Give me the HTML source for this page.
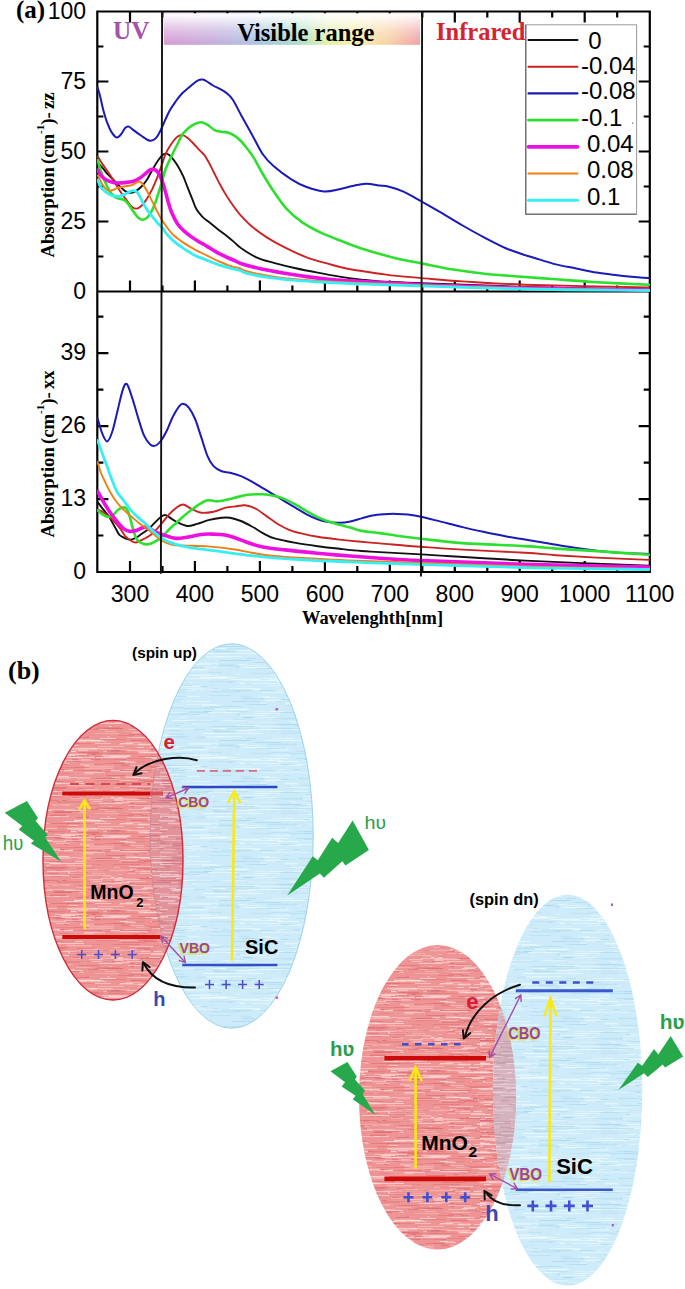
<!DOCTYPE html>
<html><head><meta charset="utf-8"><title>Absorption spectra and band alignment</title>
<style>
html,body{margin:0;padding:0;background:#fff;}
body{width:685px;height:1289px;overflow:hidden;}
svg{display:block;}
.sans{font-family:"Liberation Sans",sans-serif;}
.serif{font-family:"Liberation Serif",serif;}
</style></head><body>
<svg width="685" height="1289" viewBox="0 0 685 1289">
<defs>
<linearGradient id="vis" x1="0" y1="0" x2="1" y2="0">
<stop offset="0" stop-color="#d49ad2"/>
<stop offset="0.18" stop-color="#c6a8da"/>
<stop offset="0.36" stop-color="#a9c2e4"/>
<stop offset="0.52" stop-color="#a6dcc8"/>
<stop offset="0.64" stop-color="#e2f2a6"/>
<stop offset="0.76" stop-color="#f8eca4"/>
<stop offset="0.88" stop-color="#f8cfa4"/>
<stop offset="1" stop-color="#ef9fa6"/>
</linearGradient>
<linearGradient id="fade" x1="0" y1="0" x2="0" y2="1">
<stop offset="0" stop-color="#fff" stop-opacity="1"/>
<stop offset="0.55" stop-color="#fff" stop-opacity="0.35"/>
<stop offset="1" stop-color="#fff" stop-opacity="0"/>
</linearGradient>
</defs>
<rect x="0" y="0" width="685" height="1289" fill="#fff"/>

<path d="M97.3,11.5 H649.8 V572.0 H97.3 Z M97.3,291.5 H649.8 M130.0,572.0 v-10 M130.0,291.5 v-10 M130.0,11.5 v10 M162.5,572.0 v-5 M162.5,291.5 v-5 M162.5,11.5 v5 M194.9,572.0 v-10 M194.9,291.5 v-10 M194.9,11.5 v10 M227.4,572.0 v-5 M227.4,291.5 v-5 M227.4,11.5 v5 M259.9,572.0 v-10 M259.9,291.5 v-10 M259.9,11.5 v10 M292.4,572.0 v-5 M292.4,291.5 v-5 M292.4,11.5 v5 M324.9,572.0 v-10 M324.9,291.5 v-10 M324.9,11.5 v10 M357.3,572.0 v-5 M357.3,291.5 v-5 M357.3,11.5 v5 M389.8,572.0 v-10 M389.8,291.5 v-10 M389.8,11.5 v10 M422.3,572.0 v-5 M422.3,291.5 v-5 M422.3,11.5 v5 M454.8,572.0 v-10 M454.8,291.5 v-10 M454.8,11.5 v10 M487.3,572.0 v-5 M487.3,291.5 v-5 M487.3,11.5 v5 M519.7,572.0 v-10 M519.7,291.5 v-10 M519.7,11.5 v10 M552.2,572.0 v-5 M552.2,291.5 v-5 M552.2,11.5 v5 M584.7,572.0 v-10 M584.7,291.5 v-10 M584.7,11.5 v10 M617.2,572.0 v-5 M617.2,291.5 v-5 M617.2,11.5 v5 M97.3,256.5 h5 M649.8,256.5 h-5 M97.3,221.5 h10 M649.8,221.5 h-10 M97.3,186.5 h5 M649.8,186.5 h-5 M97.3,151.5 h10 M649.8,151.5 h-10 M97.3,116.5 h5 M649.8,116.5 h-5 M97.3,81.5 h10 M649.8,81.5 h-10 M97.3,46.5 h5 M649.8,46.5 h-5 M97.3,535.5 h5 M649.8,535.5 h-5 M97.3,499.1 h10 M649.8,499.1 h-10 M97.3,462.6 h5 M649.8,462.6 h-5 M97.3,426.1 h10 M649.8,426.1 h-10 M97.3,389.7 h5 M649.8,389.7 h-5 M97.3,353.2 h10 M649.8,353.2 h-10 M97.3,316.7 h5 M649.8,316.7 h-5" stroke="#000" stroke-width="2.2" fill="none" stroke-linecap="square"/>
<clipPath id="pc"><rect x="97" y="11" width="553" height="562"/></clipPath>
<g clip-path="url(#pc)" fill="none" stroke-linejoin="round" stroke-linecap="round">
<path d="M97.8,162.5 C98.7,163.5 101.3,166.5 103.0,168.4 C104.7,170.3 106.0,172.3 107.7,174.2 C109.5,176.1 111.5,178.1 113.5,180.0 C115.5,181.9 117.5,184.1 119.4,185.9 C121.4,187.8 123.5,189.9 125.2,191.1 C127.0,192.3 128.2,192.9 129.9,192.9 C131.7,192.9 133.8,192.2 135.7,191.1 C137.6,190.0 139.6,188.5 141.5,186.5 C143.4,184.5 145.5,181.9 147.4,178.9 C149.3,175.9 151.2,171.7 153.2,168.4 C155.1,165.1 157.5,161.2 159.1,159.0 C160.7,156.8 161.4,155.8 162.6,154.9 C163.8,154.0 165.0,153.6 166.1,153.6 C167.2,153.6 168.0,154.0 169.3,155.1 C170.6,156.2 172.4,158.3 174.0,160.4 C175.6,162.5 177.1,164.7 178.7,167.4 C180.3,170.1 181.8,173.2 183.4,176.7 C185.0,180.2 186.4,184.5 188.0,188.4 C189.6,192.3 191.3,196.7 192.7,200.1 C194.1,203.5 194.6,206.0 196.2,208.7 C197.8,211.4 199.9,214.1 202.0,216.3 C204.1,218.5 206.3,219.9 209.0,222.1 C211.7,224.3 215.3,227.3 218.4,229.7 C221.5,232.1 225.0,234.5 227.7,236.7 C230.4,238.8 232.5,240.7 234.7,242.6 C236.9,244.5 237.3,245.6 240.9,248.0 C244.5,250.4 250.8,254.8 256.3,257.3 C261.8,259.8 267.2,261.0 273.8,262.8 C280.4,264.6 288.4,266.6 295.7,268.2 C303.0,269.8 310.3,271.2 317.6,272.6 C324.9,274.0 332.2,275.4 339.5,276.6 C346.8,277.8 354.6,278.8 361.4,279.6 C368.1,280.4 370.0,280.8 380.0,281.4 C390.0,282.0 397.4,282.2 421.6,283.1 C445.8,284.0 487.1,285.8 525.0,286.9 C562.9,288.0 628.3,289.1 649.0,289.5" stroke="#111111" stroke-width="1.9"/>
<path d="M97.8,156.7 C98.7,158.1 101.2,162.2 103.0,164.9 C104.8,167.6 106.8,170.1 108.8,173.0 C110.8,175.9 112.8,179.3 114.7,182.4 C116.7,185.5 118.5,188.8 120.5,191.7 C122.5,194.6 124.5,197.4 126.4,199.9 C128.3,202.4 130.4,205.5 132.2,206.9 C133.9,208.3 135.3,208.8 136.9,208.6 C138.5,208.4 139.9,207.1 141.5,205.7 C143.1,204.2 144.4,202.6 146.2,199.9 C148.0,197.2 150.3,192.9 152.1,189.4 C153.8,185.9 155.1,182.8 156.7,178.9 C158.2,175.0 159.9,170.2 161.4,166.0 C162.9,161.8 164.3,156.9 165.8,153.4 C167.3,149.9 168.9,147.6 170.5,145.2 C172.1,142.8 173.7,140.4 175.2,138.8 C176.7,137.2 177.9,136.2 179.3,135.6 C180.7,135.0 182.0,134.9 183.4,135.3 C184.8,135.7 186.2,136.8 188.0,138.2 C189.8,139.6 192.0,142.0 193.9,144.0 C195.8,146.0 197.9,148.6 199.7,150.4 C201.4,152.2 202.8,153.1 204.4,155.1 C206.0,157.1 207.4,159.9 209.0,162.7 C210.6,165.5 212.1,168.9 213.7,172.0 C215.3,175.1 216.7,178.1 218.4,181.4 C220.2,184.7 222.2,188.6 224.2,191.9 C226.1,195.2 228.1,198.3 230.1,201.2 C232.1,204.1 234.1,207.0 235.9,209.4 C237.7,211.8 238.2,212.8 240.9,215.7 C243.6,218.6 247.5,222.9 251.9,226.6 C256.3,230.2 261.7,234.1 267.2,237.6 C272.7,241.1 278.1,244.1 284.7,247.4 C291.3,250.7 299.3,254.6 306.6,257.3 C313.9,260.1 321.2,261.9 328.5,263.9 C335.8,265.9 341.8,267.7 350.4,269.3 C359.0,270.9 372.2,272.6 380.0,273.7 C387.8,274.8 390.0,275.2 396.9,275.9 C403.8,276.6 410.7,277.2 421.6,278.1 C432.6,279.0 445.4,280.3 462.6,281.4 C479.8,282.5 493.9,283.7 525.0,284.7 C556.1,285.7 628.3,287.0 649.0,287.5" stroke="#cc2222" stroke-width="1.9"/>
<path d="M97.6,87.5 C98.0,89.1 99.4,93.2 100.3,96.9 C101.2,100.6 102.1,105.6 103.2,109.7 C104.3,113.8 105.3,117.7 106.7,121.4 C108.1,125.1 109.8,129.2 111.4,131.9 C113.1,134.6 115.0,137.0 116.6,137.5 C118.1,138.0 119.2,136.4 120.7,134.8 C122.2,133.2 124.0,129.2 125.4,127.8 C126.8,126.4 127.6,126.2 128.9,126.6 C130.2,127.0 131.4,128.5 133.5,130.1 C135.6,131.7 139.0,134.2 141.7,136.0 C144.4,137.8 147.6,140.3 149.9,140.7 C152.2,141.1 153.9,140.0 155.7,138.3 C157.4,136.6 158.8,133.7 160.4,130.7 C162.0,127.7 163.5,123.7 165.1,120.2 C166.7,116.8 168.2,113.2 170.0,110.0 C171.8,106.8 174.0,103.8 176.0,101.0 C178.0,98.2 179.9,95.7 182.0,93.5 C184.1,91.3 186.3,89.7 188.3,88.0 C190.3,86.3 192.3,84.5 194.0,83.2 C195.7,81.9 197.1,80.8 198.5,80.2 C199.9,79.6 201.1,79.4 202.5,79.6 C203.9,79.8 205.2,80.5 207.0,81.5 C208.8,82.5 210.9,84.3 213.0,85.5 C215.1,86.7 217.5,87.6 219.8,88.9 C222.1,90.2 224.6,91.5 226.8,93.3 C229.0,95.1 230.7,96.4 233.0,100.0 C235.3,103.6 237.8,109.0 240.9,114.7 C244.1,120.4 248.2,127.8 251.9,134.4 C255.6,141.0 259.2,148.9 262.8,154.2 C266.4,159.5 269.1,162.1 273.8,166.3 C278.6,170.5 285.8,175.9 291.3,179.3 C296.8,182.8 301.1,185.0 306.6,187.0 C312.1,189.0 318.7,191.0 324.2,191.4 C329.7,191.8 334.8,190.1 339.5,189.2 C344.2,188.3 348.2,186.8 352.6,185.9 C357.0,185.0 361.2,183.8 365.8,183.7 C370.4,183.6 376.3,185.0 380.0,185.5 C383.7,186.0 384.2,185.5 388.1,186.5 C392.0,187.5 397.9,189.1 403.5,191.6 C409.1,194.1 415.4,198.0 421.6,201.5 C427.8,205.0 433.9,208.4 440.7,212.4 C447.5,216.4 455.3,221.3 462.6,225.5 C469.9,229.7 477.2,233.8 484.5,237.6 C491.8,241.4 499.6,245.6 506.4,248.5 C513.1,251.4 520.2,253.5 525.0,255.1 C529.8,256.7 530.2,256.6 535.4,258.2 C540.5,259.8 549.1,262.7 555.9,264.4 C562.7,266.1 569.5,267.1 576.3,268.5 C583.1,269.9 589.9,271.5 596.7,272.6 C603.5,273.7 610.4,274.4 617.2,275.2 C624.0,276.0 632.3,276.8 637.6,277.3 C642.9,277.8 647.1,278.0 649.0,278.1" stroke="#1a1ab8" stroke-width="2.0"/>
<path d="M97.8,160.2 C98.3,161.9 99.5,167.0 100.7,170.7 C102.0,174.4 103.8,178.9 105.3,182.4 C106.8,185.9 108.2,189.2 110.0,191.7 C111.8,194.2 113.6,196.2 115.9,197.6 C118.2,199.0 121.9,198.7 124.0,199.9 C126.1,201.1 127.1,202.7 128.7,204.6 C130.3,206.5 131.8,209.5 133.4,211.6 C135.0,213.7 136.4,216.1 138.0,217.4 C139.6,218.8 141.1,219.7 142.7,219.7 C144.3,219.7 145.8,218.9 147.4,217.4 C149.0,215.9 150.6,213.5 152.1,210.4 C153.6,207.3 155.1,203.2 156.7,198.7 C158.2,194.2 159.9,188.5 161.4,183.5 C162.9,178.5 164.1,173.1 165.8,168.5 C167.5,163.9 169.8,159.8 171.7,155.7 C173.6,151.6 175.6,147.7 177.5,144.0 C179.4,140.3 180.6,136.7 183.0,133.6 C185.4,130.5 188.9,127.6 191.8,125.7 C194.7,123.8 198.0,122.4 200.6,122.2 C203.2,122.0 205.3,123.5 207.6,124.8 C209.9,126.1 212.3,128.9 214.6,130.1 C216.9,131.3 219.3,131.4 221.6,131.8 C223.9,132.2 226.4,132.0 228.6,132.7 C230.8,133.4 232.6,134.4 234.7,135.8 C236.8,137.2 238.8,138.8 240.9,141.0 C243.0,143.2 245.3,146.2 247.5,149.0 C249.7,151.8 251.4,153.9 254.0,158.1 C256.6,162.3 259.5,168.4 262.8,174.0 C266.1,179.6 269.8,185.7 273.8,191.5 C277.8,197.3 282.1,204.0 286.9,209.1 C291.6,214.2 296.4,218.3 302.3,222.3 C308.2,226.3 315.1,229.9 322.0,233.2 C328.9,236.5 337.3,239.4 343.9,242.0 C350.5,244.6 355.4,246.5 361.4,248.5 C367.4,250.5 374.1,252.3 380.0,254.0 C385.9,255.7 390.0,256.8 396.9,258.4 C403.8,260.0 412.5,261.6 421.6,263.4 C430.7,265.2 441.1,267.6 451.6,269.3 C462.1,271.0 472.3,272.4 484.5,273.7 C496.7,275.0 513.1,276.1 525.0,277.0 C536.9,277.9 543.9,278.4 555.9,279.3 C567.9,280.2 581.2,281.3 596.7,282.2 C612.2,283.1 640.3,284.4 649.0,284.8" stroke="#2ee02e" stroke-width="2.6"/>
<path d="M97.8,170.1 C98.5,171.2 100.1,174.8 101.8,176.5 C103.5,178.2 105.8,179.6 107.7,180.6 C109.7,181.6 111.5,182.0 113.5,182.4 C115.5,182.8 117.2,183.0 119.4,183.0 C121.6,183.0 124.1,182.7 126.4,182.4 C128.7,182.1 131.1,182.0 133.4,181.2 C135.7,180.4 138.3,179.1 140.4,177.7 C142.5,176.3 144.4,174.4 146.2,173.0 C147.9,171.6 149.3,170.0 150.9,169.5 C152.5,169.0 154.2,169.3 155.6,170.1 C157.0,170.9 157.9,172.1 159.1,174.2 C160.3,176.2 161.5,179.2 162.6,182.4 C163.7,185.6 164.8,189.7 165.8,193.1 C166.8,196.5 167.5,199.8 168.5,203.0 C169.5,206.2 170.2,209.0 171.7,212.5 C173.2,216.0 175.6,220.9 177.5,223.9 C179.4,226.9 181.2,228.3 183.4,230.3 C185.6,232.3 187.9,234.2 190.4,236.1 C192.9,237.9 195.8,239.7 198.5,241.4 C201.2,243.1 203.8,244.3 206.7,246.1 C209.6,247.8 213.0,250.2 216.1,251.9 C219.2,253.7 222.3,255.1 225.4,256.6 C228.5,258.1 231.8,259.4 234.7,260.7 C237.6,262.0 238.4,262.8 243.1,264.2 C247.8,265.6 255.9,267.8 262.8,269.3 C269.7,270.8 277.4,272.1 284.7,273.3 C292.0,274.5 299.3,275.6 306.6,276.6 C313.9,277.6 321.2,278.5 328.5,279.2 C335.8,279.9 341.8,280.3 350.4,280.9 C359.0,281.4 368.1,281.9 380.0,282.5 C391.9,283.1 397.4,283.8 421.6,284.7 C445.8,285.6 487.1,287.1 525.0,288.0 C562.9,288.9 628.3,289.7 649.0,290.0" stroke="#ee10e0" stroke-width="3.6"/>
<path d="M97.8,175.4 C98.5,176.8 100.3,181.2 101.8,183.5 C103.2,185.8 104.9,188.2 106.5,189.4 C108.1,190.6 109.5,190.7 111.2,190.5 C113.0,190.3 114.9,188.9 117.0,188.2 C119.1,187.5 121.7,187.0 124.0,186.5 C126.3,186.0 128.8,186.0 131.0,185.3 C133.2,184.6 135.3,183.0 136.9,182.4 C138.5,181.8 139.2,181.2 140.4,181.8 C141.6,182.4 142.5,183.9 143.9,185.9 C145.3,187.9 147.1,191.2 148.6,194.1 C150.1,197.0 151.6,200.3 153.2,203.4 C154.8,206.5 156.5,210.0 157.9,212.7 C159.3,215.4 160.3,217.4 161.8,219.8 C163.3,222.2 165.0,224.8 167.0,227.4 C169.0,230.0 171.3,233.0 174.0,235.5 C176.7,238.0 179.9,240.2 183.4,242.6 C186.9,244.9 191.1,247.5 195.0,249.6 C198.9,251.7 202.8,253.5 206.7,255.4 C210.6,257.3 214.5,259.4 218.4,261.2 C222.3,262.9 226.5,264.7 230.1,265.9 C233.7,267.1 237.1,267.6 240.0,268.5 C242.9,269.4 241.9,270.1 247.5,271.5 C253.1,272.9 265.8,275.3 273.8,276.6 C281.8,277.9 286.6,278.4 295.7,279.2 C304.8,280.0 314.4,280.7 328.5,281.4 C342.6,282.1 347.2,282.4 380.0,283.6 C412.8,284.8 480.2,287.4 525.0,288.5 C569.8,289.6 628.3,290.2 649.0,290.5" stroke="#ee7f10" stroke-width="1.9"/>
<path d="M97.8,180.0 C98.3,181.2 99.5,185.1 100.7,187.0 C102.0,188.9 103.5,190.3 105.3,191.7 C107.0,193.1 109.0,194.4 111.2,195.2 C113.4,196.0 115.9,196.6 118.2,196.4 C120.5,196.2 123.1,195.0 125.2,194.1 C127.3,193.2 129.2,191.6 131.0,191.1 C132.8,190.6 134.3,190.4 135.7,191.1 C137.1,191.8 138.0,193.3 139.2,195.2 C140.4,197.0 141.3,199.7 142.7,202.2 C144.1,204.7 145.7,207.8 147.4,210.4 C149.2,213.0 151.4,215.4 153.2,217.6 C155.0,219.8 156.6,221.9 158.0,223.5 C159.4,225.1 160.3,225.2 161.8,227.0 C163.3,228.8 165.0,232.0 167.0,234.4 C169.0,236.8 171.3,239.1 174.0,241.4 C176.7,243.7 179.9,246.1 183.4,248.4 C186.9,250.7 191.1,253.4 195.0,255.4 C198.9,257.4 202.8,258.6 206.7,260.1 C210.6,261.7 214.5,263.4 218.4,264.7 C222.3,266.0 226.5,267.2 230.1,268.2 C233.7,269.2 237.1,269.6 240.0,270.5 C242.9,271.4 241.9,272.4 247.5,273.7 C253.1,275.0 265.8,277.0 273.8,278.1 C281.8,279.2 286.6,279.6 295.7,280.3 C304.8,281.0 314.4,281.8 328.5,282.5 C342.6,283.2 347.2,283.6 380.0,284.7 C412.8,285.8 480.2,288.0 525.0,289.0 C569.8,290.0 628.3,290.2 649.0,290.5" stroke="#38eef5" stroke-width="2.8"/>
<path d="M97.8,502.2 C98.7,503.4 101.2,506.9 103.0,509.2 C104.8,511.5 106.8,513.3 108.8,516.2 C110.8,519.1 112.9,523.6 114.7,526.7 C116.5,529.8 117.7,533.0 119.4,534.9 C121.2,536.8 123.3,537.6 125.2,538.4 C127.1,539.2 129.1,539.8 131.0,539.6 C132.9,539.4 135.0,538.3 136.9,537.2 C138.8,536.1 140.8,534.5 142.7,533.1 C144.6,531.7 146.6,530.6 148.6,529.0 C150.6,527.4 152.5,525.1 154.4,523.2 C156.3,521.3 158.4,518.8 160.2,517.4 C161.9,516.0 163.3,515.0 164.9,515.0 C166.5,515.0 167.8,516.3 169.6,517.4 C171.4,518.5 173.1,520.1 176.0,521.5 C178.9,522.9 183.5,525.6 187.0,526.0 C190.5,526.4 193.5,524.9 197.2,523.9 C200.9,522.9 205.3,520.9 209.4,519.9 C213.5,518.9 218.3,518.2 221.7,517.8 C225.1,517.4 226.8,517.2 230.0,517.7 C233.2,518.2 237.2,519.5 240.9,521.0 C244.6,522.5 248.2,524.5 251.9,526.5 C255.6,528.5 259.2,531.2 262.8,533.1 C266.4,535.0 268.3,536.5 273.8,538.1 C279.3,539.7 288.4,541.5 295.7,542.9 C303.0,544.2 310.3,545.2 317.6,546.2 C324.9,547.2 332.2,548.0 339.5,548.8 C346.8,549.6 354.6,550.5 361.4,551.0 C368.1,551.5 370.1,551.5 380.0,552.1 C389.9,552.7 396.8,553.0 421.0,554.4 C445.2,555.8 487.0,558.7 525.0,560.6 C563.0,562.5 628.3,564.9 649.0,565.8" stroke="#111111" stroke-width="1.9"/>
<path d="M97.8,509.8 C98.7,510.2 101.2,511.0 103.0,512.1 C104.8,513.2 106.8,514.6 108.8,516.2 C110.8,517.9 112.8,519.9 114.7,522.0 C116.7,524.1 118.8,526.6 120.5,529.0 C122.2,531.4 123.5,534.1 125.2,536.1 C127.0,538.1 129.2,539.6 131.0,540.7 C132.8,541.8 134.1,542.5 135.7,542.5 C137.3,542.5 138.7,541.5 140.4,540.7 C142.2,539.9 144.2,539.0 146.2,537.8 C148.1,536.6 150.1,535.4 152.1,533.7 C154.1,532.1 156.0,530.0 157.9,527.9 C159.8,525.8 161.8,523.2 163.7,520.9 C165.6,518.6 167.5,516.0 169.6,513.9 C171.7,511.8 173.8,509.6 176.0,508.0 C178.2,506.4 180.4,504.4 182.9,504.5 C185.4,504.6 188.0,507.2 191.1,508.6 C194.2,510.0 197.6,512.2 201.3,512.7 C205.0,513.2 209.4,512.5 213.5,511.7 C217.6,510.8 222.0,508.5 225.8,507.6 C229.7,506.7 233.3,506.7 236.6,506.3 C239.8,505.9 242.0,504.9 245.3,505.3 C248.6,505.8 252.7,507.1 256.3,509.0 C259.9,510.9 263.6,514.1 267.2,516.6 C270.8,519.1 274.5,522.1 278.2,524.3 C281.9,526.5 285.1,528.2 289.1,529.8 C293.1,531.4 297.6,532.5 302.3,533.7 C307.1,534.9 311.4,535.8 317.6,536.8 C323.8,537.8 332.2,538.8 339.5,539.6 C346.8,540.4 354.6,541.2 361.4,541.8 C368.1,542.4 370.1,542.6 380.0,543.4 C389.9,544.2 407.2,545.8 421.0,546.8 C434.8,547.8 445.3,548.6 462.6,549.6 C479.9,550.6 509.4,551.8 525.0,552.7 C540.5,553.6 543.9,554.4 555.9,555.2 C567.9,556.0 581.2,556.8 596.7,557.6 C612.2,558.4 640.3,559.5 649.0,559.9" stroke="#cc2222" stroke-width="1.9"/>
<path d="M97.5,418.0 C98.3,420.6 100.6,429.5 102.2,433.4 C103.8,437.3 105.6,441.9 107.3,441.5 C109.0,441.1 110.7,436.4 112.4,431.3 C114.1,426.2 115.8,417.7 117.5,410.9 C119.2,404.1 121.1,394.9 122.6,390.4 C124.1,385.9 125.2,382.9 126.7,383.9 C128.2,384.9 129.9,391.1 131.8,396.6 C133.7,402.1 135.9,410.5 137.9,417.0 C139.9,423.5 141.9,430.8 144.0,435.4 C146.1,440.0 148.3,442.9 150.2,444.6 C152.1,446.3 153.6,446.1 155.3,445.6 C157.0,445.1 158.5,443.9 160.4,441.5 C162.3,439.1 164.4,435.4 166.5,431.3 C168.6,427.2 170.6,421.1 172.7,417.0 C174.8,412.9 177.1,409.0 178.8,406.8 C180.5,404.6 181.2,403.5 182.9,403.7 C184.6,403.9 187.0,405.2 189.0,407.8 C191.0,410.4 193.0,414.1 195.1,419.0 C197.2,423.9 199.2,431.3 201.3,437.4 C203.4,443.5 205.4,451.0 207.4,455.8 C209.4,460.6 211.1,463.5 213.5,466.1 C215.9,468.7 218.9,470.1 221.7,471.2 C224.4,472.3 226.8,472.0 230.0,472.8 C233.2,473.6 237.2,474.6 240.9,476.1 C244.6,477.6 248.2,479.6 251.9,481.6 C255.6,483.6 259.2,486.0 262.8,488.2 C266.4,490.4 270.2,492.5 273.8,494.7 C277.4,496.9 281.1,499.1 284.7,501.3 C288.3,503.5 292.0,505.7 295.7,507.9 C299.4,510.1 303.0,512.5 306.6,514.4 C310.2,516.3 314.0,518.0 317.6,519.3 C321.2,520.6 324.9,521.5 328.5,522.1 C332.1,522.7 335.9,522.9 339.5,522.8 C343.1,522.7 346.8,522.2 350.4,521.5 C354.0,520.8 357.8,519.4 361.4,518.4 C365.0,517.4 368.5,516.2 372.3,515.5 C376.1,514.8 379.9,514.5 384.0,514.2 C388.1,513.9 392.9,513.8 396.9,513.9 C400.9,514.0 403.8,514.1 407.8,514.6 C411.8,515.1 415.5,515.6 421.0,516.8 C426.5,518.0 433.8,519.9 440.7,521.6 C447.6,523.3 455.3,525.4 462.6,527.1 C469.9,528.9 477.2,530.5 484.5,532.1 C491.8,533.7 499.6,535.2 506.4,536.5 C513.1,537.8 518.5,538.5 525.0,539.6 C531.5,540.7 537.2,541.5 545.7,542.9 C554.2,544.3 567.8,546.7 576.3,548.0 C584.8,549.3 589.9,549.9 596.7,550.7 C603.5,551.5 608.5,552.2 617.2,552.7 C625.9,553.2 643.7,553.8 649.0,554.0" stroke="#1a1ab8" stroke-width="2.0"/>
<path d="M97.8,510.4 C98.5,511.0 100.1,512.8 101.8,513.9 C103.5,515.0 105.8,516.7 107.7,516.8 C109.7,516.9 111.8,515.7 113.5,514.5 C115.2,513.3 116.6,511.0 118.2,509.8 C119.8,508.6 121.5,507.5 122.9,507.4 C124.4,507.3 125.7,507.5 126.9,509.2 C128.1,510.9 128.8,513.9 129.9,517.4 C131.0,520.9 132.2,526.5 133.4,530.2 C134.6,533.9 135.4,537.4 136.9,539.6 C138.4,541.8 140.8,542.8 142.7,543.6 C144.6,544.4 146.6,544.5 148.6,544.2 C150.6,543.9 152.5,542.9 154.4,541.9 C156.3,540.9 158.2,539.9 160.2,538.4 C162.1,536.9 164.1,534.5 166.1,532.6 C168.1,530.7 170.2,528.3 171.9,526.7 C173.6,525.1 174.5,524.6 176.0,523.2 C177.5,521.8 178.1,521.0 181.0,518.5 C183.9,516.0 189.3,511.3 193.6,508.3 C197.9,505.3 202.6,501.8 206.7,500.6 C210.8,499.4 214.0,501.7 218.4,501.3 C222.8,500.9 228.1,499.3 233.0,498.2 C237.9,497.1 242.6,495.4 247.6,494.8 C252.6,494.2 258.4,494.1 262.8,494.3 C267.2,494.5 270.2,495.0 273.8,495.8 C277.4,496.6 281.1,497.6 284.7,499.1 C288.3,500.6 292.0,502.6 295.7,504.6 C299.4,506.6 303.0,509.1 306.6,511.2 C310.2,513.3 314.0,515.4 317.6,517.1 C321.2,518.8 324.9,520.2 328.5,521.5 C332.1,522.8 335.9,523.7 339.5,524.7 C343.1,525.7 346.8,526.6 350.4,527.6 C354.0,528.6 356.5,530.0 361.4,530.9 C366.3,531.8 374.1,532.3 380.0,533.1 C385.9,533.9 390.1,534.9 396.9,535.8 C403.7,536.7 410.1,537.5 421.0,538.7 C431.9,539.9 445.3,541.9 462.6,543.1 C479.9,544.3 509.4,545.2 525.0,546.1 C540.5,547.0 543.9,547.8 555.9,548.6 C567.9,549.4 581.2,550.1 596.7,551.1 C612.2,552.1 640.3,554.2 649.0,554.8" stroke="#2ee02e" stroke-width="2.6"/>
<path d="M97.8,491.7 C98.7,493.2 101.2,497.9 103.0,501.0 C104.8,504.1 106.8,507.5 108.8,510.4 C110.8,513.3 112.9,516.2 114.7,518.5 C116.5,520.8 117.9,522.6 119.4,524.4 C121.0,526.1 122.2,527.8 124.0,529.0 C125.8,530.2 127.8,531.2 129.9,531.4 C132.1,531.6 134.6,530.9 136.9,530.2 C139.2,529.5 142.0,527.7 143.9,527.3 C145.8,526.9 146.8,527.2 148.6,527.9 C150.3,528.6 152.3,530.3 154.4,531.4 C156.5,532.5 159.1,533.4 161.4,534.3 C163.7,535.2 166.0,535.9 168.4,536.6 C170.8,537.3 172.9,538.3 176.0,538.4 C179.1,538.5 182.4,537.9 187.0,537.2 C191.6,536.5 198.6,534.8 203.3,534.3 C208.0,533.8 211.4,534.1 215.0,534.2 C218.6,534.3 221.7,534.4 225.0,535.0 C228.3,535.6 231.7,536.7 235.0,537.8 C238.3,538.9 242.2,540.5 245.0,541.5 C247.8,542.5 248.9,543.1 251.9,544.0 C254.9,544.9 257.3,545.9 262.8,546.9 C268.3,547.9 277.4,549.0 284.7,549.9 C292.0,550.8 299.3,551.4 306.6,552.1 C313.9,552.8 321.2,553.6 328.5,554.3 C335.8,554.9 341.8,555.4 350.4,556.0 C359.0,556.6 368.2,557.4 380.0,558.2 C391.8,559.0 396.8,559.6 421.0,560.6 C445.2,561.6 487.0,563.2 525.0,564.3 C563.0,565.4 628.3,566.5 649.0,567.0" stroke="#ee10e0" stroke-width="3.6"/>
<path d="M97.5,462.0 C98.1,463.8 99.9,470.0 101.0,473.0 C102.1,476.0 102.7,476.9 104.2,480.0 C105.7,483.1 108.0,488.2 110.0,491.7 C112.0,495.2 113.8,498.1 115.9,501.0 C118.1,503.9 120.4,506.7 122.9,509.2 C125.4,511.7 128.3,513.9 131.0,516.2 C133.7,518.5 136.5,521.1 139.2,523.2 C141.9,525.3 144.9,527.0 147.4,529.0 C149.9,531.0 152.3,533.1 154.4,534.9 C156.5,536.7 157.9,538.1 160.2,539.6 C162.5,541.1 165.8,542.6 168.4,543.6 C171.0,544.6 172.9,545.1 176.0,545.4 C179.1,545.7 181.8,545.4 187.0,545.6 C192.2,545.8 199.4,545.8 207.4,546.4 C215.4,547.0 227.6,548.4 235.0,549.5 C242.4,550.6 245.4,551.7 251.9,552.8 C258.4,553.9 264.7,555.1 273.8,556.0 C282.9,556.9 295.7,557.5 306.6,558.2 C317.6,558.9 327.3,559.5 339.5,560.0 C351.7,560.5 349.1,560.4 380.0,561.5 C410.9,562.6 480.2,565.2 525.0,566.5 C569.8,567.8 628.3,568.6 649.0,569.0" stroke="#ee7f10" stroke-width="1.9"/>
<path d="M97.5,440.5 C98.5,443.1 101.5,451.2 103.2,456.0 C105.0,460.8 106.7,465.3 108.0,469.0 C109.3,472.7 109.8,474.2 111.3,478.0 C112.8,481.8 114.9,487.9 117.0,491.7 C119.1,495.5 121.7,497.9 124.0,501.0 C126.3,504.1 128.7,507.7 131.0,510.4 C133.3,513.1 135.7,515.3 138.0,517.4 C140.3,519.5 142.7,521.1 145.0,523.2 C147.3,525.3 149.7,528.1 152.0,530.2 C154.3,532.4 156.8,534.4 159.1,536.1 C161.4,537.9 163.3,539.3 166.1,540.7 C168.9,542.1 172.7,543.3 176.0,544.3 C179.3,545.3 182.5,546.2 186.0,546.9 C189.5,547.6 191.9,548.0 197.2,548.7 C202.5,549.4 211.3,550.3 217.6,551.1 C223.9,551.9 229.3,552.9 235.0,553.6 C240.7,554.4 245.4,554.9 251.9,555.6 C258.4,556.3 264.7,557.1 273.8,557.8 C282.9,558.5 295.7,559.4 306.6,560.0 C317.6,560.6 327.3,561.0 339.5,561.5 C351.7,562.0 349.1,562.1 380.0,563.1 C410.9,564.1 480.2,566.5 525.0,567.6 C569.8,568.7 628.3,569.2 649.0,569.5" stroke="#38eef5" stroke-width="2.8"/>
</g>
<path d="M162.1,12 L160.9,573.8 M422.1,12 L421,576.5" stroke="#111" stroke-width="1.9" fill="none"/>
<rect x="163.8" y="13.5" width="256.2" height="31.3" fill="url(#vis)"/>
<rect x="163.8" y="13.5" width="256.2" height="31.3" fill="url(#fade)"/>
<g class="sans" font-size="23" fill="#000" text-anchor="end">
<text x="86" y="18.5">100</text>
<text x="86" y="88.5">75</text>
<text x="86" y="158.5">50</text>
<text x="86" y="228.5">25</text>
<text x="86" y="298.5">0</text>
<text x="86" y="360.2">39</text>
<text x="86" y="433.1">26</text>
<text x="86" y="506.1">13</text>
<text x="86" y="579.0">0</text>
</g>
<g class="sans" font-size="23" fill="#000" text-anchor="middle">
<text x="130.0" y="602">300</text>
<text x="194.9" y="602">400</text>
<text x="259.9" y="602">500</text>
<text x="324.9" y="602">600</text>
<text x="389.8" y="602">700</text>
<text x="454.8" y="602">800</text>
<text x="519.7" y="602">900</text>
<text x="584.7" y="602">1000</text>
<text x="649.7" y="602">1100</text>
</g>
<text class="serif" x="16" y="18" font-size="25" font-weight="bold">(a)</text>
<text class="serif" x="302" y="623.5" font-size="18.4" font-weight="bold">Wavelenghth[nm]</text>
<text class="serif" font-size="18.7" font-weight="bold" word-spacing="-1.5" transform="translate(54,257.5) rotate(-90)">Absorption (cm<tspan font-size="11" dy="-10">-1</tspan><tspan dy="10">)- zz</tspan></text>
<text class="serif" font-size="18.7" font-weight="bold" word-spacing="-1.5" transform="translate(54,537.5) rotate(-90)">Absorption (cm<tspan font-size="11" dy="-10">-1</tspan><tspan dy="10">)- xx</tspan></text>
<text class="serif" x="113" y="38.7" font-size="25.2" font-weight="bold" fill="#a651a8">UV</text>
<text class="serif" x="237.2" y="40.7" font-size="24.4" font-weight="bold" fill="#000" textLength="137.3" lengthAdjust="spacingAndGlyphs">Visible range</text>
<text class="serif" x="436" y="40.2" font-size="24.5" font-weight="bold" fill="#d42430">Infrared</text>
<rect x="525.8" y="24.8" width="110.8" height="189.4" fill="#fff" stroke="#999" stroke-width="1"/>
<path d="M525.8,24.8 V214.2 H636.6" stroke="#555" stroke-width="1" fill="none"/>
<path d="M528.5,40.0 H577.5" stroke="#111111" stroke-width="2.1" stroke-linecap="round"/>
<path d="M528.5,66.7 H577.5" stroke="#cc2222" stroke-width="2.1" stroke-linecap="round"/>
<path d="M528.5,93.4 H577.5" stroke="#1a1ab8" stroke-width="2.2" stroke-linecap="round"/>
<path d="M528.5,120.1 H577.5" stroke="#2ee02e" stroke-width="2.8000000000000003" stroke-linecap="round"/>
<path d="M528.5,146.8 H577.5" stroke="#ee10e0" stroke-width="3.8000000000000003" stroke-linecap="round"/>
<path d="M528.5,173.5 H577.5" stroke="#ee7f10" stroke-width="2.1" stroke-linecap="round"/>
<path d="M528.5,200.2 H577.5" stroke="#38eef5" stroke-width="3.0" stroke-linecap="round"/>
<g class="sans" font-size="24" fill="#000">
<text x="588.3" y="49.2">0</text>
<text x="581" y="73.5">-0.04</text>
<text x="581" y="99.3">-0.08</text>
<text x="581" y="125.8">-0.1</text>
<text x="587" y="151.6">0.04</text>
<text x="587" y="178.2">0.08</text>
<text x="587" y="204.7">0.1</text>
</g>
<rect x="632" y="122.5" width="1.2" height="1.5" fill="#888"/>
<defs><pattern id="redtex" patternUnits="userSpaceOnUse" width="160" height="80">
<rect width="160" height="80" fill="#ee9494"/>
<path d="M151,41.5h14" stroke="#fde0de" stroke-width="1" stroke-opacity="0.67"/>
<path d="M-9,41.5h14" stroke="#fde0de" stroke-width="1" stroke-opacity="0.67"/>
<path d="M85,46.5h29" stroke="#fde0de" stroke-width="1.5" stroke-opacity="0.34"/>
<path d="M23,8.5h19" stroke="#fde0de" stroke-width="1" stroke-opacity="0.55"/>
<path d="M151,74.5h20" stroke="#fde0de" stroke-width="1" stroke-opacity="0.74"/>
<path d="M-9,74.5h20" stroke="#fde0de" stroke-width="1" stroke-opacity="0.74"/>
<path d="M135,71.5h11" stroke="#fde0de" stroke-width="1" stroke-opacity="0.35"/>
<path d="M127,71.5h8" stroke="#de6a70" stroke-width="1" stroke-opacity="0.59"/>
<path d="M79,12.5h5" stroke="#fde0de" stroke-width="1.5" stroke-opacity="0.39"/>
<path d="M64,40.5h30" stroke="#fde0de" stroke-width="1" stroke-opacity="0.41"/>
<path d="M-5,31.5h12" stroke="#fde0de" stroke-width="1.5" stroke-opacity="0.45"/>
<path d="M90,36.5h5" stroke="#fde0de" stroke-width="1" stroke-opacity="0.37"/>
<path d="M148,19.5h15" stroke="#de6a70" stroke-width="1" stroke-opacity="0.33"/>
<path d="M-12,19.5h15" stroke="#de6a70" stroke-width="1" stroke-opacity="0.33"/>
<path d="M105,43.5h20" stroke="#de6a70" stroke-width="1" stroke-opacity="0.51"/>
<path d="M65,34.5h22" stroke="#fde0de" stroke-width="1.5" stroke-opacity="0.62"/>
<path d="M109,36.5h29" stroke="#fde0de" stroke-width="1" stroke-opacity="0.72"/>
<path d="M90,21.5h17" stroke="#fde0de" stroke-width="1" stroke-opacity="0.43"/>
<path d="M50,50.5h28" stroke="#fde0de" stroke-width="1" stroke-opacity="0.50"/>
<path d="M127,17.5h28" stroke="#fde0de" stroke-width="1" stroke-opacity="0.49"/>
<path d="M152,48.5h7" stroke="#fde0de" stroke-width="1" stroke-opacity="0.40"/>
<path d="M67,1.5h20" stroke="#fde0de" stroke-width="1.5" stroke-opacity="0.30"/>
<path d="M46,68.5h19" stroke="#de6a70" stroke-width="1" stroke-opacity="0.61"/>
<path d="M142,58.5h26" stroke="#de6a70" stroke-width="1.5" stroke-opacity="0.66"/>
<path d="M-18,58.5h26" stroke="#de6a70" stroke-width="1.5" stroke-opacity="0.66"/>
<path d="M52,50.5h6" stroke="#de6a70" stroke-width="1" stroke-opacity="0.33"/>
<path d="M59,26.5h6" stroke="#de6a70" stroke-width="1" stroke-opacity="0.35"/>
<path d="M-2,68.5h14" stroke="#fde0de" stroke-width="1.5" stroke-opacity="0.69"/>
<path d="M94,19.5h31" stroke="#de6a70" stroke-width="1" stroke-opacity="0.51"/>
<path d="M159,62.5h17" stroke="#fde0de" stroke-width="1" stroke-opacity="0.34"/>
<path d="M-1,62.5h17" stroke="#fde0de" stroke-width="1" stroke-opacity="0.34"/>
<path d="M113,43.5h17" stroke="#de6a70" stroke-width="1" stroke-opacity="0.53"/>
<path d="M45,67.5h23" stroke="#de6a70" stroke-width="1" stroke-opacity="0.64"/>
<path d="M105,11.5h11" stroke="#fde0de" stroke-width="1" stroke-opacity="0.38"/>
<path d="M77,68.5h18" stroke="#de6a70" stroke-width="1" stroke-opacity="0.58"/>
<path d="M127,30.5h24" stroke="#fde0de" stroke-width="1" stroke-opacity="0.53"/>
<path d="M158,3.5h26" stroke="#fde0de" stroke-width="1" stroke-opacity="0.39"/>
<path d="M-2,3.5h26" stroke="#fde0de" stroke-width="1" stroke-opacity="0.39"/>
<path d="M126,57.5h24" stroke="#fde0de" stroke-width="1" stroke-opacity="0.74"/>
<path d="M-2,28.5h17" stroke="#fde0de" stroke-width="1" stroke-opacity="0.52"/>
<path d="M144,61.5h13" stroke="#de6a70" stroke-width="1" stroke-opacity="0.68"/>
<path d="M121,49.5h25" stroke="#fde0de" stroke-width="1" stroke-opacity="0.38"/>
<path d="M124,11.5h31" stroke="#fde0de" stroke-width="1" stroke-opacity="0.48"/>
<path d="M11,20.5h7" stroke="#fde0de" stroke-width="1" stroke-opacity="0.71"/>
<path d="M129,78.5h31" stroke="#de6a70" stroke-width="1" stroke-opacity="0.46"/>
<path d="M-31,78.5h31" stroke="#de6a70" stroke-width="1" stroke-opacity="0.46"/>
<path d="M-17,2.5h31" stroke="#de6a70" stroke-width="1" stroke-opacity="0.54"/>
<path d="M158,55.5h9" stroke="#de6a70" stroke-width="1" stroke-opacity="0.31"/>
<path d="M-2,55.5h9" stroke="#de6a70" stroke-width="1" stroke-opacity="0.31"/>
<path d="M70,37.5h25" stroke="#fde0de" stroke-width="1" stroke-opacity="0.54"/>
<path d="M144,7.5h13" stroke="#fde0de" stroke-width="1.5" stroke-opacity="0.56"/>
<path d="M4,64.5h7" stroke="#fde0de" stroke-width="1" stroke-opacity="0.69"/>
<path d="M-19,77.5h26" stroke="#fde0de" stroke-width="1" stroke-opacity="0.51"/>
<path d="M-9,71.5h23" stroke="#fde0de" stroke-width="1" stroke-opacity="0.52"/>
<path d="M-10,71.5h9" stroke="#fde0de" stroke-width="1.5" stroke-opacity="0.34"/>
<path d="M-15,71.5h29" stroke="#fde0de" stroke-width="1" stroke-opacity="0.45"/>
<path d="M61,35.5h18" stroke="#fde0de" stroke-width="1" stroke-opacity="0.72"/>
<path d="M141,71.5h9" stroke="#fde0de" stroke-width="1.5" stroke-opacity="0.49"/>
<path d="M37,56.5h22" stroke="#fde0de" stroke-width="1" stroke-opacity="0.40"/>
<path d="M141,15.5h7" stroke="#de6a70" stroke-width="1" stroke-opacity="0.60"/>
<path d="M139,32.5h31" stroke="#fde0de" stroke-width="1.5" stroke-opacity="0.73"/>
<path d="M-21,32.5h31" stroke="#fde0de" stroke-width="1.5" stroke-opacity="0.73"/>
<path d="M9,62.5h22" stroke="#fde0de" stroke-width="1.5" stroke-opacity="0.62"/>
<path d="M56,43.5h13" stroke="#fde0de" stroke-width="1" stroke-opacity="0.46"/>
<path d="M63,70.5h23" stroke="#fde0de" stroke-width="1" stroke-opacity="0.53"/>
<path d="M153,65.5h6" stroke="#de6a70" stroke-width="1" stroke-opacity="0.40"/>
<path d="M28,10.5h4" stroke="#de6a70" stroke-width="1" stroke-opacity="0.42"/>
<path d="M133,54.5h23" stroke="#de6a70" stroke-width="1.5" stroke-opacity="0.48"/>
<path d="M-4,41.5h5" stroke="#de6a70" stroke-width="1" stroke-opacity="0.49"/>
<path d="M149,34.5h21" stroke="#de6a70" stroke-width="1" stroke-opacity="0.34"/>
<path d="M-11,34.5h21" stroke="#de6a70" stroke-width="1" stroke-opacity="0.34"/>
<path d="M28,8.5h7" stroke="#fde0de" stroke-width="1.5" stroke-opacity="0.75"/>
<path d="M92,34.5h4" stroke="#de6a70" stroke-width="1" stroke-opacity="0.72"/>
<path d="M-11,33.5h9" stroke="#fde0de" stroke-width="1" stroke-opacity="0.44"/>
<path d="M60,37.5h22" stroke="#fde0de" stroke-width="1" stroke-opacity="0.66"/>
<path d="M-17,4.5h24" stroke="#de6a70" stroke-width="1.5" stroke-opacity="0.39"/>
<path d="M148,31.5h6" stroke="#de6a70" stroke-width="1.5" stroke-opacity="0.49"/>
<path d="M130,69.5h14" stroke="#fde0de" stroke-width="1" stroke-opacity="0.61"/>
<path d="M16,43.5h29" stroke="#de6a70" stroke-width="1" stroke-opacity="0.36"/>
<path d="M131,6.5h3" stroke="#de6a70" stroke-width="1.5" stroke-opacity="0.70"/>
<path d="M-10,20.5h22" stroke="#fde0de" stroke-width="1" stroke-opacity="0.53"/>
<path d="M24,76.5h11" stroke="#fde0de" stroke-width="1.5" stroke-opacity="0.37"/>
<path d="M27,0.5h31" stroke="#de6a70" stroke-width="1" stroke-opacity="0.55"/>
<path d="M154,4.5h12" stroke="#fde0de" stroke-width="1.5" stroke-opacity="0.30"/>
<path d="M-6,4.5h12" stroke="#fde0de" stroke-width="1.5" stroke-opacity="0.30"/>
<path d="M65,10.5h18" stroke="#fde0de" stroke-width="1" stroke-opacity="0.53"/>
<path d="M28,11.5h6" stroke="#fde0de" stroke-width="1" stroke-opacity="0.32"/>
<path d="M35,38.5h10" stroke="#de6a70" stroke-width="1" stroke-opacity="0.54"/>
<path d="M50,76.5h12" stroke="#de6a70" stroke-width="1" stroke-opacity="0.37"/>
<path d="M128,5.5h24" stroke="#fde0de" stroke-width="1" stroke-opacity="0.49"/>
<path d="M116,67.5h19" stroke="#de6a70" stroke-width="1" stroke-opacity="0.31"/>
<path d="M-14,10.5h7" stroke="#fde0de" stroke-width="1.5" stroke-opacity="0.35"/>
<path d="M-11,71.5h4" stroke="#fde0de" stroke-width="1" stroke-opacity="0.41"/>
<path d="M62,0.5h5" stroke="#de6a70" stroke-width="1" stroke-opacity="0.70"/>
<path d="M-8,67.5h24" stroke="#fde0de" stroke-width="1" stroke-opacity="0.33"/>
<path d="M111,30.5h9" stroke="#de6a70" stroke-width="1.5" stroke-opacity="0.74"/>
<path d="M-6,48.5h29" stroke="#fde0de" stroke-width="1" stroke-opacity="0.32"/>
<path d="M88,9.5h13" stroke="#de6a70" stroke-width="1" stroke-opacity="0.61"/>
<path d="M67,1.5h17" stroke="#de6a70" stroke-width="1" stroke-opacity="0.34"/>
<path d="M32,62.5h18" stroke="#fde0de" stroke-width="1" stroke-opacity="0.51"/>
<path d="M16,70.5h31" stroke="#de6a70" stroke-width="1.5" stroke-opacity="0.31"/>
<path d="M128,9.5h31" stroke="#fde0de" stroke-width="1" stroke-opacity="0.42"/>
<path d="M-7,26.5h6" stroke="#de6a70" stroke-width="1" stroke-opacity="0.42"/>
<path d="M89,16.5h21" stroke="#fde0de" stroke-width="1" stroke-opacity="0.35"/>
<path d="M70,29.5h28" stroke="#fde0de" stroke-width="1.5" stroke-opacity="0.37"/>
<path d="M53,57.5h24" stroke="#fde0de" stroke-width="1" stroke-opacity="0.47"/>
<path d="M-20,42.5h25" stroke="#de6a70" stroke-width="1" stroke-opacity="0.35"/>
<path d="M142,1.5h11" stroke="#fde0de" stroke-width="1" stroke-opacity="0.48"/>
<path d="M147,46.5h25" stroke="#de6a70" stroke-width="1" stroke-opacity="0.43"/>
<path d="M-13,46.5h25" stroke="#de6a70" stroke-width="1" stroke-opacity="0.43"/>
<path d="M94,36.5h7" stroke="#de6a70" stroke-width="1" stroke-opacity="0.50"/>
<path d="M119,24.5h26" stroke="#fde0de" stroke-width="1.5" stroke-opacity="0.31"/>
<path d="M79,70.5h24" stroke="#fde0de" stroke-width="1.5" stroke-opacity="0.63"/>
<path d="M115,78.5h22" stroke="#fde0de" stroke-width="1" stroke-opacity="0.32"/>
<path d="M65,21.5h13" stroke="#fde0de" stroke-width="1" stroke-opacity="0.63"/>
<path d="M98,51.5h12" stroke="#de6a70" stroke-width="1" stroke-opacity="0.48"/>
<path d="M-6,20.5h18" stroke="#de6a70" stroke-width="1.5" stroke-opacity="0.55"/>
<path d="M159,42.5h16" stroke="#fde0de" stroke-width="1" stroke-opacity="0.39"/>
<path d="M-1,42.5h16" stroke="#fde0de" stroke-width="1" stroke-opacity="0.39"/>
<path d="M42,22.5h6" stroke="#fde0de" stroke-width="1" stroke-opacity="0.42"/>
<path d="M115,2.5h15" stroke="#fde0de" stroke-width="1.5" stroke-opacity="0.54"/>
<path d="M41,34.5h5" stroke="#fde0de" stroke-width="1" stroke-opacity="0.74"/>
<path d="M75,64.5h26" stroke="#de6a70" stroke-width="1" stroke-opacity="0.34"/>
<path d="M52,49.5h16" stroke="#de6a70" stroke-width="1" stroke-opacity="0.68"/>
<path d="M-14,16.5h24" stroke="#de6a70" stroke-width="1.5" stroke-opacity="0.51"/>
<path d="M-7,0.5h30" stroke="#de6a70" stroke-width="1.5" stroke-opacity="0.54"/>
<path d="M25,57.5h6" stroke="#fde0de" stroke-width="1" stroke-opacity="0.54"/>
<path d="M-5,58.5h26" stroke="#fde0de" stroke-width="1" stroke-opacity="0.36"/>
<path d="M153,38.5h21" stroke="#fde0de" stroke-width="1" stroke-opacity="0.50"/>
<path d="M-7,38.5h21" stroke="#fde0de" stroke-width="1" stroke-opacity="0.50"/>
<path d="M-7,12.5h18" stroke="#de6a70" stroke-width="1" stroke-opacity="0.47"/>
<path d="M-20,76.5h19" stroke="#de6a70" stroke-width="1" stroke-opacity="0.43"/>
<path d="M66,31.5h10" stroke="#fde0de" stroke-width="1" stroke-opacity="0.73"/>
<path d="M-16,7.5h17" stroke="#de6a70" stroke-width="1" stroke-opacity="0.49"/>
<path d="M100,29.5h30" stroke="#fde0de" stroke-width="1" stroke-opacity="0.32"/>
<path d="M45,53.5h14" stroke="#fde0de" stroke-width="1" stroke-opacity="0.43"/>
<path d="M69,26.5h9" stroke="#de6a70" stroke-width="1.5" stroke-opacity="0.39"/>
<path d="M28,28.5h29" stroke="#fde0de" stroke-width="1" stroke-opacity="0.58"/>
<path d="M67,28.5h29" stroke="#fde0de" stroke-width="1.5" stroke-opacity="0.57"/>
<path d="M18,6.5h31" stroke="#fde0de" stroke-width="1" stroke-opacity="0.32"/>
<path d="M51,23.5h29" stroke="#de6a70" stroke-width="1" stroke-opacity="0.63"/>
<path d="M39,21.5h8" stroke="#de6a70" stroke-width="1" stroke-opacity="0.64"/>
<path d="M100,39.5h14" stroke="#fde0de" stroke-width="1" stroke-opacity="0.45"/>
<path d="M-19,13.5h11" stroke="#fde0de" stroke-width="1" stroke-opacity="0.73"/>
<path d="M154,71.5h9" stroke="#fde0de" stroke-width="1.5" stroke-opacity="0.67"/>
<path d="M-6,71.5h9" stroke="#fde0de" stroke-width="1.5" stroke-opacity="0.67"/>
<path d="M-11,11.5h17" stroke="#fde0de" stroke-width="1" stroke-opacity="0.71"/>
<path d="M46,41.5h29" stroke="#fde0de" stroke-width="1.5" stroke-opacity="0.48"/>
<path d="M48,5.5h16" stroke="#de6a70" stroke-width="1" stroke-opacity="0.33"/>
<path d="M142,8.5h13" stroke="#fde0de" stroke-width="1" stroke-opacity="0.73"/>
<path d="M114,33.5h23" stroke="#de6a70" stroke-width="1" stroke-opacity="0.43"/>
<path d="M129,3.5h6" stroke="#de6a70" stroke-width="1.5" stroke-opacity="0.51"/>
<path d="M144,32.5h27" stroke="#fde0de" stroke-width="1" stroke-opacity="0.52"/>
<path d="M-16,32.5h27" stroke="#fde0de" stroke-width="1" stroke-opacity="0.52"/>
<path d="M128,38.5h25" stroke="#de6a70" stroke-width="1" stroke-opacity="0.45"/>
<path d="M45,58.5h26" stroke="#fde0de" stroke-width="1" stroke-opacity="0.39"/>
<path d="M53,31.5h22" stroke="#fde0de" stroke-width="1" stroke-opacity="0.55"/>
<path d="M139,54.5h32" stroke="#fde0de" stroke-width="1" stroke-opacity="0.34"/>
<path d="M-21,54.5h32" stroke="#fde0de" stroke-width="1" stroke-opacity="0.34"/>
<path d="M70,53.5h24" stroke="#fde0de" stroke-width="1.5" stroke-opacity="0.41"/>
<path d="M92,58.5h23" stroke="#de6a70" stroke-width="1" stroke-opacity="0.68"/>
<path d="M33,37.5h19" stroke="#fde0de" stroke-width="1" stroke-opacity="0.63"/>
<path d="M25,56.5h10" stroke="#fde0de" stroke-width="1" stroke-opacity="0.70"/>
<path d="M-8,41.5h10" stroke="#fde0de" stroke-width="1" stroke-opacity="0.54"/>
<path d="M158,59.5h6" stroke="#fde0de" stroke-width="1.5" stroke-opacity="0.67"/>
<path d="M-2,59.5h6" stroke="#fde0de" stroke-width="1.5" stroke-opacity="0.67"/>
<path d="M-13,47.5h12" stroke="#fde0de" stroke-width="1" stroke-opacity="0.39"/>
<path d="M47,9.5h28" stroke="#fde0de" stroke-width="1" stroke-opacity="0.42"/>
<path d="M95,13.5h24" stroke="#fde0de" stroke-width="1" stroke-opacity="0.32"/>
<path d="M-12,18.5h32" stroke="#fde0de" stroke-width="1" stroke-opacity="0.63"/>
<path d="M127,1.5h15" stroke="#fde0de" stroke-width="1" stroke-opacity="0.58"/>
<path d="M-14,26.5h17" stroke="#fde0de" stroke-width="1.5" stroke-opacity="0.48"/>
<path d="M8,70.5h18" stroke="#de6a70" stroke-width="1" stroke-opacity="0.48"/>
<path d="M158,52.5h22" stroke="#fde0de" stroke-width="1" stroke-opacity="0.32"/>
<path d="M-2,52.5h22" stroke="#fde0de" stroke-width="1" stroke-opacity="0.32"/>
<path d="M55,53.5h28" stroke="#de6a70" stroke-width="1" stroke-opacity="0.46"/>
<path d="M111,50.5h9" stroke="#fde0de" stroke-width="1.5" stroke-opacity="0.71"/>
<path d="M128,14.5h15" stroke="#de6a70" stroke-width="1" stroke-opacity="0.51"/>
<path d="M-17,16.5h19" stroke="#de6a70" stroke-width="1" stroke-opacity="0.71"/>
<path d="M92,73.5h14" stroke="#fde0de" stroke-width="1" stroke-opacity="0.37"/>
<path d="M74,20.5h30" stroke="#fde0de" stroke-width="1" stroke-opacity="0.52"/>
<path d="M3,38.5h30" stroke="#de6a70" stroke-width="1" stroke-opacity="0.52"/>
<path d="M147,77.5h14" stroke="#de6a70" stroke-width="1" stroke-opacity="0.58"/>
<path d="M-13,77.5h14" stroke="#de6a70" stroke-width="1" stroke-opacity="0.58"/>
<path d="M92,28.5h21" stroke="#fde0de" stroke-width="1" stroke-opacity="0.51"/>
<path d="M52,5.5h18" stroke="#fde0de" stroke-width="1" stroke-opacity="0.36"/>
<path d="M-13,24.5h19" stroke="#de6a70" stroke-width="1" stroke-opacity="0.32"/>
<path d="M50,15.5h16" stroke="#de6a70" stroke-width="1.5" stroke-opacity="0.65"/>
<path d="M85,39.5h15" stroke="#de6a70" stroke-width="1.5" stroke-opacity="0.50"/>
<path d="M-16,22.5h21" stroke="#fde0de" stroke-width="1.5" stroke-opacity="0.41"/>
<path d="M126,22.5h15" stroke="#fde0de" stroke-width="1" stroke-opacity="0.46"/>
<path d="M124,11.5h18" stroke="#de6a70" stroke-width="1" stroke-opacity="0.32"/>
<path d="M146,10.5h12" stroke="#de6a70" stroke-width="1.5" stroke-opacity="0.34"/>
<path d="M-15,17.5h5" stroke="#de6a70" stroke-width="1" stroke-opacity="0.61"/>
<path d="M4,24.5h29" stroke="#fde0de" stroke-width="1" stroke-opacity="0.66"/>
<path d="M-8,28.5h13" stroke="#de6a70" stroke-width="1" stroke-opacity="0.37"/>
<path d="M6,58.5h18" stroke="#de6a70" stroke-width="1" stroke-opacity="0.39"/>
<path d="M71,78.5h12" stroke="#fde0de" stroke-width="1" stroke-opacity="0.38"/>
<path d="M102,35.5h29" stroke="#fde0de" stroke-width="1" stroke-opacity="0.65"/>
<path d="M-11,67.5h28" stroke="#de6a70" stroke-width="1" stroke-opacity="0.50"/>
<path d="M159,32.5h21" stroke="#fde0de" stroke-width="1" stroke-opacity="0.66"/>
<path d="M-1,32.5h21" stroke="#fde0de" stroke-width="1" stroke-opacity="0.66"/>
<path d="M158,48.5h20" stroke="#fde0de" stroke-width="1.5" stroke-opacity="0.64"/>
<path d="M-2,48.5h20" stroke="#fde0de" stroke-width="1.5" stroke-opacity="0.64"/>
<path d="M12,29.5h25" stroke="#fde0de" stroke-width="1" stroke-opacity="0.67"/>
<path d="M95,39.5h32" stroke="#de6a70" stroke-width="1" stroke-opacity="0.60"/>
<path d="M114,0.5h9" stroke="#fde0de" stroke-width="1.5" stroke-opacity="0.58"/>
<path d="M46,65.5h4" stroke="#fde0de" stroke-width="1" stroke-opacity="0.58"/>
<path d="M-10,2.5h19" stroke="#fde0de" stroke-width="1" stroke-opacity="0.54"/>
<path d="M85,52.5h20" stroke="#fde0de" stroke-width="1.5" stroke-opacity="0.58"/>
<path d="M4,20.5h30" stroke="#fde0de" stroke-width="1" stroke-opacity="0.37"/>
<path d="M95,8.5h28" stroke="#de6a70" stroke-width="1" stroke-opacity="0.48"/>
<path d="M-10,1.5h27" stroke="#de6a70" stroke-width="1.5" stroke-opacity="0.57"/>
<path d="M149,77.5h24" stroke="#fde0de" stroke-width="1" stroke-opacity="0.71"/>
<path d="M-11,77.5h24" stroke="#fde0de" stroke-width="1" stroke-opacity="0.71"/>
<path d="M76,7.5h15" stroke="#fde0de" stroke-width="1" stroke-opacity="0.33"/>
<path d="M90,1.5h22" stroke="#fde0de" stroke-width="1.5" stroke-opacity="0.49"/>
<path d="M11,78.5h12" stroke="#fde0de" stroke-width="1.5" stroke-opacity="0.32"/>
<path d="M-19,68.5h27" stroke="#de6a70" stroke-width="1.5" stroke-opacity="0.51"/>
<path d="M21,22.5h6" stroke="#fde0de" stroke-width="1" stroke-opacity="0.32"/>
<path d="M108,33.5h11" stroke="#de6a70" stroke-width="1" stroke-opacity="0.50"/>
<path d="M96,37.5h31" stroke="#fde0de" stroke-width="1" stroke-opacity="0.70"/>
<path d="M27,21.5h10" stroke="#de6a70" stroke-width="1" stroke-opacity="0.73"/>
<path d="M138,24.5h13" stroke="#fde0de" stroke-width="1.5" stroke-opacity="0.71"/>
<path d="M131,60.5h23" stroke="#de6a70" stroke-width="1" stroke-opacity="0.50"/>
<path d="M139,73.5h26" stroke="#fde0de" stroke-width="1" stroke-opacity="0.56"/>
<path d="M-21,73.5h26" stroke="#fde0de" stroke-width="1" stroke-opacity="0.56"/>
<path d="M-14,18.5h6" stroke="#de6a70" stroke-width="1" stroke-opacity="0.37"/>
<path d="M-14,3.5h7" stroke="#de6a70" stroke-width="1" stroke-opacity="0.32"/>
<path d="M-8,5.5h20" stroke="#fde0de" stroke-width="1" stroke-opacity="0.67"/>
<path d="M-1,49.5h9" stroke="#fde0de" stroke-width="1" stroke-opacity="0.32"/>
<path d="M66,36.5h7" stroke="#de6a70" stroke-width="1" stroke-opacity="0.59"/>
<path d="M41,40.5h11" stroke="#fde0de" stroke-width="1" stroke-opacity="0.72"/>
<path d="M144,47.5h25" stroke="#de6a70" stroke-width="1" stroke-opacity="0.51"/>
<path d="M-16,47.5h25" stroke="#de6a70" stroke-width="1" stroke-opacity="0.51"/>
<path d="M114,79.5h26" stroke="#fde0de" stroke-width="1" stroke-opacity="0.53"/>
<path d="M64,44.5h4" stroke="#de6a70" stroke-width="1" stroke-opacity="0.62"/>
<path d="M128,73.5h8" stroke="#fde0de" stroke-width="1" stroke-opacity="0.39"/>
<path d="M43,0.5h6" stroke="#de6a70" stroke-width="1.5" stroke-opacity="0.67"/>
<path d="M42,75.5h27" stroke="#fde0de" stroke-width="1" stroke-opacity="0.72"/>
<path d="M149,27.5h10" stroke="#fde0de" stroke-width="1" stroke-opacity="0.72"/>
<path d="M122,62.5h23" stroke="#de6a70" stroke-width="1" stroke-opacity="0.58"/>
<path d="M52,12.5h14" stroke="#de6a70" stroke-width="1" stroke-opacity="0.34"/>
<path d="M17,47.5h11" stroke="#de6a70" stroke-width="1.5" stroke-opacity="0.53"/>
<path d="M150,29.5h7" stroke="#de6a70" stroke-width="1" stroke-opacity="0.61"/>
<path d="M85,44.5h18" stroke="#de6a70" stroke-width="1" stroke-opacity="0.50"/>
<path d="M63,21.5h23" stroke="#fde0de" stroke-width="1" stroke-opacity="0.40"/>
<path d="M96,59.5h23" stroke="#fde0de" stroke-width="1" stroke-opacity="0.42"/>
<path d="M155,19.5h24" stroke="#de6a70" stroke-width="1" stroke-opacity="0.46"/>
<path d="M-5,19.5h24" stroke="#de6a70" stroke-width="1" stroke-opacity="0.46"/>
<path d="M152,41.5h11" stroke="#de6a70" stroke-width="1" stroke-opacity="0.75"/>
<path d="M-8,41.5h11" stroke="#de6a70" stroke-width="1" stroke-opacity="0.75"/>
<path d="M15,13.5h7" stroke="#fde0de" stroke-width="1" stroke-opacity="0.44"/>
<path d="M29,55.5h6" stroke="#de6a70" stroke-width="1.5" stroke-opacity="0.43"/>
<path d="M-14,59.5h15" stroke="#de6a70" stroke-width="1" stroke-opacity="0.61"/>
<path d="M-16,59.5h10" stroke="#de6a70" stroke-width="1" stroke-opacity="0.30"/>
<path d="M106,55.5h20" stroke="#de6a70" stroke-width="1" stroke-opacity="0.68"/>
<path d="M95,23.5h16" stroke="#fde0de" stroke-width="1" stroke-opacity="0.58"/>
<path d="M24,53.5h15" stroke="#de6a70" stroke-width="1.5" stroke-opacity="0.37"/>
<path d="M62,61.5h21" stroke="#fde0de" stroke-width="1" stroke-opacity="0.60"/>
<path d="M120,41.5h14" stroke="#fde0de" stroke-width="1" stroke-opacity="0.74"/>
<path d="M78,32.5h8" stroke="#de6a70" stroke-width="1" stroke-opacity="0.72"/>
<path d="M132,12.5h16" stroke="#fde0de" stroke-width="1" stroke-opacity="0.51"/>
<path d="M74,47.5h15" stroke="#de6a70" stroke-width="1" stroke-opacity="0.39"/>
<path d="M72,50.5h30" stroke="#de6a70" stroke-width="1" stroke-opacity="0.58"/>
<path d="M29,32.5h15" stroke="#fde0de" stroke-width="1.5" stroke-opacity="0.49"/>
<path d="M84,45.5h6" stroke="#fde0de" stroke-width="1" stroke-opacity="0.48"/>
<path d="M63,50.5h8" stroke="#de6a70" stroke-width="1" stroke-opacity="0.33"/>
<path d="M96,60.5h24" stroke="#de6a70" stroke-width="1.5" stroke-opacity="0.37"/>
<path d="M159,59.5h25" stroke="#de6a70" stroke-width="1.5" stroke-opacity="0.65"/>
<path d="M-1,59.5h25" stroke="#de6a70" stroke-width="1.5" stroke-opacity="0.65"/>
<path d="M121,45.5h10" stroke="#de6a70" stroke-width="1.5" stroke-opacity="0.61"/>
<path d="M67,23.5h26" stroke="#de6a70" stroke-width="1" stroke-opacity="0.46"/>
<path d="M66,41.5h15" stroke="#de6a70" stroke-width="1" stroke-opacity="0.60"/>
<path d="M147,19.5h28" stroke="#fde0de" stroke-width="1" stroke-opacity="0.67"/>
<path d="M-13,19.5h28" stroke="#fde0de" stroke-width="1" stroke-opacity="0.67"/>
<path d="M76,17.5h13" stroke="#de6a70" stroke-width="1" stroke-opacity="0.60"/>
<path d="M98,9.5h10" stroke="#fde0de" stroke-width="1" stroke-opacity="0.36"/>
<path d="M120,23.5h13" stroke="#fde0de" stroke-width="1" stroke-opacity="0.71"/>
<path d="M140,78.5h21" stroke="#de6a70" stroke-width="1" stroke-opacity="0.60"/>
<path d="M-20,78.5h21" stroke="#de6a70" stroke-width="1" stroke-opacity="0.60"/>
<path d="M69,25.5h9" stroke="#fde0de" stroke-width="1" stroke-opacity="0.68"/>
<path d="M1,71.5h15" stroke="#de6a70" stroke-width="1" stroke-opacity="0.51"/>
<path d="M64,61.5h7" stroke="#fde0de" stroke-width="1" stroke-opacity="0.52"/>
<path d="M131,20.5h17" stroke="#de6a70" stroke-width="1.5" stroke-opacity="0.60"/>
<path d="M57,47.5h32" stroke="#de6a70" stroke-width="1" stroke-opacity="0.38"/>
<path d="M-16,3.5h4" stroke="#de6a70" stroke-width="1" stroke-opacity="0.75"/>
<path d="M67,65.5h25" stroke="#fde0de" stroke-width="1.5" stroke-opacity="0.40"/>
<path d="M41,16.5h28" stroke="#fde0de" stroke-width="1" stroke-opacity="0.51"/>
<path d="M58,36.5h15" stroke="#de6a70" stroke-width="1" stroke-opacity="0.67"/>
<path d="M129,45.5h15" stroke="#fde0de" stroke-width="1" stroke-opacity="0.42"/>
<path d="M98,26.5h26" stroke="#fde0de" stroke-width="1" stroke-opacity="0.44"/>
<path d="M86,16.5h21" stroke="#de6a70" stroke-width="1.5" stroke-opacity="0.32"/>
<path d="M83,69.5h15" stroke="#fde0de" stroke-width="1.5" stroke-opacity="0.32"/>
<path d="M118,77.5h5" stroke="#fde0de" stroke-width="1.5" stroke-opacity="0.54"/>
<path d="M6,78.5h23" stroke="#de6a70" stroke-width="1" stroke-opacity="0.69"/>
<path d="M-13,27.5h21" stroke="#de6a70" stroke-width="1" stroke-opacity="0.38"/>
<path d="M56,4.5h6" stroke="#de6a70" stroke-width="1" stroke-opacity="0.31"/>
<path d="M81,39.5h10" stroke="#fde0de" stroke-width="1" stroke-opacity="0.49"/>
<path d="M58,2.5h22" stroke="#de6a70" stroke-width="1" stroke-opacity="0.32"/>
<path d="M119,15.5h15" stroke="#de6a70" stroke-width="1" stroke-opacity="0.48"/>
<path d="M102,1.5h20" stroke="#de6a70" stroke-width="1" stroke-opacity="0.60"/>
<path d="M119,60.5h19" stroke="#fde0de" stroke-width="1" stroke-opacity="0.51"/>
<path d="M57,1.5h3" stroke="#de6a70" stroke-width="1" stroke-opacity="0.74"/>
<path d="M137,27.5h7" stroke="#fde0de" stroke-width="1" stroke-opacity="0.62"/>
<path d="M112,57.5h8" stroke="#fde0de" stroke-width="1" stroke-opacity="0.65"/>
<path d="M33,10.5h19" stroke="#fde0de" stroke-width="1" stroke-opacity="0.60"/>
<path d="M109,6.5h3" stroke="#fde0de" stroke-width="1" stroke-opacity="0.59"/>
<path d="M36,49.5h24" stroke="#fde0de" stroke-width="1.5" stroke-opacity="0.69"/>
<path d="M-9,77.5h14" stroke="#de6a70" stroke-width="1" stroke-opacity="0.50"/>
<path d="M154,18.5h6" stroke="#de6a70" stroke-width="1.5" stroke-opacity="0.37"/>
<path d="M-6,18.5h6" stroke="#de6a70" stroke-width="1.5" stroke-opacity="0.37"/>
<path d="M49,61.5h26" stroke="#de6a70" stroke-width="1" stroke-opacity="0.65"/>
<path d="M30,37.5h21" stroke="#de6a70" stroke-width="1" stroke-opacity="0.66"/>
<path d="M111,77.5h3" stroke="#fde0de" stroke-width="1.5" stroke-opacity="0.67"/>
<path d="M48,31.5h23" stroke="#de6a70" stroke-width="1.5" stroke-opacity="0.70"/>
<path d="M104,36.5h12" stroke="#fde0de" stroke-width="1" stroke-opacity="0.37"/>
<path d="M130,36.5h27" stroke="#de6a70" stroke-width="1" stroke-opacity="0.56"/>
<path d="M103,70.5h29" stroke="#fde0de" stroke-width="1.5" stroke-opacity="0.34"/>
<path d="M16,48.5h25" stroke="#de6a70" stroke-width="1" stroke-opacity="0.41"/>
<path d="M64,50.5h9" stroke="#fde0de" stroke-width="1.5" stroke-opacity="0.64"/>
<path d="M77,58.5h19" stroke="#fde0de" stroke-width="1.5" stroke-opacity="0.33"/>
<path d="M74,74.5h11" stroke="#de6a70" stroke-width="1" stroke-opacity="0.44"/>
<path d="M18,24.5h6" stroke="#de6a70" stroke-width="1" stroke-opacity="0.43"/>
<path d="M120,51.5h28" stroke="#fde0de" stroke-width="1.5" stroke-opacity="0.72"/>
<path d="M136,47.5h14" stroke="#fde0de" stroke-width="1" stroke-opacity="0.34"/>
<path d="M-15,76.5h11" stroke="#de6a70" stroke-width="1" stroke-opacity="0.34"/>
<path d="M68,72.5h19" stroke="#fde0de" stroke-width="1.5" stroke-opacity="0.65"/>
<path d="M150,12.5h25" stroke="#de6a70" stroke-width="1" stroke-opacity="0.73"/>
<path d="M-10,12.5h25" stroke="#de6a70" stroke-width="1" stroke-opacity="0.73"/>
<path d="M41,4.5h32" stroke="#fde0de" stroke-width="1" stroke-opacity="0.31"/>
<path d="M47,71.5h23" stroke="#fde0de" stroke-width="1" stroke-opacity="0.68"/>
<path d="M95,76.5h30" stroke="#de6a70" stroke-width="1" stroke-opacity="0.34"/>
<path d="M22,72.5h6" stroke="#de6a70" stroke-width="1" stroke-opacity="0.53"/>
<path d="M133,57.5h14" stroke="#fde0de" stroke-width="1" stroke-opacity="0.62"/>
<path d="M150,4.5h30" stroke="#fde0de" stroke-width="1" stroke-opacity="0.55"/>
<path d="M-10,4.5h30" stroke="#fde0de" stroke-width="1" stroke-opacity="0.55"/>
<path d="M26,6.5h18" stroke="#de6a70" stroke-width="1.5" stroke-opacity="0.64"/>
<path d="M-2,7.5h12" stroke="#fde0de" stroke-width="1" stroke-opacity="0.39"/>
<path d="M86,75.5h25" stroke="#fde0de" stroke-width="1" stroke-opacity="0.45"/>
<path d="M2,49.5h17" stroke="#fde0de" stroke-width="1" stroke-opacity="0.41"/>
<path d="M64,1.5h29" stroke="#de6a70" stroke-width="1" stroke-opacity="0.37"/>
<path d="M148,9.5h28" stroke="#de6a70" stroke-width="1.5" stroke-opacity="0.36"/>
<path d="M-12,9.5h28" stroke="#de6a70" stroke-width="1.5" stroke-opacity="0.36"/>
<path d="M147,12.5h14" stroke="#fde0de" stroke-width="1" stroke-opacity="0.33"/>
<path d="M-13,12.5h14" stroke="#fde0de" stroke-width="1" stroke-opacity="0.33"/>
<path d="M128,41.5h17" stroke="#de6a70" stroke-width="1" stroke-opacity="0.36"/>
<path d="M12,7.5h16" stroke="#de6a70" stroke-width="1" stroke-opacity="0.50"/>
<path d="M55,34.5h10" stroke="#fde0de" stroke-width="1" stroke-opacity="0.56"/>
<path d="M125,42.5h11" stroke="#fde0de" stroke-width="1.5" stroke-opacity="0.51"/>
<path d="M8,14.5h18" stroke="#de6a70" stroke-width="1" stroke-opacity="0.65"/>
<path d="M66,71.5h11" stroke="#fde0de" stroke-width="1" stroke-opacity="0.39"/>
<path d="M158,55.5h32" stroke="#de6a70" stroke-width="1" stroke-opacity="0.34"/>
<path d="M-2,55.5h32" stroke="#de6a70" stroke-width="1" stroke-opacity="0.34"/>
<path d="M141,53.5h5" stroke="#de6a70" stroke-width="1" stroke-opacity="0.43"/>
<path d="M125,56.5h13" stroke="#fde0de" stroke-width="1" stroke-opacity="0.30"/>
<path d="M45,23.5h4" stroke="#fde0de" stroke-width="1" stroke-opacity="0.42"/>
<path d="M132,17.5h18" stroke="#fde0de" stroke-width="1" stroke-opacity="0.38"/>
<path d="M140,11.5h24" stroke="#de6a70" stroke-width="1" stroke-opacity="0.38"/>
<path d="M-20,11.5h24" stroke="#de6a70" stroke-width="1" stroke-opacity="0.38"/>
<path d="M101,78.5h21" stroke="#fde0de" stroke-width="1" stroke-opacity="0.44"/>
<path d="M105,8.5h18" stroke="#de6a70" stroke-width="1" stroke-opacity="0.71"/>
<path d="M31,42.5h22" stroke="#de6a70" stroke-width="1.5" stroke-opacity="0.34"/>
<path d="M4,61.5h22" stroke="#fde0de" stroke-width="1" stroke-opacity="0.55"/>
<path d="M9,4.5h14" stroke="#de6a70" stroke-width="1.5" stroke-opacity="0.30"/>
<path d="M-7,66.5h13" stroke="#fde0de" stroke-width="1" stroke-opacity="0.67"/>
<path d="M84,48.5h29" stroke="#fde0de" stroke-width="1.5" stroke-opacity="0.35"/>
<path d="M72,57.5h18" stroke="#fde0de" stroke-width="1" stroke-opacity="0.31"/>
<path d="M91,28.5h8" stroke="#fde0de" stroke-width="1" stroke-opacity="0.55"/>
<path d="M-3,2.5h23" stroke="#fde0de" stroke-width="1.5" stroke-opacity="0.31"/>
<path d="M23,66.5h16" stroke="#fde0de" stroke-width="1" stroke-opacity="0.34"/>
<path d="M29,5.5h16" stroke="#de6a70" stroke-width="1" stroke-opacity="0.64"/>
<path d="M2,15.5h29" stroke="#fde0de" stroke-width="1" stroke-opacity="0.40"/>
<path d="M100,18.5h16" stroke="#fde0de" stroke-width="1" stroke-opacity="0.73"/>
<path d="M105,49.5h20" stroke="#de6a70" stroke-width="1" stroke-opacity="0.32"/>
<path d="M41,46.5h10" stroke="#fde0de" stroke-width="1" stroke-opacity="0.50"/>
<path d="M133,51.5h5" stroke="#fde0de" stroke-width="1" stroke-opacity="0.73"/>
<path d="M137,31.5h22" stroke="#fde0de" stroke-width="1" stroke-opacity="0.35"/>
<path d="M38,8.5h9" stroke="#de6a70" stroke-width="1.5" stroke-opacity="0.40"/>
<path d="M120,50.5h30" stroke="#de6a70" stroke-width="1" stroke-opacity="0.66"/>
<path d="M136,4.5h21" stroke="#de6a70" stroke-width="1" stroke-opacity="0.58"/>
<path d="M-2,79.5h7" stroke="#fde0de" stroke-width="1" stroke-opacity="0.41"/>
<path d="M0,36.5h13" stroke="#fde0de" stroke-width="1" stroke-opacity="0.33"/>
<path d="M64,10.5h18" stroke="#fde0de" stroke-width="1" stroke-opacity="0.36"/>
<path d="M145,37.5h20" stroke="#fde0de" stroke-width="1" stroke-opacity="0.63"/>
<path d="M-15,37.5h20" stroke="#fde0de" stroke-width="1" stroke-opacity="0.63"/>
<path d="M90,58.5h20" stroke="#de6a70" stroke-width="1" stroke-opacity="0.39"/>
<path d="M141,58.5h12" stroke="#fde0de" stroke-width="1" stroke-opacity="0.67"/>
<path d="M40,31.5h8" stroke="#fde0de" stroke-width="1.5" stroke-opacity="0.74"/>
<path d="M146,1.5h8" stroke="#de6a70" stroke-width="1" stroke-opacity="0.45"/>
<path d="M29,62.5h28" stroke="#fde0de" stroke-width="1" stroke-opacity="0.33"/>
<path d="M79,20.5h21" stroke="#fde0de" stroke-width="1.5" stroke-opacity="0.60"/>
<path d="M44,56.5h25" stroke="#fde0de" stroke-width="1" stroke-opacity="0.75"/>
<path d="M41,53.5h13" stroke="#de6a70" stroke-width="1" stroke-opacity="0.58"/>
<path d="M-3,66.5h28" stroke="#de6a70" stroke-width="1" stroke-opacity="0.75"/>
<path d="M54,16.5h6" stroke="#fde0de" stroke-width="1" stroke-opacity="0.55"/>
<path d="M52,63.5h32" stroke="#fde0de" stroke-width="1" stroke-opacity="0.68"/>
<path d="M89,79.5h14" stroke="#fde0de" stroke-width="1" stroke-opacity="0.51"/>
<path d="M44,37.5h18" stroke="#de6a70" stroke-width="1" stroke-opacity="0.59"/>
<path d="M49,63.5h12" stroke="#fde0de" stroke-width="1.5" stroke-opacity="0.66"/>
<path d="M48,73.5h10" stroke="#de6a70" stroke-width="1" stroke-opacity="0.45"/>
<path d="M17,41.5h15" stroke="#de6a70" stroke-width="1" stroke-opacity="0.30"/>
<path d="M82,32.5h17" stroke="#de6a70" stroke-width="1.5" stroke-opacity="0.65"/>
<path d="M129,66.5h24" stroke="#fde0de" stroke-width="1" stroke-opacity="0.51"/>
<path d="M102,76.5h16" stroke="#fde0de" stroke-width="1" stroke-opacity="0.33"/>
<path d="M54,12.5h18" stroke="#de6a70" stroke-width="1" stroke-opacity="0.72"/>
<path d="M154,24.5h17" stroke="#fde0de" stroke-width="1" stroke-opacity="0.58"/>
<path d="M-6,24.5h17" stroke="#fde0de" stroke-width="1" stroke-opacity="0.58"/>
<path d="M114,67.5h6" stroke="#fde0de" stroke-width="1" stroke-opacity="0.46"/>
<path d="M72,39.5h6" stroke="#de6a70" stroke-width="1.5" stroke-opacity="0.61"/>
<path d="M74,20.5h27" stroke="#fde0de" stroke-width="1.5" stroke-opacity="0.70"/>
<path d="M-9,23.5h19" stroke="#fde0de" stroke-width="1" stroke-opacity="0.56"/>
<path d="M-18,52.5h3" stroke="#de6a70" stroke-width="1" stroke-opacity="0.55"/>
<path d="M132,50.5h20" stroke="#de6a70" stroke-width="1.5" stroke-opacity="0.39"/>
<path d="M82,70.5h28" stroke="#de6a70" stroke-width="1" stroke-opacity="0.53"/>
<path d="M16,73.5h20" stroke="#fde0de" stroke-width="1" stroke-opacity="0.53"/>
<path d="M-2,3.5h8" stroke="#fde0de" stroke-width="1.5" stroke-opacity="0.67"/>
<path d="M97,7.5h23" stroke="#de6a70" stroke-width="1" stroke-opacity="0.36"/>
<path d="M30,45.5h4" stroke="#de6a70" stroke-width="1" stroke-opacity="0.69"/>
<path d="M14,44.5h21" stroke="#fde0de" stroke-width="1.5" stroke-opacity="0.40"/>
<path d="M118,74.5h4" stroke="#fde0de" stroke-width="1" stroke-opacity="0.41"/>
<path d="M9,5.5h20" stroke="#fde0de" stroke-width="1.5" stroke-opacity="0.30"/>
<path d="M55,38.5h10" stroke="#de6a70" stroke-width="1" stroke-opacity="0.74"/>
<path d="M102,31.5h23" stroke="#de6a70" stroke-width="1.5" stroke-opacity="0.49"/>
<path d="M-16,62.5h28" stroke="#fde0de" stroke-width="1.5" stroke-opacity="0.38"/>
<path d="M-19,23.5h29" stroke="#fde0de" stroke-width="1" stroke-opacity="0.46"/>
<path d="M137,68.5h13" stroke="#de6a70" stroke-width="1.5" stroke-opacity="0.73"/>
<path d="M80,44.5h14" stroke="#fde0de" stroke-width="1.5" stroke-opacity="0.46"/>
<path d="M30,4.5h4" stroke="#de6a70" stroke-width="1" stroke-opacity="0.41"/>
<path d="M15,11.5h19" stroke="#de6a70" stroke-width="1.5" stroke-opacity="0.55"/>
<path d="M9,30.5h13" stroke="#de6a70" stroke-width="1" stroke-opacity="0.47"/>
<path d="M151,38.5h18" stroke="#fde0de" stroke-width="1" stroke-opacity="0.50"/>
<path d="M-9,38.5h18" stroke="#fde0de" stroke-width="1" stroke-opacity="0.50"/>
<path d="M87,33.5h16" stroke="#de6a70" stroke-width="1.5" stroke-opacity="0.54"/>
<path d="M72,77.5h7" stroke="#de6a70" stroke-width="1" stroke-opacity="0.61"/>
<path d="M133,69.5h24" stroke="#de6a70" stroke-width="1" stroke-opacity="0.31"/>
<path d="M-17,39.5h24" stroke="#de6a70" stroke-width="1" stroke-opacity="0.65"/>
<path d="M14,41.5h29" stroke="#fde0de" stroke-width="1" stroke-opacity="0.71"/>
<path d="M-8,24.5h12" stroke="#fde0de" stroke-width="1.5" stroke-opacity="0.36"/>
<path d="M44,36.5h27" stroke="#fde0de" stroke-width="1" stroke-opacity="0.58"/>
<path d="M12,35.5h14" stroke="#de6a70" stroke-width="1.5" stroke-opacity="0.61"/>
<path d="M99,3.5h23" stroke="#fde0de" stroke-width="1" stroke-opacity="0.68"/>
<path d="M13,12.5h6" stroke="#de6a70" stroke-width="1" stroke-opacity="0.63"/>
<path d="M-13,51.5h8" stroke="#fde0de" stroke-width="1.5" stroke-opacity="0.44"/>
<path d="M79,5.5h21" stroke="#de6a70" stroke-width="1" stroke-opacity="0.55"/>
<path d="M70,72.5h18" stroke="#de6a70" stroke-width="1" stroke-opacity="0.60"/>
<path d="M0,0.5h25" stroke="#de6a70" stroke-width="1" stroke-opacity="0.71"/>
<path d="M103,31.5h4" stroke="#fde0de" stroke-width="1" stroke-opacity="0.65"/>
<path d="M55,11.5h25" stroke="#de6a70" stroke-width="1" stroke-opacity="0.58"/>
<path d="M75,35.5h13" stroke="#de6a70" stroke-width="1" stroke-opacity="0.50"/>
<path d="M113,64.5h27" stroke="#de6a70" stroke-width="1" stroke-opacity="0.50"/>
<path d="M57,26.5h18" stroke="#de6a70" stroke-width="1" stroke-opacity="0.36"/>
<path d="M151,5.5h27" stroke="#de6a70" stroke-width="1" stroke-opacity="0.38"/>
<path d="M-9,5.5h27" stroke="#de6a70" stroke-width="1" stroke-opacity="0.38"/>
<path d="M78,30.5h10" stroke="#fde0de" stroke-width="1.5" stroke-opacity="0.46"/>
<path d="M16,11.5h12" stroke="#fde0de" stroke-width="1.5" stroke-opacity="0.62"/>
<path d="M107,30.5h3" stroke="#de6a70" stroke-width="1" stroke-opacity="0.36"/>
<path d="M4,38.5h24" stroke="#de6a70" stroke-width="1" stroke-opacity="0.41"/>
<path d="M56,70.5h30" stroke="#de6a70" stroke-width="1.5" stroke-opacity="0.37"/>
<path d="M130,51.5h6" stroke="#fde0de" stroke-width="1" stroke-opacity="0.46"/>
<path d="M-9,5.5h11" stroke="#fde0de" stroke-width="1.5" stroke-opacity="0.62"/>
</pattern>
<pattern id="bluetex" patternUnits="userSpaceOnUse" width="160" height="80">
<rect width="160" height="80" fill="#cdebf9"/>
<path d="M9,14.5h16" stroke="#acd9ef" stroke-width="1" stroke-opacity="0.43"/>
<path d="M-18,5.5h32" stroke="#acd9ef" stroke-width="1" stroke-opacity="0.34"/>
<path d="M28,72.5h22" stroke="#acd9ef" stroke-width="1" stroke-opacity="0.52"/>
<path d="M45,1.5h6" stroke="#eefaff" stroke-width="1" stroke-opacity="0.58"/>
<path d="M-6,31.5h25" stroke="#eefaff" stroke-width="1" stroke-opacity="0.48"/>
<path d="M46,37.5h31" stroke="#eefaff" stroke-width="1" stroke-opacity="0.70"/>
<path d="M121,13.5h27" stroke="#acd9ef" stroke-width="1" stroke-opacity="0.45"/>
<path d="M38,45.5h14" stroke="#acd9ef" stroke-width="1" stroke-opacity="0.47"/>
<path d="M-10,30.5h6" stroke="#acd9ef" stroke-width="1.5" stroke-opacity="0.71"/>
<path d="M150,6.5h17" stroke="#eefaff" stroke-width="1" stroke-opacity="0.37"/>
<path d="M-10,6.5h17" stroke="#eefaff" stroke-width="1" stroke-opacity="0.37"/>
<path d="M85,77.5h5" stroke="#acd9ef" stroke-width="1.5" stroke-opacity="0.37"/>
<path d="M-4,51.5h4" stroke="#eefaff" stroke-width="1" stroke-opacity="0.39"/>
<path d="M-14,0.5h21" stroke="#acd9ef" stroke-width="1" stroke-opacity="0.53"/>
<path d="M-7,36.5h5" stroke="#acd9ef" stroke-width="1" stroke-opacity="0.70"/>
<path d="M-18,56.5h31" stroke="#eefaff" stroke-width="1.5" stroke-opacity="0.63"/>
<path d="M-19,37.5h26" stroke="#acd9ef" stroke-width="1.5" stroke-opacity="0.56"/>
<path d="M78,10.5h18" stroke="#eefaff" stroke-width="1" stroke-opacity="0.54"/>
<path d="M153,51.5h21" stroke="#acd9ef" stroke-width="1" stroke-opacity="0.33"/>
<path d="M-7,51.5h21" stroke="#acd9ef" stroke-width="1" stroke-opacity="0.33"/>
<path d="M99,77.5h19" stroke="#eefaff" stroke-width="1" stroke-opacity="0.47"/>
<path d="M136,38.5h18" stroke="#acd9ef" stroke-width="1" stroke-opacity="0.68"/>
<path d="M104,57.5h7" stroke="#acd9ef" stroke-width="1.5" stroke-opacity="0.55"/>
<path d="M75,46.5h19" stroke="#eefaff" stroke-width="1" stroke-opacity="0.35"/>
<path d="M79,25.5h6" stroke="#acd9ef" stroke-width="1" stroke-opacity="0.41"/>
<path d="M76,24.5h10" stroke="#eefaff" stroke-width="1" stroke-opacity="0.55"/>
<path d="M83,69.5h6" stroke="#eefaff" stroke-width="1" stroke-opacity="0.56"/>
<path d="M102,52.5h26" stroke="#eefaff" stroke-width="1" stroke-opacity="0.53"/>
<path d="M-2,65.5h27" stroke="#eefaff" stroke-width="1" stroke-opacity="0.38"/>
<path d="M66,72.5h6" stroke="#eefaff" stroke-width="1.5" stroke-opacity="0.58"/>
<path d="M-12,30.5h4" stroke="#acd9ef" stroke-width="1.5" stroke-opacity="0.73"/>
<path d="M2,38.5h7" stroke="#acd9ef" stroke-width="1" stroke-opacity="0.34"/>
<path d="M1,72.5h24" stroke="#eefaff" stroke-width="1" stroke-opacity="0.47"/>
<path d="M129,1.5h7" stroke="#eefaff" stroke-width="1" stroke-opacity="0.63"/>
<path d="M-12,62.5h21" stroke="#eefaff" stroke-width="1" stroke-opacity="0.55"/>
<path d="M147,4.5h23" stroke="#eefaff" stroke-width="1.5" stroke-opacity="0.39"/>
<path d="M-13,4.5h23" stroke="#eefaff" stroke-width="1.5" stroke-opacity="0.39"/>
<path d="M131,2.5h20" stroke="#eefaff" stroke-width="1" stroke-opacity="0.31"/>
<path d="M124,9.5h8" stroke="#acd9ef" stroke-width="1.5" stroke-opacity="0.43"/>
<path d="M86,18.5h10" stroke="#acd9ef" stroke-width="1" stroke-opacity="0.64"/>
<path d="M-18,56.5h13" stroke="#eefaff" stroke-width="1" stroke-opacity="0.53"/>
<path d="M-7,4.5h21" stroke="#acd9ef" stroke-width="1.5" stroke-opacity="0.57"/>
<path d="M105,20.5h16" stroke="#eefaff" stroke-width="1" stroke-opacity="0.73"/>
<path d="M39,46.5h9" stroke="#acd9ef" stroke-width="1" stroke-opacity="0.57"/>
<path d="M11,27.5h13" stroke="#eefaff" stroke-width="1.5" stroke-opacity="0.56"/>
<path d="M37,45.5h13" stroke="#eefaff" stroke-width="1" stroke-opacity="0.40"/>
<path d="M138,58.5h21" stroke="#acd9ef" stroke-width="1" stroke-opacity="0.63"/>
<path d="M49,34.5h5" stroke="#acd9ef" stroke-width="1" stroke-opacity="0.46"/>
<path d="M145,4.5h29" stroke="#eefaff" stroke-width="1.5" stroke-opacity="0.39"/>
<path d="M-15,4.5h29" stroke="#eefaff" stroke-width="1.5" stroke-opacity="0.39"/>
<path d="M94,73.5h14" stroke="#eefaff" stroke-width="1" stroke-opacity="0.66"/>
<path d="M35,9.5h25" stroke="#acd9ef" stroke-width="1" stroke-opacity="0.53"/>
<path d="M137,44.5h24" stroke="#eefaff" stroke-width="1" stroke-opacity="0.62"/>
<path d="M-23,44.5h24" stroke="#eefaff" stroke-width="1" stroke-opacity="0.62"/>
<path d="M71,61.5h29" stroke="#acd9ef" stroke-width="1" stroke-opacity="0.75"/>
<path d="M17,17.5h29" stroke="#acd9ef" stroke-width="1.5" stroke-opacity="0.48"/>
<path d="M119,72.5h30" stroke="#acd9ef" stroke-width="1" stroke-opacity="0.36"/>
<path d="M111,32.5h19" stroke="#acd9ef" stroke-width="1" stroke-opacity="0.45"/>
<path d="M146,74.5h20" stroke="#eefaff" stroke-width="1.5" stroke-opacity="0.46"/>
<path d="M-14,74.5h20" stroke="#eefaff" stroke-width="1.5" stroke-opacity="0.46"/>
<path d="M155,45.5h23" stroke="#acd9ef" stroke-width="1.5" stroke-opacity="0.71"/>
<path d="M-5,45.5h23" stroke="#acd9ef" stroke-width="1.5" stroke-opacity="0.71"/>
<path d="M142,40.5h11" stroke="#eefaff" stroke-width="1" stroke-opacity="0.31"/>
<path d="M23,34.5h4" stroke="#eefaff" stroke-width="1" stroke-opacity="0.50"/>
<path d="M97,64.5h9" stroke="#acd9ef" stroke-width="1" stroke-opacity="0.73"/>
<path d="M-7,10.5h27" stroke="#acd9ef" stroke-width="1" stroke-opacity="0.62"/>
<path d="M29,24.5h22" stroke="#eefaff" stroke-width="1" stroke-opacity="0.45"/>
<path d="M38,27.5h28" stroke="#eefaff" stroke-width="1" stroke-opacity="0.52"/>
<path d="M-10,22.5h15" stroke="#eefaff" stroke-width="1" stroke-opacity="0.58"/>
<path d="M158,63.5h15" stroke="#acd9ef" stroke-width="1" stroke-opacity="0.69"/>
<path d="M-2,63.5h15" stroke="#acd9ef" stroke-width="1" stroke-opacity="0.69"/>
<path d="M82,40.5h32" stroke="#eefaff" stroke-width="1" stroke-opacity="0.58"/>
<path d="M-3,20.5h8" stroke="#eefaff" stroke-width="1" stroke-opacity="0.65"/>
<path d="M127,45.5h15" stroke="#eefaff" stroke-width="1" stroke-opacity="0.56"/>
<path d="M83,77.5h10" stroke="#acd9ef" stroke-width="1.5" stroke-opacity="0.67"/>
<path d="M120,4.5h12" stroke="#acd9ef" stroke-width="1.5" stroke-opacity="0.74"/>
<path d="M30,71.5h18" stroke="#acd9ef" stroke-width="1" stroke-opacity="0.36"/>
<path d="M66,71.5h22" stroke="#acd9ef" stroke-width="1" stroke-opacity="0.46"/>
<path d="M116,51.5h6" stroke="#eefaff" stroke-width="1" stroke-opacity="0.36"/>
<path d="M70,69.5h19" stroke="#eefaff" stroke-width="1" stroke-opacity="0.72"/>
<path d="M143,19.5h28" stroke="#acd9ef" stroke-width="1" stroke-opacity="0.65"/>
<path d="M-17,19.5h28" stroke="#acd9ef" stroke-width="1" stroke-opacity="0.65"/>
<path d="M120,44.5h10" stroke="#acd9ef" stroke-width="1" stroke-opacity="0.52"/>
<path d="M63,49.5h12" stroke="#acd9ef" stroke-width="1" stroke-opacity="0.35"/>
<path d="M125,8.5h29" stroke="#acd9ef" stroke-width="1" stroke-opacity="0.46"/>
<path d="M48,72.5h29" stroke="#eefaff" stroke-width="1" stroke-opacity="0.60"/>
<path d="M25,3.5h11" stroke="#eefaff" stroke-width="1" stroke-opacity="0.40"/>
<path d="M117,41.5h22" stroke="#eefaff" stroke-width="1" stroke-opacity="0.75"/>
<path d="M122,72.5h17" stroke="#acd9ef" stroke-width="1" stroke-opacity="0.65"/>
<path d="M31,38.5h13" stroke="#eefaff" stroke-width="1" stroke-opacity="0.70"/>
<path d="M103,40.5h20" stroke="#eefaff" stroke-width="1" stroke-opacity="0.56"/>
<path d="M-12,46.5h25" stroke="#eefaff" stroke-width="1" stroke-opacity="0.50"/>
<path d="M103,38.5h26" stroke="#eefaff" stroke-width="1" stroke-opacity="0.71"/>
<path d="M7,38.5h24" stroke="#eefaff" stroke-width="1.5" stroke-opacity="0.38"/>
<path d="M55,11.5h22" stroke="#acd9ef" stroke-width="1" stroke-opacity="0.48"/>
<path d="M85,4.5h9" stroke="#acd9ef" stroke-width="1" stroke-opacity="0.31"/>
<path d="M87,64.5h20" stroke="#acd9ef" stroke-width="1" stroke-opacity="0.63"/>
<path d="M-8,40.5h6" stroke="#acd9ef" stroke-width="1.5" stroke-opacity="0.74"/>
<path d="M12,0.5h23" stroke="#eefaff" stroke-width="1" stroke-opacity="0.63"/>
<path d="M44,67.5h17" stroke="#acd9ef" stroke-width="1" stroke-opacity="0.46"/>
<path d="M112,28.5h11" stroke="#eefaff" stroke-width="1" stroke-opacity="0.42"/>
<path d="M15,5.5h4" stroke="#acd9ef" stroke-width="1" stroke-opacity="0.73"/>
<path d="M39,1.5h4" stroke="#eefaff" stroke-width="1" stroke-opacity="0.43"/>
<path d="M157,52.5h28" stroke="#acd9ef" stroke-width="1" stroke-opacity="0.48"/>
<path d="M-3,52.5h28" stroke="#acd9ef" stroke-width="1" stroke-opacity="0.48"/>
<path d="M55,69.5h31" stroke="#eefaff" stroke-width="1.5" stroke-opacity="0.47"/>
<path d="M142,18.5h21" stroke="#eefaff" stroke-width="1" stroke-opacity="0.53"/>
<path d="M-18,18.5h21" stroke="#eefaff" stroke-width="1" stroke-opacity="0.53"/>
<path d="M111,78.5h32" stroke="#acd9ef" stroke-width="1" stroke-opacity="0.60"/>
<path d="M121,79.5h29" stroke="#eefaff" stroke-width="1" stroke-opacity="0.61"/>
<path d="M79,56.5h12" stroke="#acd9ef" stroke-width="1.5" stroke-opacity="0.30"/>
<path d="M42,65.5h19" stroke="#eefaff" stroke-width="1.5" stroke-opacity="0.67"/>
<path d="M108,45.5h14" stroke="#eefaff" stroke-width="1" stroke-opacity="0.58"/>
<path d="M93,9.5h19" stroke="#eefaff" stroke-width="1" stroke-opacity="0.58"/>
<path d="M144,33.5h17" stroke="#acd9ef" stroke-width="1.5" stroke-opacity="0.53"/>
<path d="M-16,33.5h17" stroke="#acd9ef" stroke-width="1.5" stroke-opacity="0.53"/>
<path d="M20,73.5h7" stroke="#acd9ef" stroke-width="1" stroke-opacity="0.54"/>
<path d="M10,67.5h14" stroke="#acd9ef" stroke-width="1.5" stroke-opacity="0.37"/>
<path d="M95,22.5h27" stroke="#acd9ef" stroke-width="1" stroke-opacity="0.69"/>
<path d="M49,41.5h27" stroke="#acd9ef" stroke-width="1" stroke-opacity="0.36"/>
<path d="M48,32.5h14" stroke="#acd9ef" stroke-width="1" stroke-opacity="0.54"/>
<path d="M99,57.5h11" stroke="#eefaff" stroke-width="1" stroke-opacity="0.50"/>
<path d="M94,57.5h24" stroke="#eefaff" stroke-width="1" stroke-opacity="0.53"/>
<path d="M46,16.5h18" stroke="#eefaff" stroke-width="1" stroke-opacity="0.47"/>
<path d="M26,48.5h19" stroke="#eefaff" stroke-width="1" stroke-opacity="0.42"/>
<path d="M109,39.5h11" stroke="#eefaff" stroke-width="1.5" stroke-opacity="0.41"/>
<path d="M75,11.5h17" stroke="#eefaff" stroke-width="1" stroke-opacity="0.36"/>
<path d="M121,79.5h30" stroke="#acd9ef" stroke-width="1" stroke-opacity="0.47"/>
<path d="M155,37.5h15" stroke="#acd9ef" stroke-width="1" stroke-opacity="0.42"/>
<path d="M-5,37.5h15" stroke="#acd9ef" stroke-width="1" stroke-opacity="0.42"/>
<path d="M133,49.5h7" stroke="#acd9ef" stroke-width="1" stroke-opacity="0.74"/>
<path d="M100,8.5h13" stroke="#eefaff" stroke-width="1.5" stroke-opacity="0.64"/>
<path d="M75,50.5h17" stroke="#acd9ef" stroke-width="1" stroke-opacity="0.64"/>
<path d="M87,13.5h16" stroke="#eefaff" stroke-width="1.5" stroke-opacity="0.68"/>
<path d="M12,60.5h5" stroke="#eefaff" stroke-width="1" stroke-opacity="0.36"/>
<path d="M113,29.5h15" stroke="#eefaff" stroke-width="1" stroke-opacity="0.61"/>
<path d="M119,49.5h6" stroke="#eefaff" stroke-width="1" stroke-opacity="0.33"/>
<path d="M69,13.5h28" stroke="#eefaff" stroke-width="1" stroke-opacity="0.50"/>
<path d="M67,42.5h5" stroke="#acd9ef" stroke-width="1" stroke-opacity="0.49"/>
<path d="M127,52.5h28" stroke="#eefaff" stroke-width="1" stroke-opacity="0.45"/>
<path d="M158,23.5h11" stroke="#eefaff" stroke-width="1" stroke-opacity="0.44"/>
<path d="M-2,23.5h11" stroke="#eefaff" stroke-width="1" stroke-opacity="0.44"/>
<path d="M80,38.5h18" stroke="#eefaff" stroke-width="1" stroke-opacity="0.32"/>
<path d="M136,31.5h26" stroke="#acd9ef" stroke-width="1" stroke-opacity="0.42"/>
<path d="M-24,31.5h26" stroke="#acd9ef" stroke-width="1" stroke-opacity="0.42"/>
<path d="M-11,16.5h19" stroke="#eefaff" stroke-width="1.5" stroke-opacity="0.51"/>
<path d="M5,74.5h30" stroke="#eefaff" stroke-width="1" stroke-opacity="0.51"/>
<path d="M-18,40.5h5" stroke="#acd9ef" stroke-width="1" stroke-opacity="0.67"/>
<path d="M20,35.5h16" stroke="#eefaff" stroke-width="1.5" stroke-opacity="0.39"/>
<path d="M148,51.5h16" stroke="#acd9ef" stroke-width="1.5" stroke-opacity="0.33"/>
<path d="M-12,51.5h16" stroke="#acd9ef" stroke-width="1.5" stroke-opacity="0.33"/>
<path d="M-11,15.5h28" stroke="#eefaff" stroke-width="1" stroke-opacity="0.57"/>
<path d="M146,1.5h19" stroke="#acd9ef" stroke-width="1" stroke-opacity="0.52"/>
<path d="M-14,1.5h19" stroke="#acd9ef" stroke-width="1" stroke-opacity="0.52"/>
<path d="M76,27.5h8" stroke="#acd9ef" stroke-width="1" stroke-opacity="0.62"/>
<path d="M-3,59.5h26" stroke="#acd9ef" stroke-width="1" stroke-opacity="0.49"/>
<path d="M103,56.5h7" stroke="#eefaff" stroke-width="1" stroke-opacity="0.61"/>
<path d="M131,20.5h12" stroke="#eefaff" stroke-width="1" stroke-opacity="0.56"/>
<path d="M109,71.5h12" stroke="#eefaff" stroke-width="1" stroke-opacity="0.55"/>
<path d="M150,19.5h22" stroke="#eefaff" stroke-width="1" stroke-opacity="0.74"/>
<path d="M-10,19.5h22" stroke="#eefaff" stroke-width="1" stroke-opacity="0.74"/>
<path d="M8,48.5h11" stroke="#acd9ef" stroke-width="1" stroke-opacity="0.61"/>
<path d="M7,59.5h8" stroke="#eefaff" stroke-width="1" stroke-opacity="0.48"/>
<path d="M2,45.5h30" stroke="#acd9ef" stroke-width="1" stroke-opacity="0.72"/>
<path d="M68,37.5h4" stroke="#acd9ef" stroke-width="1" stroke-opacity="0.70"/>
<path d="M67,25.5h28" stroke="#acd9ef" stroke-width="1" stroke-opacity="0.54"/>
<path d="M5,25.5h11" stroke="#acd9ef" stroke-width="1" stroke-opacity="0.68"/>
<path d="M146,74.5h4" stroke="#acd9ef" stroke-width="1" stroke-opacity="0.74"/>
<path d="M150,24.5h22" stroke="#eefaff" stroke-width="1.5" stroke-opacity="0.45"/>
<path d="M-10,24.5h22" stroke="#eefaff" stroke-width="1.5" stroke-opacity="0.45"/>
<path d="M25,61.5h25" stroke="#eefaff" stroke-width="1" stroke-opacity="0.65"/>
<path d="M110,8.5h16" stroke="#acd9ef" stroke-width="1" stroke-opacity="0.35"/>
<path d="M51,76.5h4" stroke="#eefaff" stroke-width="1.5" stroke-opacity="0.56"/>
<path d="M55,16.5h27" stroke="#eefaff" stroke-width="1" stroke-opacity="0.63"/>
<path d="M11,46.5h30" stroke="#eefaff" stroke-width="1.5" stroke-opacity="0.68"/>
<path d="M7,38.5h6" stroke="#acd9ef" stroke-width="1.5" stroke-opacity="0.35"/>
<path d="M76,34.5h6" stroke="#eefaff" stroke-width="1" stroke-opacity="0.37"/>
<path d="M26,64.5h31" stroke="#eefaff" stroke-width="1" stroke-opacity="0.55"/>
<path d="M111,30.5h19" stroke="#eefaff" stroke-width="1" stroke-opacity="0.34"/>
<path d="M68,6.5h26" stroke="#acd9ef" stroke-width="1" stroke-opacity="0.61"/>
<path d="M115,11.5h7" stroke="#eefaff" stroke-width="1.5" stroke-opacity="0.31"/>
<path d="M73,79.5h11" stroke="#acd9ef" stroke-width="1" stroke-opacity="0.34"/>
<path d="M24,29.5h25" stroke="#eefaff" stroke-width="1" stroke-opacity="0.67"/>
<path d="M88,9.5h32" stroke="#eefaff" stroke-width="1" stroke-opacity="0.58"/>
<path d="M42,38.5h27" stroke="#eefaff" stroke-width="1" stroke-opacity="0.71"/>
<path d="M149,40.5h15" stroke="#eefaff" stroke-width="1" stroke-opacity="0.34"/>
<path d="M-11,40.5h15" stroke="#eefaff" stroke-width="1" stroke-opacity="0.34"/>
<path d="M112,18.5h23" stroke="#eefaff" stroke-width="1" stroke-opacity="0.45"/>
<path d="M16,26.5h9" stroke="#eefaff" stroke-width="1" stroke-opacity="0.74"/>
<path d="M-13,61.5h18" stroke="#eefaff" stroke-width="1" stroke-opacity="0.33"/>
<path d="M136,25.5h4" stroke="#eefaff" stroke-width="1" stroke-opacity="0.49"/>
<path d="M9,74.5h31" stroke="#acd9ef" stroke-width="1" stroke-opacity="0.64"/>
<path d="M129,33.5h30" stroke="#acd9ef" stroke-width="1" stroke-opacity="0.64"/>
<path d="M49,55.5h22" stroke="#acd9ef" stroke-width="1" stroke-opacity="0.53"/>
<path d="M154,8.5h26" stroke="#eefaff" stroke-width="1" stroke-opacity="0.68"/>
<path d="M-6,8.5h26" stroke="#eefaff" stroke-width="1" stroke-opacity="0.68"/>
<path d="M16,30.5h16" stroke="#eefaff" stroke-width="1" stroke-opacity="0.52"/>
<path d="M99,50.5h14" stroke="#acd9ef" stroke-width="1" stroke-opacity="0.65"/>
<path d="M53,48.5h6" stroke="#acd9ef" stroke-width="1" stroke-opacity="0.68"/>
<path d="M143,76.5h15" stroke="#eefaff" stroke-width="1" stroke-opacity="0.44"/>
<path d="M138,14.5h17" stroke="#eefaff" stroke-width="1" stroke-opacity="0.43"/>
<path d="M78,42.5h5" stroke="#eefaff" stroke-width="1" stroke-opacity="0.51"/>
<path d="M40,37.5h32" stroke="#eefaff" stroke-width="1.5" stroke-opacity="0.70"/>
<path d="M125,68.5h7" stroke="#acd9ef" stroke-width="1" stroke-opacity="0.32"/>
<path d="M29,49.5h31" stroke="#eefaff" stroke-width="1.5" stroke-opacity="0.40"/>
<path d="M70,39.5h31" stroke="#eefaff" stroke-width="1" stroke-opacity="0.74"/>
<path d="M50,20.5h3" stroke="#acd9ef" stroke-width="1" stroke-opacity="0.35"/>
<path d="M82,58.5h22" stroke="#acd9ef" stroke-width="1.5" stroke-opacity="0.60"/>
<path d="M147,17.5h29" stroke="#acd9ef" stroke-width="1" stroke-opacity="0.33"/>
<path d="M-13,17.5h29" stroke="#acd9ef" stroke-width="1" stroke-opacity="0.33"/>
<path d="M28,56.5h12" stroke="#eefaff" stroke-width="1.5" stroke-opacity="0.62"/>
<path d="M126,66.5h5" stroke="#acd9ef" stroke-width="1" stroke-opacity="0.52"/>
<path d="M138,7.5h29" stroke="#eefaff" stroke-width="1" stroke-opacity="0.47"/>
<path d="M-22,7.5h29" stroke="#eefaff" stroke-width="1" stroke-opacity="0.47"/>
<path d="M140,65.5h24" stroke="#acd9ef" stroke-width="1" stroke-opacity="0.32"/>
<path d="M-20,65.5h24" stroke="#acd9ef" stroke-width="1" stroke-opacity="0.32"/>
<path d="M5,61.5h31" stroke="#acd9ef" stroke-width="1" stroke-opacity="0.37"/>
<path d="M11,50.5h20" stroke="#acd9ef" stroke-width="1" stroke-opacity="0.58"/>
<path d="M119,37.5h4" stroke="#eefaff" stroke-width="1" stroke-opacity="0.48"/>
<path d="M69,48.5h31" stroke="#eefaff" stroke-width="1" stroke-opacity="0.71"/>
<path d="M130,20.5h17" stroke="#eefaff" stroke-width="1" stroke-opacity="0.54"/>
<path d="M73,25.5h28" stroke="#eefaff" stroke-width="1" stroke-opacity="0.63"/>
<path d="M143,39.5h20" stroke="#acd9ef" stroke-width="1" stroke-opacity="0.65"/>
<path d="M-17,39.5h20" stroke="#acd9ef" stroke-width="1" stroke-opacity="0.65"/>
<path d="M29,23.5h29" stroke="#eefaff" stroke-width="1.5" stroke-opacity="0.58"/>
<path d="M-0,51.5h11" stroke="#eefaff" stroke-width="1.5" stroke-opacity="0.47"/>
<path d="M0,34.5h30" stroke="#acd9ef" stroke-width="1.5" stroke-opacity="0.53"/>
<path d="M120,20.5h12" stroke="#eefaff" stroke-width="1.5" stroke-opacity="0.64"/>
<path d="M133,71.5h15" stroke="#eefaff" stroke-width="1.5" stroke-opacity="0.48"/>
<path d="M126,67.5h28" stroke="#eefaff" stroke-width="1" stroke-opacity="0.50"/>
<path d="M76,5.5h23" stroke="#eefaff" stroke-width="1" stroke-opacity="0.57"/>
<path d="M156,33.5h29" stroke="#acd9ef" stroke-width="1.5" stroke-opacity="0.34"/>
<path d="M-4,33.5h29" stroke="#acd9ef" stroke-width="1.5" stroke-opacity="0.34"/>
<path d="M147,14.5h8" stroke="#eefaff" stroke-width="1" stroke-opacity="0.63"/>
<path d="M51,51.5h30" stroke="#acd9ef" stroke-width="1.5" stroke-opacity="0.45"/>
<path d="M125,63.5h13" stroke="#eefaff" stroke-width="1.5" stroke-opacity="0.69"/>
<path d="M4,36.5h13" stroke="#eefaff" stroke-width="1" stroke-opacity="0.49"/>
<path d="M100,73.5h20" stroke="#eefaff" stroke-width="1" stroke-opacity="0.56"/>
<path d="M7,16.5h22" stroke="#acd9ef" stroke-width="1" stroke-opacity="0.53"/>
<path d="M114,4.5h27" stroke="#acd9ef" stroke-width="1" stroke-opacity="0.70"/>
<path d="M90,49.5h11" stroke="#eefaff" stroke-width="1" stroke-opacity="0.57"/>
<path d="M18,77.5h9" stroke="#eefaff" stroke-width="1" stroke-opacity="0.60"/>
<path d="M-16,46.5h18" stroke="#eefaff" stroke-width="1" stroke-opacity="0.73"/>
<path d="M62,0.5h25" stroke="#eefaff" stroke-width="1.5" stroke-opacity="0.53"/>
<path d="M80,75.5h26" stroke="#eefaff" stroke-width="1" stroke-opacity="0.67"/>
<path d="M20,61.5h21" stroke="#eefaff" stroke-width="1" stroke-opacity="0.45"/>
<path d="M80,27.5h27" stroke="#eefaff" stroke-width="1" stroke-opacity="0.74"/>
<path d="M120,28.5h4" stroke="#eefaff" stroke-width="1" stroke-opacity="0.49"/>
<path d="M110,35.5h20" stroke="#eefaff" stroke-width="1.5" stroke-opacity="0.53"/>
<path d="M100,28.5h29" stroke="#eefaff" stroke-width="1" stroke-opacity="0.47"/>
<path d="M-7,32.5h17" stroke="#eefaff" stroke-width="1.5" stroke-opacity="0.50"/>
<path d="M42,24.5h9" stroke="#eefaff" stroke-width="1" stroke-opacity="0.43"/>
<path d="M112,9.5h18" stroke="#eefaff" stroke-width="1" stroke-opacity="0.39"/>
<path d="M16,33.5h25" stroke="#acd9ef" stroke-width="1" stroke-opacity="0.43"/>
<path d="M110,78.5h5" stroke="#eefaff" stroke-width="1" stroke-opacity="0.31"/>
<path d="M44,71.5h8" stroke="#acd9ef" stroke-width="1" stroke-opacity="0.75"/>
<path d="M-12,13.5h8" stroke="#eefaff" stroke-width="1.5" stroke-opacity="0.70"/>
<path d="M42,13.5h28" stroke="#eefaff" stroke-width="1.5" stroke-opacity="0.70"/>
<path d="M144,10.5h26" stroke="#eefaff" stroke-width="1" stroke-opacity="0.67"/>
<path d="M-16,10.5h26" stroke="#eefaff" stroke-width="1" stroke-opacity="0.67"/>
<path d="M75,13.5h10" stroke="#eefaff" stroke-width="1" stroke-opacity="0.46"/>
<path d="M108,24.5h30" stroke="#acd9ef" stroke-width="1.5" stroke-opacity="0.50"/>
<path d="M126,20.5h27" stroke="#eefaff" stroke-width="1" stroke-opacity="0.31"/>
<path d="M76,74.5h4" stroke="#acd9ef" stroke-width="1" stroke-opacity="0.74"/>
<path d="M120,59.5h9" stroke="#acd9ef" stroke-width="1" stroke-opacity="0.71"/>
<path d="M92,43.5h29" stroke="#eefaff" stroke-width="1" stroke-opacity="0.59"/>
<path d="M24,0.5h29" stroke="#eefaff" stroke-width="1" stroke-opacity="0.35"/>
<path d="M59,25.5h20" stroke="#acd9ef" stroke-width="1.5" stroke-opacity="0.61"/>
<path d="M83,8.5h24" stroke="#acd9ef" stroke-width="1" stroke-opacity="0.38"/>
<path d="M105,60.5h17" stroke="#eefaff" stroke-width="1.5" stroke-opacity="0.71"/>
<path d="M106,8.5h26" stroke="#acd9ef" stroke-width="1" stroke-opacity="0.30"/>
<path d="M24,4.5h29" stroke="#eefaff" stroke-width="1.5" stroke-opacity="0.30"/>
<path d="M52,6.5h30" stroke="#acd9ef" stroke-width="1" stroke-opacity="0.65"/>
<path d="M95,71.5h30" stroke="#eefaff" stroke-width="1" stroke-opacity="0.37"/>
<path d="M116,61.5h6" stroke="#acd9ef" stroke-width="1" stroke-opacity="0.62"/>
<path d="M125,18.5h8" stroke="#eefaff" stroke-width="1.5" stroke-opacity="0.35"/>
<path d="M-7,0.5h4" stroke="#acd9ef" stroke-width="1" stroke-opacity="0.34"/>
<path d="M99,6.5h21" stroke="#eefaff" stroke-width="1" stroke-opacity="0.60"/>
<path d="M14,3.5h18" stroke="#acd9ef" stroke-width="1" stroke-opacity="0.39"/>
<path d="M157,54.5h21" stroke="#eefaff" stroke-width="1" stroke-opacity="0.53"/>
<path d="M-3,54.5h21" stroke="#eefaff" stroke-width="1" stroke-opacity="0.53"/>
<path d="M111,11.5h28" stroke="#acd9ef" stroke-width="1" stroke-opacity="0.35"/>
<path d="M34,35.5h25" stroke="#eefaff" stroke-width="1" stroke-opacity="0.57"/>
<path d="M-19,24.5h5" stroke="#eefaff" stroke-width="1" stroke-opacity="0.61"/>
<path d="M49,66.5h32" stroke="#acd9ef" stroke-width="1" stroke-opacity="0.56"/>
<path d="M144,10.5h27" stroke="#acd9ef" stroke-width="1" stroke-opacity="0.31"/>
<path d="M-16,10.5h27" stroke="#acd9ef" stroke-width="1" stroke-opacity="0.31"/>
<path d="M124,55.5h5" stroke="#acd9ef" stroke-width="1" stroke-opacity="0.43"/>
<path d="M25,17.5h12" stroke="#eefaff" stroke-width="1" stroke-opacity="0.45"/>
<path d="M60,20.5h31" stroke="#acd9ef" stroke-width="1" stroke-opacity="0.72"/>
<path d="M125,35.5h3" stroke="#eefaff" stroke-width="1" stroke-opacity="0.45"/>
<path d="M-20,42.5h25" stroke="#eefaff" stroke-width="1" stroke-opacity="0.45"/>
<path d="M9,68.5h4" stroke="#acd9ef" stroke-width="1" stroke-opacity="0.49"/>
<path d="M-8,46.5h7" stroke="#eefaff" stroke-width="1" stroke-opacity="0.40"/>
<path d="M24,68.5h30" stroke="#acd9ef" stroke-width="1" stroke-opacity="0.53"/>
<path d="M19,27.5h25" stroke="#acd9ef" stroke-width="1.5" stroke-opacity="0.62"/>
<path d="M158,15.5h8" stroke="#eefaff" stroke-width="1" stroke-opacity="0.61"/>
<path d="M-2,15.5h8" stroke="#eefaff" stroke-width="1" stroke-opacity="0.61"/>
<path d="M25,50.5h10" stroke="#eefaff" stroke-width="1" stroke-opacity="0.61"/>
<path d="M91,33.5h22" stroke="#acd9ef" stroke-width="1" stroke-opacity="0.36"/>
<path d="M-8,76.5h14" stroke="#eefaff" stroke-width="1" stroke-opacity="0.63"/>
<path d="M45,9.5h7" stroke="#eefaff" stroke-width="1" stroke-opacity="0.52"/>
<path d="M12,57.5h6" stroke="#eefaff" stroke-width="1" stroke-opacity="0.48"/>
<path d="M158,56.5h28" stroke="#acd9ef" stroke-width="1" stroke-opacity="0.51"/>
<path d="M-2,56.5h28" stroke="#acd9ef" stroke-width="1" stroke-opacity="0.51"/>
<path d="M-14,26.5h27" stroke="#eefaff" stroke-width="1" stroke-opacity="0.68"/>
<path d="M30,42.5h3" stroke="#eefaff" stroke-width="1" stroke-opacity="0.71"/>
<path d="M36,75.5h11" stroke="#eefaff" stroke-width="1" stroke-opacity="0.52"/>
<path d="M26,49.5h6" stroke="#acd9ef" stroke-width="1" stroke-opacity="0.33"/>
<path d="M28,1.5h30" stroke="#acd9ef" stroke-width="1" stroke-opacity="0.46"/>
<path d="M46,17.5h24" stroke="#eefaff" stroke-width="1" stroke-opacity="0.37"/>
<path d="M144,31.5h8" stroke="#acd9ef" stroke-width="1" stroke-opacity="0.72"/>
<path d="M97,28.5h29" stroke="#acd9ef" stroke-width="1" stroke-opacity="0.68"/>
<path d="M27,60.5h3" stroke="#eefaff" stroke-width="1" stroke-opacity="0.47"/>
<path d="M31,30.5h17" stroke="#eefaff" stroke-width="1.5" stroke-opacity="0.35"/>
<path d="M53,11.5h17" stroke="#acd9ef" stroke-width="1.5" stroke-opacity="0.71"/>
<path d="M-9,56.5h9" stroke="#eefaff" stroke-width="1" stroke-opacity="0.50"/>
<path d="M80,43.5h5" stroke="#eefaff" stroke-width="1.5" stroke-opacity="0.63"/>
<path d="M-9,14.5h16" stroke="#eefaff" stroke-width="1" stroke-opacity="0.53"/>
<path d="M-2,27.5h17" stroke="#eefaff" stroke-width="1" stroke-opacity="0.73"/>
<path d="M125,9.5h21" stroke="#eefaff" stroke-width="1" stroke-opacity="0.43"/>
<path d="M2,8.5h32" stroke="#eefaff" stroke-width="1" stroke-opacity="0.38"/>
<path d="M142,65.5h22" stroke="#acd9ef" stroke-width="1" stroke-opacity="0.31"/>
<path d="M-18,65.5h22" stroke="#acd9ef" stroke-width="1" stroke-opacity="0.31"/>
<path d="M100,63.5h7" stroke="#eefaff" stroke-width="1" stroke-opacity="0.47"/>
<path d="M134,5.5h14" stroke="#acd9ef" stroke-width="1" stroke-opacity="0.38"/>
<path d="M88,2.5h29" stroke="#eefaff" stroke-width="1" stroke-opacity="0.40"/>
<path d="M59,36.5h7" stroke="#eefaff" stroke-width="1" stroke-opacity="0.64"/>
<path d="M52,8.5h23" stroke="#eefaff" stroke-width="1" stroke-opacity="0.73"/>
<path d="M66,8.5h18" stroke="#acd9ef" stroke-width="1" stroke-opacity="0.52"/>
<path d="M143,79.5h9" stroke="#eefaff" stroke-width="1.5" stroke-opacity="0.44"/>
<path d="M21,34.5h31" stroke="#eefaff" stroke-width="1" stroke-opacity="0.48"/>
</pattern>
<pattern id="mixtex" patternUnits="userSpaceOnUse" width="160" height="80">
<rect width="160" height="80" fill="#d5b2bd"/>
<path d="M100,52.5h4" stroke="#ead6dc" stroke-width="1" stroke-opacity="0.37"/>
<path d="M89,19.5h10" stroke="#ead6dc" stroke-width="1.5" stroke-opacity="0.55"/>
<path d="M27,17.5h19" stroke="#ead6dc" stroke-width="1" stroke-opacity="0.49"/>
<path d="M4,66.5h12" stroke="#bf97a3" stroke-width="1.5" stroke-opacity="0.38"/>
<path d="M-6,21.5h27" stroke="#bf97a3" stroke-width="1" stroke-opacity="0.41"/>
<path d="M152,19.5h11" stroke="#bf97a3" stroke-width="1" stroke-opacity="0.48"/>
<path d="M-8,19.5h11" stroke="#bf97a3" stroke-width="1" stroke-opacity="0.48"/>
<path d="M145,55.5h6" stroke="#ead6dc" stroke-width="1" stroke-opacity="0.43"/>
<path d="M137,22.5h15" stroke="#ead6dc" stroke-width="1" stroke-opacity="0.68"/>
<path d="M24,57.5h22" stroke="#bf97a3" stroke-width="1" stroke-opacity="0.66"/>
<path d="M-6,55.5h29" stroke="#bf97a3" stroke-width="1" stroke-opacity="0.38"/>
<path d="M54,30.5h31" stroke="#ead6dc" stroke-width="1" stroke-opacity="0.67"/>
<path d="M103,79.5h9" stroke="#ead6dc" stroke-width="1.5" stroke-opacity="0.71"/>
<path d="M41,60.5h25" stroke="#bf97a3" stroke-width="1.5" stroke-opacity="0.70"/>
<path d="M121,41.5h10" stroke="#ead6dc" stroke-width="1" stroke-opacity="0.73"/>
<path d="M54,69.5h31" stroke="#bf97a3" stroke-width="1" stroke-opacity="0.40"/>
<path d="M99,48.5h25" stroke="#ead6dc" stroke-width="1" stroke-opacity="0.40"/>
<path d="M0,34.5h18" stroke="#bf97a3" stroke-width="1" stroke-opacity="0.58"/>
<path d="M85,60.5h30" stroke="#bf97a3" stroke-width="1.5" stroke-opacity="0.46"/>
<path d="M12,40.5h17" stroke="#ead6dc" stroke-width="1" stroke-opacity="0.60"/>
<path d="M47,50.5h31" stroke="#bf97a3" stroke-width="1" stroke-opacity="0.68"/>
<path d="M107,31.5h31" stroke="#ead6dc" stroke-width="1" stroke-opacity="0.64"/>
<path d="M9,32.5h5" stroke="#ead6dc" stroke-width="1" stroke-opacity="0.60"/>
<path d="M141,25.5h20" stroke="#ead6dc" stroke-width="1" stroke-opacity="0.55"/>
<path d="M-19,25.5h20" stroke="#ead6dc" stroke-width="1" stroke-opacity="0.55"/>
<path d="M124,8.5h27" stroke="#ead6dc" stroke-width="1" stroke-opacity="0.41"/>
<path d="M11,29.5h29" stroke="#bf97a3" stroke-width="1" stroke-opacity="0.41"/>
<path d="M-5,14.5h6" stroke="#ead6dc" stroke-width="1" stroke-opacity="0.51"/>
<path d="M43,66.5h11" stroke="#bf97a3" stroke-width="1" stroke-opacity="0.69"/>
<path d="M147,7.5h11" stroke="#ead6dc" stroke-width="1" stroke-opacity="0.33"/>
<path d="M4,33.5h28" stroke="#ead6dc" stroke-width="1" stroke-opacity="0.53"/>
<path d="M89,24.5h32" stroke="#bf97a3" stroke-width="1.5" stroke-opacity="0.64"/>
<path d="M33,49.5h3" stroke="#ead6dc" stroke-width="1.5" stroke-opacity="0.33"/>
<path d="M-8,12.5h7" stroke="#bf97a3" stroke-width="1.5" stroke-opacity="0.50"/>
<path d="M92,29.5h27" stroke="#ead6dc" stroke-width="1" stroke-opacity="0.50"/>
<path d="M148,24.5h9" stroke="#bf97a3" stroke-width="1" stroke-opacity="0.51"/>
<path d="M56,64.5h18" stroke="#bf97a3" stroke-width="1" stroke-opacity="0.31"/>
<path d="M72,28.5h9" stroke="#bf97a3" stroke-width="1" stroke-opacity="0.50"/>
<path d="M17,23.5h12" stroke="#bf97a3" stroke-width="1" stroke-opacity="0.42"/>
<path d="M21,7.5h25" stroke="#bf97a3" stroke-width="1" stroke-opacity="0.62"/>
<path d="M37,50.5h24" stroke="#ead6dc" stroke-width="1" stroke-opacity="0.57"/>
<path d="M-11,37.5h18" stroke="#ead6dc" stroke-width="1" stroke-opacity="0.72"/>
<path d="M-15,59.5h12" stroke="#bf97a3" stroke-width="1" stroke-opacity="0.62"/>
<path d="M75,60.5h25" stroke="#ead6dc" stroke-width="1.5" stroke-opacity="0.33"/>
<path d="M67,55.5h10" stroke="#bf97a3" stroke-width="1" stroke-opacity="0.40"/>
<path d="M149,61.5h15" stroke="#bf97a3" stroke-width="1" stroke-opacity="0.54"/>
<path d="M-11,61.5h15" stroke="#bf97a3" stroke-width="1" stroke-opacity="0.54"/>
<path d="M-11,79.5h25" stroke="#ead6dc" stroke-width="1" stroke-opacity="0.72"/>
<path d="M134,4.5h30" stroke="#bf97a3" stroke-width="1" stroke-opacity="0.33"/>
<path d="M-26,4.5h30" stroke="#bf97a3" stroke-width="1" stroke-opacity="0.33"/>
<path d="M98,38.5h28" stroke="#bf97a3" stroke-width="1" stroke-opacity="0.45"/>
<path d="M51,18.5h6" stroke="#bf97a3" stroke-width="1" stroke-opacity="0.32"/>
<path d="M75,17.5h23" stroke="#ead6dc" stroke-width="1.5" stroke-opacity="0.67"/>
<path d="M23,21.5h14" stroke="#bf97a3" stroke-width="1" stroke-opacity="0.62"/>
<path d="M140,15.5h16" stroke="#bf97a3" stroke-width="1.5" stroke-opacity="0.34"/>
<path d="M21,60.5h8" stroke="#bf97a3" stroke-width="1.5" stroke-opacity="0.64"/>
<path d="M112,25.5h7" stroke="#ead6dc" stroke-width="1" stroke-opacity="0.73"/>
<path d="M41,65.5h10" stroke="#ead6dc" stroke-width="1" stroke-opacity="0.51"/>
<path d="M38,78.5h8" stroke="#bf97a3" stroke-width="1" stroke-opacity="0.45"/>
<path d="M-10,53.5h3" stroke="#ead6dc" stroke-width="1" stroke-opacity="0.45"/>
<path d="M-13,77.5h4" stroke="#bf97a3" stroke-width="1" stroke-opacity="0.40"/>
<path d="M151,34.5h12" stroke="#bf97a3" stroke-width="1" stroke-opacity="0.48"/>
<path d="M-9,34.5h12" stroke="#bf97a3" stroke-width="1" stroke-opacity="0.48"/>
<path d="M150,14.5h3" stroke="#bf97a3" stroke-width="1" stroke-opacity="0.64"/>
<path d="M158,6.5h24" stroke="#bf97a3" stroke-width="1" stroke-opacity="0.67"/>
<path d="M-2,6.5h24" stroke="#bf97a3" stroke-width="1" stroke-opacity="0.67"/>
<path d="M98,64.5h14" stroke="#bf97a3" stroke-width="1" stroke-opacity="0.36"/>
<path d="M42,7.5h27" stroke="#bf97a3" stroke-width="1" stroke-opacity="0.70"/>
<path d="M97,69.5h4" stroke="#bf97a3" stroke-width="1.5" stroke-opacity="0.55"/>
<path d="M65,43.5h16" stroke="#bf97a3" stroke-width="1" stroke-opacity="0.68"/>
<path d="M25,46.5h6" stroke="#ead6dc" stroke-width="1" stroke-opacity="0.31"/>
<path d="M47,29.5h21" stroke="#ead6dc" stroke-width="1.5" stroke-opacity="0.32"/>
<path d="M36,51.5h17" stroke="#ead6dc" stroke-width="1.5" stroke-opacity="0.59"/>
<path d="M142,40.5h24" stroke="#ead6dc" stroke-width="1" stroke-opacity="0.69"/>
<path d="M-18,40.5h24" stroke="#ead6dc" stroke-width="1" stroke-opacity="0.69"/>
<path d="M86,76.5h27" stroke="#ead6dc" stroke-width="1.5" stroke-opacity="0.52"/>
<path d="M138,1.5h22" stroke="#ead6dc" stroke-width="1" stroke-opacity="0.46"/>
<path d="M-22,1.5h22" stroke="#ead6dc" stroke-width="1" stroke-opacity="0.46"/>
<path d="M98,15.5h19" stroke="#ead6dc" stroke-width="1" stroke-opacity="0.56"/>
<path d="M57,16.5h6" stroke="#ead6dc" stroke-width="1" stroke-opacity="0.67"/>
<path d="M20,12.5h25" stroke="#bf97a3" stroke-width="1.5" stroke-opacity="0.40"/>
<path d="M49,20.5h24" stroke="#bf97a3" stroke-width="1" stroke-opacity="0.39"/>
<path d="M73,42.5h31" stroke="#ead6dc" stroke-width="1" stroke-opacity="0.64"/>
<path d="M89,18.5h14" stroke="#bf97a3" stroke-width="1" stroke-opacity="0.71"/>
<path d="M-17,23.5h22" stroke="#bf97a3" stroke-width="1" stroke-opacity="0.35"/>
<path d="M146,6.5h9" stroke="#ead6dc" stroke-width="1" stroke-opacity="0.53"/>
<path d="M63,65.5h7" stroke="#ead6dc" stroke-width="1.5" stroke-opacity="0.37"/>
<path d="M56,3.5h20" stroke="#ead6dc" stroke-width="1.5" stroke-opacity="0.42"/>
<path d="M72,27.5h17" stroke="#ead6dc" stroke-width="1" stroke-opacity="0.30"/>
<path d="M115,21.5h10" stroke="#ead6dc" stroke-width="1" stroke-opacity="0.53"/>
<path d="M89,29.5h29" stroke="#ead6dc" stroke-width="1" stroke-opacity="0.56"/>
<path d="M108,59.5h24" stroke="#ead6dc" stroke-width="1" stroke-opacity="0.68"/>
<path d="M150,62.5h16" stroke="#ead6dc" stroke-width="1.5" stroke-opacity="0.33"/>
<path d="M-10,62.5h16" stroke="#ead6dc" stroke-width="1.5" stroke-opacity="0.33"/>
<path d="M38,18.5h8" stroke="#ead6dc" stroke-width="1.5" stroke-opacity="0.54"/>
<path d="M159,31.5h10" stroke="#bf97a3" stroke-width="1.5" stroke-opacity="0.46"/>
<path d="M-1,31.5h10" stroke="#bf97a3" stroke-width="1.5" stroke-opacity="0.46"/>
<path d="M36,38.5h21" stroke="#ead6dc" stroke-width="1" stroke-opacity="0.36"/>
<path d="M71,15.5h8" stroke="#ead6dc" stroke-width="1.5" stroke-opacity="0.50"/>
<path d="M150,60.5h17" stroke="#ead6dc" stroke-width="1" stroke-opacity="0.57"/>
<path d="M-10,60.5h17" stroke="#ead6dc" stroke-width="1" stroke-opacity="0.57"/>
<path d="M10,64.5h5" stroke="#bf97a3" stroke-width="1.5" stroke-opacity="0.74"/>
<path d="M44,12.5h15" stroke="#ead6dc" stroke-width="1.5" stroke-opacity="0.61"/>
<path d="M64,19.5h27" stroke="#ead6dc" stroke-width="1.5" stroke-opacity="0.32"/>
<path d="M72,45.5h24" stroke="#bf97a3" stroke-width="1" stroke-opacity="0.73"/>
<path d="M80,20.5h22" stroke="#bf97a3" stroke-width="1" stroke-opacity="0.73"/>
<path d="M102,46.5h15" stroke="#ead6dc" stroke-width="1" stroke-opacity="0.56"/>
<path d="M124,43.5h8" stroke="#bf97a3" stroke-width="1" stroke-opacity="0.59"/>
<path d="M4,14.5h29" stroke="#bf97a3" stroke-width="1.5" stroke-opacity="0.58"/>
<path d="M69,56.5h14" stroke="#bf97a3" stroke-width="1" stroke-opacity="0.46"/>
<path d="M1,61.5h10" stroke="#bf97a3" stroke-width="1" stroke-opacity="0.55"/>
<path d="M47,2.5h14" stroke="#ead6dc" stroke-width="1" stroke-opacity="0.71"/>
<path d="M140,35.5h11" stroke="#ead6dc" stroke-width="1.5" stroke-opacity="0.72"/>
<path d="M-6,2.5h9" stroke="#bf97a3" stroke-width="1" stroke-opacity="0.36"/>
<path d="M19,29.5h16" stroke="#ead6dc" stroke-width="1" stroke-opacity="0.74"/>
<path d="M79,18.5h30" stroke="#ead6dc" stroke-width="1.5" stroke-opacity="0.72"/>
<path d="M-13,24.5h17" stroke="#bf97a3" stroke-width="1" stroke-opacity="0.49"/>
<path d="M3,76.5h12" stroke="#ead6dc" stroke-width="1" stroke-opacity="0.37"/>
<path d="M39,2.5h23" stroke="#ead6dc" stroke-width="1" stroke-opacity="0.51"/>
<path d="M16,23.5h13" stroke="#bf97a3" stroke-width="1" stroke-opacity="0.39"/>
<path d="M39,55.5h15" stroke="#ead6dc" stroke-width="1" stroke-opacity="0.52"/>
<path d="M10,22.5h29" stroke="#bf97a3" stroke-width="1" stroke-opacity="0.58"/>
<path d="M75,57.5h23" stroke="#ead6dc" stroke-width="1" stroke-opacity="0.50"/>
<path d="M59,57.5h4" stroke="#bf97a3" stroke-width="1" stroke-opacity="0.60"/>
<path d="M145,6.5h19" stroke="#ead6dc" stroke-width="1.5" stroke-opacity="0.38"/>
<path d="M-15,6.5h19" stroke="#ead6dc" stroke-width="1.5" stroke-opacity="0.38"/>
<path d="M104,20.5h3" stroke="#bf97a3" stroke-width="1" stroke-opacity="0.65"/>
<path d="M55,46.5h22" stroke="#bf97a3" stroke-width="1.5" stroke-opacity="0.63"/>
<path d="M153,42.5h31" stroke="#bf97a3" stroke-width="1" stroke-opacity="0.58"/>
<path d="M-7,42.5h31" stroke="#bf97a3" stroke-width="1" stroke-opacity="0.58"/>
<path d="M14,48.5h32" stroke="#ead6dc" stroke-width="1" stroke-opacity="0.60"/>
<path d="M104,74.5h12" stroke="#bf97a3" stroke-width="1" stroke-opacity="0.42"/>
<path d="M83,20.5h19" stroke="#bf97a3" stroke-width="1" stroke-opacity="0.69"/>
<path d="M147,62.5h25" stroke="#ead6dc" stroke-width="1.5" stroke-opacity="0.64"/>
<path d="M-13,62.5h25" stroke="#ead6dc" stroke-width="1.5" stroke-opacity="0.64"/>
<path d="M86,37.5h15" stroke="#bf97a3" stroke-width="1" stroke-opacity="0.34"/>
<path d="M48,13.5h28" stroke="#bf97a3" stroke-width="1" stroke-opacity="0.50"/>
<path d="M111,10.5h22" stroke="#ead6dc" stroke-width="1" stroke-opacity="0.52"/>
<path d="M-8,27.5h10" stroke="#bf97a3" stroke-width="1.5" stroke-opacity="0.39"/>
<path d="M105,73.5h22" stroke="#ead6dc" stroke-width="1" stroke-opacity="0.59"/>
<path d="M103,51.5h23" stroke="#bf97a3" stroke-width="1" stroke-opacity="0.32"/>
<path d="M-10,37.5h32" stroke="#ead6dc" stroke-width="1" stroke-opacity="0.63"/>
<path d="M95,45.5h14" stroke="#ead6dc" stroke-width="1" stroke-opacity="0.67"/>
<path d="M66,56.5h6" stroke="#bf97a3" stroke-width="1" stroke-opacity="0.70"/>
<path d="M64,27.5h17" stroke="#bf97a3" stroke-width="1" stroke-opacity="0.63"/>
<path d="M13,77.5h7" stroke="#bf97a3" stroke-width="1" stroke-opacity="0.35"/>
<path d="M27,64.5h8" stroke="#bf97a3" stroke-width="1" stroke-opacity="0.40"/>
<path d="M27,32.5h5" stroke="#ead6dc" stroke-width="1" stroke-opacity="0.75"/>
<path d="M94,8.5h18" stroke="#bf97a3" stroke-width="1" stroke-opacity="0.50"/>
<path d="M144,53.5h26" stroke="#bf97a3" stroke-width="1" stroke-opacity="0.64"/>
<path d="M-16,53.5h26" stroke="#bf97a3" stroke-width="1" stroke-opacity="0.64"/>
<path d="M67,59.5h18" stroke="#ead6dc" stroke-width="1" stroke-opacity="0.42"/>
<path d="M37,70.5h29" stroke="#bf97a3" stroke-width="1.5" stroke-opacity="0.70"/>
<path d="M148,63.5h19" stroke="#ead6dc" stroke-width="1" stroke-opacity="0.52"/>
<path d="M-12,63.5h19" stroke="#ead6dc" stroke-width="1" stroke-opacity="0.52"/>
<path d="M42,20.5h6" stroke="#ead6dc" stroke-width="1" stroke-opacity="0.35"/>
<path d="M85,63.5h31" stroke="#ead6dc" stroke-width="1" stroke-opacity="0.55"/>
<path d="M37,3.5h16" stroke="#bf97a3" stroke-width="1" stroke-opacity="0.50"/>
<path d="M120,72.5h30" stroke="#bf97a3" stroke-width="1" stroke-opacity="0.52"/>
<path d="M152,69.5h22" stroke="#ead6dc" stroke-width="1" stroke-opacity="0.38"/>
<path d="M-8,69.5h22" stroke="#ead6dc" stroke-width="1" stroke-opacity="0.38"/>
<path d="M33,38.5h24" stroke="#bf97a3" stroke-width="1.5" stroke-opacity="0.56"/>
<path d="M18,1.5h5" stroke="#ead6dc" stroke-width="1" stroke-opacity="0.60"/>
<path d="M103,14.5h30" stroke="#bf97a3" stroke-width="1" stroke-opacity="0.61"/>
<path d="M-11,34.5h15" stroke="#bf97a3" stroke-width="1" stroke-opacity="0.44"/>
<path d="M55,65.5h29" stroke="#bf97a3" stroke-width="1" stroke-opacity="0.67"/>
<path d="M16,73.5h8" stroke="#bf97a3" stroke-width="1" stroke-opacity="0.35"/>
<path d="M85,34.5h24" stroke="#bf97a3" stroke-width="1.5" stroke-opacity="0.60"/>
<path d="M159,51.5h4" stroke="#bf97a3" stroke-width="1.5" stroke-opacity="0.61"/>
<path d="M-1,51.5h4" stroke="#bf97a3" stroke-width="1.5" stroke-opacity="0.61"/>
<path d="M129,14.5h29" stroke="#ead6dc" stroke-width="1" stroke-opacity="0.49"/>
<path d="M159,3.5h32" stroke="#bf97a3" stroke-width="1" stroke-opacity="0.59"/>
<path d="M-1,3.5h32" stroke="#bf97a3" stroke-width="1" stroke-opacity="0.59"/>
<path d="M111,47.5h19" stroke="#ead6dc" stroke-width="1" stroke-opacity="0.71"/>
<path d="M5,69.5h8" stroke="#ead6dc" stroke-width="1" stroke-opacity="0.56"/>
<path d="M36,20.5h19" stroke="#ead6dc" stroke-width="1.5" stroke-opacity="0.52"/>
<path d="M115,69.5h24" stroke="#ead6dc" stroke-width="1" stroke-opacity="0.36"/>
<path d="M141,30.5h13" stroke="#bf97a3" stroke-width="1.5" stroke-opacity="0.68"/>
<path d="M40,54.5h25" stroke="#ead6dc" stroke-width="1" stroke-opacity="0.60"/>
<path d="M158,57.5h10" stroke="#ead6dc" stroke-width="1" stroke-opacity="0.72"/>
<path d="M-2,57.5h10" stroke="#ead6dc" stroke-width="1" stroke-opacity="0.72"/>
<path d="M27,8.5h25" stroke="#bf97a3" stroke-width="1" stroke-opacity="0.45"/>
<path d="M116,54.5h5" stroke="#bf97a3" stroke-width="1" stroke-opacity="0.50"/>
<path d="M35,22.5h12" stroke="#bf97a3" stroke-width="1.5" stroke-opacity="0.62"/>
<path d="M86,21.5h17" stroke="#bf97a3" stroke-width="1" stroke-opacity="0.63"/>
<path d="M31,7.5h4" stroke="#ead6dc" stroke-width="1" stroke-opacity="0.53"/>
<path d="M53,65.5h10" stroke="#ead6dc" stroke-width="1.5" stroke-opacity="0.42"/>
<path d="M23,11.5h17" stroke="#bf97a3" stroke-width="1" stroke-opacity="0.60"/>
<path d="M53,25.5h19" stroke="#ead6dc" stroke-width="1" stroke-opacity="0.46"/>
<path d="M99,34.5h13" stroke="#ead6dc" stroke-width="1.5" stroke-opacity="0.49"/>
<path d="M8,8.5h5" stroke="#ead6dc" stroke-width="1" stroke-opacity="0.75"/>
<path d="M70,48.5h17" stroke="#ead6dc" stroke-width="1.5" stroke-opacity="0.60"/>
<path d="M126,72.5h11" stroke="#bf97a3" stroke-width="1.5" stroke-opacity="0.67"/>
<path d="M5,16.5h17" stroke="#ead6dc" stroke-width="1" stroke-opacity="0.61"/>
<path d="M157,74.5h24" stroke="#bf97a3" stroke-width="1" stroke-opacity="0.66"/>
<path d="M-3,74.5h24" stroke="#bf97a3" stroke-width="1" stroke-opacity="0.66"/>
<path d="M124,14.5h10" stroke="#ead6dc" stroke-width="1" stroke-opacity="0.73"/>
<path d="M11,44.5h27" stroke="#ead6dc" stroke-width="1" stroke-opacity="0.67"/>
<path d="M59,56.5h3" stroke="#ead6dc" stroke-width="1" stroke-opacity="0.63"/>
<path d="M99,19.5h11" stroke="#ead6dc" stroke-width="1" stroke-opacity="0.66"/>
<path d="M-19,28.5h4" stroke="#ead6dc" stroke-width="1" stroke-opacity="0.69"/>
<path d="M136,71.5h20" stroke="#bf97a3" stroke-width="1" stroke-opacity="0.59"/>
<path d="M73,39.5h17" stroke="#ead6dc" stroke-width="1" stroke-opacity="0.47"/>
<path d="M30,79.5h18" stroke="#ead6dc" stroke-width="1" stroke-opacity="0.49"/>
<path d="M76,5.5h11" stroke="#bf97a3" stroke-width="1" stroke-opacity="0.62"/>
<path d="M66,66.5h23" stroke="#bf97a3" stroke-width="1" stroke-opacity="0.54"/>
<path d="M52,37.5h24" stroke="#bf97a3" stroke-width="1" stroke-opacity="0.52"/>
<path d="M135,57.5h24" stroke="#ead6dc" stroke-width="1" stroke-opacity="0.34"/>
<path d="M129,26.5h32" stroke="#ead6dc" stroke-width="1" stroke-opacity="0.63"/>
<path d="M-31,26.5h32" stroke="#ead6dc" stroke-width="1" stroke-opacity="0.63"/>
<path d="M105,46.5h11" stroke="#ead6dc" stroke-width="1" stroke-opacity="0.46"/>
<path d="M153,55.5h18" stroke="#bf97a3" stroke-width="1" stroke-opacity="0.73"/>
<path d="M-7,55.5h18" stroke="#bf97a3" stroke-width="1" stroke-opacity="0.73"/>
<path d="M41,43.5h6" stroke="#bf97a3" stroke-width="1.5" stroke-opacity="0.63"/>
<path d="M46,13.5h11" stroke="#ead6dc" stroke-width="1" stroke-opacity="0.62"/>
<path d="M136,53.5h16" stroke="#ead6dc" stroke-width="1" stroke-opacity="0.44"/>
<path d="M43,20.5h5" stroke="#bf97a3" stroke-width="1" stroke-opacity="0.41"/>
<path d="M140,22.5h15" stroke="#ead6dc" stroke-width="1" stroke-opacity="0.65"/>
<path d="M1,65.5h29" stroke="#ead6dc" stroke-width="1" stroke-opacity="0.48"/>
<path d="M51,2.5h8" stroke="#bf97a3" stroke-width="1" stroke-opacity="0.63"/>
<path d="M40,41.5h23" stroke="#bf97a3" stroke-width="1" stroke-opacity="0.38"/>
<path d="M101,74.5h21" stroke="#ead6dc" stroke-width="1" stroke-opacity="0.39"/>
<path d="M65,29.5h25" stroke="#bf97a3" stroke-width="1" stroke-opacity="0.35"/>
<path d="M96,66.5h20" stroke="#ead6dc" stroke-width="1" stroke-opacity="0.36"/>
<path d="M36,56.5h15" stroke="#ead6dc" stroke-width="1" stroke-opacity="0.71"/>
<path d="M158,42.5h10" stroke="#bf97a3" stroke-width="1" stroke-opacity="0.41"/>
<path d="M-2,42.5h10" stroke="#bf97a3" stroke-width="1" stroke-opacity="0.41"/>
<path d="M94,48.5h18" stroke="#bf97a3" stroke-width="1.5" stroke-opacity="0.44"/>
<path d="M64,61.5h3" stroke="#bf97a3" stroke-width="1" stroke-opacity="0.51"/>
<path d="M132,76.5h19" stroke="#ead6dc" stroke-width="1" stroke-opacity="0.66"/>
<path d="M117,33.5h25" stroke="#bf97a3" stroke-width="1" stroke-opacity="0.70"/>
<path d="M137,59.5h23" stroke="#ead6dc" stroke-width="1" stroke-opacity="0.71"/>
<path d="M-19,47.5h15" stroke="#ead6dc" stroke-width="1" stroke-opacity="0.71"/>
<path d="M46,66.5h24" stroke="#ead6dc" stroke-width="1" stroke-opacity="0.54"/>
<path d="M32,47.5h19" stroke="#ead6dc" stroke-width="1" stroke-opacity="0.47"/>
<path d="M91,77.5h19" stroke="#ead6dc" stroke-width="1" stroke-opacity="0.34"/>
<path d="M46,14.5h32" stroke="#bf97a3" stroke-width="1" stroke-opacity="0.36"/>
<path d="M9,43.5h4" stroke="#bf97a3" stroke-width="1" stroke-opacity="0.40"/>
<path d="M160,20.5h9" stroke="#ead6dc" stroke-width="1" stroke-opacity="0.46"/>
<path d="M-0,20.5h9" stroke="#ead6dc" stroke-width="1" stroke-opacity="0.46"/>
<path d="M11,29.5h23" stroke="#ead6dc" stroke-width="1" stroke-opacity="0.71"/>
<path d="M48,3.5h29" stroke="#ead6dc" stroke-width="1" stroke-opacity="0.48"/>
<path d="M78,63.5h26" stroke="#ead6dc" stroke-width="1" stroke-opacity="0.33"/>
<path d="M27,23.5h22" stroke="#ead6dc" stroke-width="1" stroke-opacity="0.58"/>
<path d="M137,65.5h11" stroke="#ead6dc" stroke-width="1" stroke-opacity="0.62"/>
<path d="M29,17.5h12" stroke="#ead6dc" stroke-width="1" stroke-opacity="0.74"/>
<path d="M114,56.5h12" stroke="#ead6dc" stroke-width="1.5" stroke-opacity="0.68"/>
<path d="M79,57.5h8" stroke="#ead6dc" stroke-width="1" stroke-opacity="0.72"/>
<path d="M92,78.5h20" stroke="#bf97a3" stroke-width="1" stroke-opacity="0.53"/>
<path d="M125,34.5h5" stroke="#bf97a3" stroke-width="1" stroke-opacity="0.73"/>
<path d="M91,2.5h10" stroke="#ead6dc" stroke-width="1.5" stroke-opacity="0.67"/>
<path d="M23,68.5h8" stroke="#ead6dc" stroke-width="1" stroke-opacity="0.59"/>
<path d="M41,16.5h5" stroke="#ead6dc" stroke-width="1" stroke-opacity="0.58"/>
<path d="M9,6.5h11" stroke="#ead6dc" stroke-width="1" stroke-opacity="0.71"/>
<path d="M158,26.5h16" stroke="#bf97a3" stroke-width="1" stroke-opacity="0.43"/>
<path d="M-2,26.5h16" stroke="#bf97a3" stroke-width="1" stroke-opacity="0.43"/>
<path d="M112,7.5h10" stroke="#ead6dc" stroke-width="1.5" stroke-opacity="0.72"/>
<path d="M88,78.5h29" stroke="#ead6dc" stroke-width="1.5" stroke-opacity="0.54"/>
<path d="M129,58.5h30" stroke="#ead6dc" stroke-width="1" stroke-opacity="0.42"/>
<path d="M105,17.5h14" stroke="#ead6dc" stroke-width="1" stroke-opacity="0.40"/>
<path d="M72,59.5h18" stroke="#ead6dc" stroke-width="1" stroke-opacity="0.64"/>
<path d="M18,51.5h13" stroke="#bf97a3" stroke-width="1.5" stroke-opacity="0.60"/>
<path d="M74,20.5h7" stroke="#bf97a3" stroke-width="1" stroke-opacity="0.51"/>
<path d="M98,25.5h10" stroke="#bf97a3" stroke-width="1" stroke-opacity="0.71"/>
<path d="M43,35.5h7" stroke="#ead6dc" stroke-width="1" stroke-opacity="0.57"/>
<path d="M59,40.5h3" stroke="#bf97a3" stroke-width="1" stroke-opacity="0.41"/>
<path d="M79,70.5h19" stroke="#bf97a3" stroke-width="1" stroke-opacity="0.62"/>
<path d="M101,37.5h6" stroke="#bf97a3" stroke-width="1.5" stroke-opacity="0.50"/>
<path d="M130,55.5h24" stroke="#ead6dc" stroke-width="1" stroke-opacity="0.68"/>
<path d="M11,52.5h29" stroke="#ead6dc" stroke-width="1.5" stroke-opacity="0.59"/>
<path d="M30,49.5h6" stroke="#bf97a3" stroke-width="1" stroke-opacity="0.68"/>
<path d="M86,60.5h9" stroke="#bf97a3" stroke-width="1" stroke-opacity="0.52"/>
<path d="M156,2.5h28" stroke="#ead6dc" stroke-width="1" stroke-opacity="0.70"/>
<path d="M-4,2.5h28" stroke="#ead6dc" stroke-width="1" stroke-opacity="0.70"/>
<path d="M58,68.5h28" stroke="#bf97a3" stroke-width="1" stroke-opacity="0.58"/>
<path d="M11,73.5h13" stroke="#ead6dc" stroke-width="1" stroke-opacity="0.66"/>
<path d="M8,39.5h19" stroke="#bf97a3" stroke-width="1" stroke-opacity="0.35"/>
<path d="M25,25.5h5" stroke="#ead6dc" stroke-width="1.5" stroke-opacity="0.34"/>
<path d="M25,23.5h12" stroke="#ead6dc" stroke-width="1.5" stroke-opacity="0.47"/>
<path d="M116,14.5h28" stroke="#ead6dc" stroke-width="1.5" stroke-opacity="0.64"/>
<path d="M120,62.5h32" stroke="#ead6dc" stroke-width="1.5" stroke-opacity="0.32"/>
<path d="M97,52.5h18" stroke="#ead6dc" stroke-width="1.5" stroke-opacity="0.49"/>
<path d="M85,55.5h18" stroke="#bf97a3" stroke-width="1.5" stroke-opacity="0.42"/>
<path d="M18,52.5h4" stroke="#ead6dc" stroke-width="1" stroke-opacity="0.73"/>
<path d="M72,71.5h6" stroke="#bf97a3" stroke-width="1.5" stroke-opacity="0.70"/>
<path d="M-18,1.5h21" stroke="#bf97a3" stroke-width="1.5" stroke-opacity="0.68"/>
<path d="M137,16.5h16" stroke="#bf97a3" stroke-width="1" stroke-opacity="0.72"/>
<path d="M98,50.5h22" stroke="#ead6dc" stroke-width="1" stroke-opacity="0.50"/>
<path d="M87,66.5h13" stroke="#ead6dc" stroke-width="1" stroke-opacity="0.60"/>
<path d="M122,5.5h12" stroke="#ead6dc" stroke-width="1" stroke-opacity="0.66"/>
<path d="M112,11.5h5" stroke="#bf97a3" stroke-width="1" stroke-opacity="0.31"/>
<path d="M91,22.5h21" stroke="#bf97a3" stroke-width="1" stroke-opacity="0.70"/>
<path d="M64,66.5h17" stroke="#ead6dc" stroke-width="1" stroke-opacity="0.35"/>
<path d="M154,48.5h12" stroke="#bf97a3" stroke-width="1.5" stroke-opacity="0.67"/>
<path d="M-6,48.5h12" stroke="#bf97a3" stroke-width="1.5" stroke-opacity="0.67"/>
<path d="M116,66.5h11" stroke="#ead6dc" stroke-width="1.5" stroke-opacity="0.32"/>
<path d="M137,33.5h9" stroke="#ead6dc" stroke-width="1" stroke-opacity="0.64"/>
<path d="M7,46.5h18" stroke="#ead6dc" stroke-width="1" stroke-opacity="0.72"/>
<path d="M81,15.5h15" stroke="#ead6dc" stroke-width="1" stroke-opacity="0.50"/>
<path d="M59,75.5h25" stroke="#ead6dc" stroke-width="1.5" stroke-opacity="0.66"/>
<path d="M71,38.5h27" stroke="#bf97a3" stroke-width="1.5" stroke-opacity="0.46"/>
<path d="M-17,11.5h7" stroke="#ead6dc" stroke-width="1" stroke-opacity="0.34"/>
<path d="M15,70.5h18" stroke="#ead6dc" stroke-width="1.5" stroke-opacity="0.67"/>
<path d="M25,56.5h10" stroke="#bf97a3" stroke-width="1" stroke-opacity="0.32"/>
<path d="M150,69.5h15" stroke="#bf97a3" stroke-width="1" stroke-opacity="0.69"/>
<path d="M-10,69.5h15" stroke="#bf97a3" stroke-width="1" stroke-opacity="0.69"/>
<path d="M-8,54.5h23" stroke="#bf97a3" stroke-width="1" stroke-opacity="0.62"/>
<path d="M32,63.5h20" stroke="#ead6dc" stroke-width="1" stroke-opacity="0.51"/>
<path d="M79,38.5h22" stroke="#ead6dc" stroke-width="1.5" stroke-opacity="0.34"/>
<path d="M21,43.5h6" stroke="#ead6dc" stroke-width="1" stroke-opacity="0.53"/>
<path d="M25,47.5h29" stroke="#ead6dc" stroke-width="1" stroke-opacity="0.57"/>
<path d="M150,55.5h10" stroke="#bf97a3" stroke-width="1" stroke-opacity="0.58"/>
<path d="M-10,55.5h10" stroke="#bf97a3" stroke-width="1" stroke-opacity="0.58"/>
<path d="M160,17.5h22" stroke="#bf97a3" stroke-width="1" stroke-opacity="0.55"/>
<path d="M-0,17.5h22" stroke="#bf97a3" stroke-width="1" stroke-opacity="0.55"/>
<path d="M135,32.5h8" stroke="#ead6dc" stroke-width="1" stroke-opacity="0.58"/>
<path d="M63,51.5h24" stroke="#ead6dc" stroke-width="1" stroke-opacity="0.60"/>
<path d="M66,23.5h22" stroke="#bf97a3" stroke-width="1" stroke-opacity="0.32"/>
<path d="M50,50.5h15" stroke="#ead6dc" stroke-width="1" stroke-opacity="0.61"/>
<path d="M99,51.5h15" stroke="#ead6dc" stroke-width="1" stroke-opacity="0.48"/>
<path d="M120,65.5h32" stroke="#ead6dc" stroke-width="1" stroke-opacity="0.68"/>
<path d="M109,9.5h30" stroke="#bf97a3" stroke-width="1" stroke-opacity="0.70"/>
<path d="M66,58.5h12" stroke="#ead6dc" stroke-width="1" stroke-opacity="0.66"/>
<path d="M101,69.5h8" stroke="#ead6dc" stroke-width="1" stroke-opacity="0.56"/>
<path d="M41,61.5h6" stroke="#ead6dc" stroke-width="1" stroke-opacity="0.62"/>
<path d="M155,42.5h11" stroke="#ead6dc" stroke-width="1" stroke-opacity="0.39"/>
<path d="M-5,42.5h11" stroke="#ead6dc" stroke-width="1" stroke-opacity="0.39"/>
<path d="M20,55.5h17" stroke="#ead6dc" stroke-width="1" stroke-opacity="0.58"/>
<path d="M153,12.5h10" stroke="#ead6dc" stroke-width="1" stroke-opacity="0.31"/>
<path d="M-7,12.5h10" stroke="#ead6dc" stroke-width="1" stroke-opacity="0.31"/>
<path d="M108,59.5h20" stroke="#ead6dc" stroke-width="1" stroke-opacity="0.41"/>
<path d="M155,27.5h14" stroke="#bf97a3" stroke-width="1" stroke-opacity="0.70"/>
<path d="M-5,27.5h14" stroke="#bf97a3" stroke-width="1" stroke-opacity="0.70"/>
<path d="M-16,75.5h24" stroke="#bf97a3" stroke-width="1" stroke-opacity="0.61"/>
<path d="M8,51.5h19" stroke="#ead6dc" stroke-width="1" stroke-opacity="0.48"/>
<path d="M107,11.5h20" stroke="#bf97a3" stroke-width="1.5" stroke-opacity="0.58"/>
<path d="M126,24.5h19" stroke="#ead6dc" stroke-width="1" stroke-opacity="0.72"/>
<path d="M-2,64.5h13" stroke="#bf97a3" stroke-width="1" stroke-opacity="0.72"/>
<path d="M149,35.5h26" stroke="#ead6dc" stroke-width="1" stroke-opacity="0.51"/>
<path d="M-11,35.5h26" stroke="#ead6dc" stroke-width="1" stroke-opacity="0.51"/>
<path d="M104,14.5h8" stroke="#ead6dc" stroke-width="1" stroke-opacity="0.63"/>
<path d="M4,26.5h17" stroke="#ead6dc" stroke-width="1.5" stroke-opacity="0.73"/>
<path d="M123,61.5h21" stroke="#ead6dc" stroke-width="1" stroke-opacity="0.74"/>
<path d="M-6,57.5h16" stroke="#ead6dc" stroke-width="1.5" stroke-opacity="0.52"/>
<path d="M152,64.5h15" stroke="#bf97a3" stroke-width="1.5" stroke-opacity="0.65"/>
<path d="M-8,64.5h15" stroke="#bf97a3" stroke-width="1.5" stroke-opacity="0.65"/>
<path d="M41,30.5h21" stroke="#ead6dc" stroke-width="1" stroke-opacity="0.33"/>
<path d="M-13,41.5h26" stroke="#ead6dc" stroke-width="1" stroke-opacity="0.40"/>
<path d="M-3,3.5h5" stroke="#ead6dc" stroke-width="1.5" stroke-opacity="0.68"/>
<path d="M131,47.5h20" stroke="#bf97a3" stroke-width="1.5" stroke-opacity="0.31"/>
<path d="M54,33.5h31" stroke="#ead6dc" stroke-width="1" stroke-opacity="0.54"/>
<path d="M-2,62.5h22" stroke="#ead6dc" stroke-width="1" stroke-opacity="0.49"/>
<path d="M112,14.5h17" stroke="#bf97a3" stroke-width="1" stroke-opacity="0.68"/>
<path d="M89,5.5h15" stroke="#bf97a3" stroke-width="1" stroke-opacity="0.60"/>
<path d="M141,60.5h10" stroke="#bf97a3" stroke-width="1" stroke-opacity="0.47"/>
<path d="M91,77.5h13" stroke="#ead6dc" stroke-width="1.5" stroke-opacity="0.72"/>
<path d="M124,72.5h22" stroke="#ead6dc" stroke-width="1" stroke-opacity="0.70"/>
<path d="M112,79.5h12" stroke="#bf97a3" stroke-width="1" stroke-opacity="0.32"/>
<path d="M7,1.5h24" stroke="#bf97a3" stroke-width="1" stroke-opacity="0.64"/>
<path d="M144,3.5h8" stroke="#ead6dc" stroke-width="1" stroke-opacity="0.63"/>
<path d="M156,67.5h25" stroke="#bf97a3" stroke-width="1" stroke-opacity="0.36"/>
<path d="M-4,67.5h25" stroke="#bf97a3" stroke-width="1" stroke-opacity="0.36"/>
<path d="M59,31.5h29" stroke="#bf97a3" stroke-width="1.5" stroke-opacity="0.37"/>
<path d="M132,22.5h31" stroke="#ead6dc" stroke-width="1" stroke-opacity="0.47"/>
<path d="M-28,22.5h31" stroke="#ead6dc" stroke-width="1" stroke-opacity="0.47"/>
<path d="M-11,63.5h7" stroke="#bf97a3" stroke-width="1" stroke-opacity="0.30"/>
<path d="M39,41.5h8" stroke="#ead6dc" stroke-width="1" stroke-opacity="0.44"/>
<path d="M138,74.5h28" stroke="#ead6dc" stroke-width="1.5" stroke-opacity="0.64"/>
<path d="M-22,74.5h28" stroke="#ead6dc" stroke-width="1.5" stroke-opacity="0.64"/>
<path d="M19,15.5h30" stroke="#bf97a3" stroke-width="1" stroke-opacity="0.40"/>
<path d="M136,6.5h27" stroke="#ead6dc" stroke-width="1.5" stroke-opacity="0.64"/>
<path d="M-24,6.5h27" stroke="#ead6dc" stroke-width="1.5" stroke-opacity="0.64"/>
<path d="M130,66.5h32" stroke="#ead6dc" stroke-width="1" stroke-opacity="0.68"/>
<path d="M-30,66.5h32" stroke="#ead6dc" stroke-width="1" stroke-opacity="0.68"/>
<path d="M107,40.5h14" stroke="#ead6dc" stroke-width="1.5" stroke-opacity="0.60"/>
<path d="M125,35.5h21" stroke="#ead6dc" stroke-width="1" stroke-opacity="0.58"/>
<path d="M24,19.5h23" stroke="#bf97a3" stroke-width="1" stroke-opacity="0.35"/>
<path d="M35,0.5h6" stroke="#ead6dc" stroke-width="1.5" stroke-opacity="0.65"/>
<path d="M9,69.5h6" stroke="#ead6dc" stroke-width="1" stroke-opacity="0.70"/>
<path d="M-7,26.5h25" stroke="#ead6dc" stroke-width="1" stroke-opacity="0.60"/>
<path d="M24,16.5h22" stroke="#bf97a3" stroke-width="1.5" stroke-opacity="0.48"/>
<path d="M-14,14.5h13" stroke="#ead6dc" stroke-width="1" stroke-opacity="0.65"/>
<path d="M76,58.5h23" stroke="#ead6dc" stroke-width="1" stroke-opacity="0.47"/>
<path d="M31,53.5h24" stroke="#ead6dc" stroke-width="1" stroke-opacity="0.45"/>
<path d="M136,24.5h22" stroke="#ead6dc" stroke-width="1" stroke-opacity="0.47"/>
<path d="M61,15.5h19" stroke="#bf97a3" stroke-width="1" stroke-opacity="0.42"/>
<path d="M-1,50.5h18" stroke="#bf97a3" stroke-width="1.5" stroke-opacity="0.37"/>
<path d="M158,24.5h17" stroke="#ead6dc" stroke-width="1" stroke-opacity="0.68"/>
<path d="M-2,24.5h17" stroke="#ead6dc" stroke-width="1" stroke-opacity="0.68"/>
<path d="M95,48.5h19" stroke="#bf97a3" stroke-width="1.5" stroke-opacity="0.34"/>
<path d="M35,19.5h18" stroke="#ead6dc" stroke-width="1.5" stroke-opacity="0.50"/>
<path d="M144,36.5h29" stroke="#bf97a3" stroke-width="1" stroke-opacity="0.52"/>
<path d="M-16,36.5h29" stroke="#bf97a3" stroke-width="1" stroke-opacity="0.52"/>
<path d="M146,22.5h22" stroke="#bf97a3" stroke-width="1" stroke-opacity="0.49"/>
<path d="M-14,22.5h22" stroke="#bf97a3" stroke-width="1" stroke-opacity="0.49"/>
<path d="M133,35.5h27" stroke="#ead6dc" stroke-width="1" stroke-opacity="0.67"/>
<path d="M115,54.5h17" stroke="#ead6dc" stroke-width="1" stroke-opacity="0.39"/>
<path d="M95,11.5h32" stroke="#ead6dc" stroke-width="1" stroke-opacity="0.39"/>
<path d="M99,73.5h23" stroke="#ead6dc" stroke-width="1.5" stroke-opacity="0.49"/>
<path d="M21,13.5h12" stroke="#ead6dc" stroke-width="1.5" stroke-opacity="0.64"/>
<path d="M83,44.5h21" stroke="#ead6dc" stroke-width="1.5" stroke-opacity="0.58"/>
<path d="M25,42.5h12" stroke="#ead6dc" stroke-width="1.5" stroke-opacity="0.50"/>
<path d="M72,72.5h22" stroke="#bf97a3" stroke-width="1" stroke-opacity="0.33"/>
<path d="M140,10.5h10" stroke="#bf97a3" stroke-width="1.5" stroke-opacity="0.50"/>
<path d="M-6,68.5h24" stroke="#ead6dc" stroke-width="1" stroke-opacity="0.39"/>
<path d="M8,48.5h18" stroke="#bf97a3" stroke-width="1" stroke-opacity="0.46"/>
<path d="M38,70.5h15" stroke="#ead6dc" stroke-width="1" stroke-opacity="0.34"/>
<path d="M135,4.5h15" stroke="#bf97a3" stroke-width="1" stroke-opacity="0.47"/>
<path d="M13,34.5h8" stroke="#bf97a3" stroke-width="1" stroke-opacity="0.50"/>
<path d="M87,17.5h22" stroke="#ead6dc" stroke-width="1" stroke-opacity="0.55"/>
<path d="M155,38.5h22" stroke="#ead6dc" stroke-width="1" stroke-opacity="0.59"/>
<path d="M-5,38.5h22" stroke="#ead6dc" stroke-width="1" stroke-opacity="0.59"/>
<path d="M40,71.5h10" stroke="#bf97a3" stroke-width="1.5" stroke-opacity="0.31"/>
<path d="M121,55.5h24" stroke="#ead6dc" stroke-width="1" stroke-opacity="0.40"/>
<path d="M18,38.5h21" stroke="#bf97a3" stroke-width="1" stroke-opacity="0.51"/>
<path d="M-5,48.5h28" stroke="#bf97a3" stroke-width="1.5" stroke-opacity="0.64"/>
<path d="M70,40.5h16" stroke="#bf97a3" stroke-width="1" stroke-opacity="0.57"/>
<path d="M157,62.5h17" stroke="#bf97a3" stroke-width="1" stroke-opacity="0.45"/>
<path d="M-3,62.5h17" stroke="#bf97a3" stroke-width="1" stroke-opacity="0.45"/>
<path d="M33,33.5h23" stroke="#ead6dc" stroke-width="1" stroke-opacity="0.64"/>
<path d="M76,36.5h20" stroke="#bf97a3" stroke-width="1" stroke-opacity="0.39"/>
<path d="M42,50.5h6" stroke="#ead6dc" stroke-width="1" stroke-opacity="0.63"/>
<path d="M55,22.5h11" stroke="#ead6dc" stroke-width="1" stroke-opacity="0.57"/>
<path d="M25,38.5h18" stroke="#ead6dc" stroke-width="1" stroke-opacity="0.70"/>
<path d="M42,71.5h22" stroke="#bf97a3" stroke-width="1" stroke-opacity="0.63"/>
<path d="M21,42.5h26" stroke="#bf97a3" stroke-width="1" stroke-opacity="0.42"/>
</pattern>
<pattern id="mix1tex" patternUnits="userSpaceOnUse" width="160" height="80">
<rect width="160" height="80" fill="#e2939a"/>
<path d="M111,3.5h22" stroke="#f4d2d6" stroke-width="1" stroke-opacity="0.53"/>
<path d="M18,17.5h6" stroke="#f4d2d6" stroke-width="1" stroke-opacity="0.35"/>
<path d="M25,54.5h20" stroke="#f4d2d6" stroke-width="1" stroke-opacity="0.44"/>
<path d="M56,43.5h21" stroke="#f4d2d6" stroke-width="1.5" stroke-opacity="0.38"/>
<path d="M144,42.5h10" stroke="#f4d2d6" stroke-width="1" stroke-opacity="0.61"/>
<path d="M140,31.5h4" stroke="#cd6e78" stroke-width="1.5" stroke-opacity="0.41"/>
<path d="M135,44.5h14" stroke="#f4d2d6" stroke-width="1" stroke-opacity="0.60"/>
<path d="M73,54.5h17" stroke="#f4d2d6" stroke-width="1" stroke-opacity="0.45"/>
<path d="M43,35.5h17" stroke="#f4d2d6" stroke-width="1" stroke-opacity="0.70"/>
<path d="M92,66.5h28" stroke="#f4d2d6" stroke-width="1" stroke-opacity="0.40"/>
<path d="M-6,60.5h17" stroke="#cd6e78" stroke-width="1" stroke-opacity="0.39"/>
<path d="M154,2.5h29" stroke="#f4d2d6" stroke-width="1" stroke-opacity="0.55"/>
<path d="M-6,2.5h29" stroke="#f4d2d6" stroke-width="1" stroke-opacity="0.55"/>
<path d="M119,58.5h25" stroke="#cd6e78" stroke-width="1" stroke-opacity="0.34"/>
<path d="M14,13.5h19" stroke="#cd6e78" stroke-width="1" stroke-opacity="0.46"/>
<path d="M-1,52.5h19" stroke="#f4d2d6" stroke-width="1.5" stroke-opacity="0.58"/>
<path d="M29,60.5h13" stroke="#cd6e78" stroke-width="1" stroke-opacity="0.67"/>
<path d="M12,62.5h9" stroke="#f4d2d6" stroke-width="1" stroke-opacity="0.56"/>
<path d="M152,8.5h5" stroke="#cd6e78" stroke-width="1" stroke-opacity="0.63"/>
<path d="M75,2.5h17" stroke="#cd6e78" stroke-width="1" stroke-opacity="0.60"/>
<path d="M145,35.5h15" stroke="#cd6e78" stroke-width="1" stroke-opacity="0.54"/>
<path d="M63,17.5h9" stroke="#cd6e78" stroke-width="1" stroke-opacity="0.41"/>
<path d="M29,74.5h17" stroke="#f4d2d6" stroke-width="1.5" stroke-opacity="0.70"/>
<path d="M106,53.5h18" stroke="#cd6e78" stroke-width="1" stroke-opacity="0.52"/>
<path d="M105,51.5h17" stroke="#f4d2d6" stroke-width="1.5" stroke-opacity="0.37"/>
<path d="M71,16.5h30" stroke="#f4d2d6" stroke-width="1" stroke-opacity="0.34"/>
<path d="M147,58.5h14" stroke="#f4d2d6" stroke-width="1" stroke-opacity="0.68"/>
<path d="M-13,58.5h14" stroke="#f4d2d6" stroke-width="1" stroke-opacity="0.68"/>
<path d="M19,66.5h3" stroke="#f4d2d6" stroke-width="1" stroke-opacity="0.44"/>
<path d="M55,6.5h4" stroke="#cd6e78" stroke-width="1" stroke-opacity="0.52"/>
<path d="M34,52.5h24" stroke="#f4d2d6" stroke-width="1.5" stroke-opacity="0.55"/>
<path d="M10,60.5h13" stroke="#cd6e78" stroke-width="1" stroke-opacity="0.66"/>
<path d="M59,26.5h6" stroke="#cd6e78" stroke-width="1" stroke-opacity="0.45"/>
<path d="M98,6.5h20" stroke="#f4d2d6" stroke-width="1" stroke-opacity="0.64"/>
<path d="M39,16.5h21" stroke="#f4d2d6" stroke-width="1" stroke-opacity="0.41"/>
<path d="M50,66.5h15" stroke="#f4d2d6" stroke-width="1" stroke-opacity="0.74"/>
<path d="M-17,56.5h24" stroke="#f4d2d6" stroke-width="1" stroke-opacity="0.50"/>
<path d="M-13,46.5h19" stroke="#f4d2d6" stroke-width="1" stroke-opacity="0.32"/>
<path d="M101,59.5h29" stroke="#cd6e78" stroke-width="1" stroke-opacity="0.41"/>
<path d="M26,57.5h23" stroke="#cd6e78" stroke-width="1.5" stroke-opacity="0.51"/>
<path d="M22,14.5h26" stroke="#cd6e78" stroke-width="1" stroke-opacity="0.69"/>
<path d="M87,44.5h32" stroke="#cd6e78" stroke-width="1" stroke-opacity="0.51"/>
<path d="M56,7.5h9" stroke="#cd6e78" stroke-width="1.5" stroke-opacity="0.50"/>
<path d="M3,78.5h23" stroke="#f4d2d6" stroke-width="1" stroke-opacity="0.48"/>
<path d="M21,75.5h13" stroke="#cd6e78" stroke-width="1.5" stroke-opacity="0.45"/>
<path d="M126,78.5h8" stroke="#cd6e78" stroke-width="1" stroke-opacity="0.45"/>
<path d="M137,41.5h4" stroke="#f4d2d6" stroke-width="1" stroke-opacity="0.72"/>
<path d="M42,64.5h4" stroke="#f4d2d6" stroke-width="1" stroke-opacity="0.55"/>
<path d="M76,39.5h7" stroke="#cd6e78" stroke-width="1" stroke-opacity="0.42"/>
<path d="M121,57.5h8" stroke="#f4d2d6" stroke-width="1" stroke-opacity="0.50"/>
<path d="M15,75.5h7" stroke="#f4d2d6" stroke-width="1.5" stroke-opacity="0.45"/>
<path d="M53,39.5h17" stroke="#f4d2d6" stroke-width="1" stroke-opacity="0.65"/>
<path d="M129,54.5h22" stroke="#f4d2d6" stroke-width="1" stroke-opacity="0.71"/>
<path d="M49,26.5h11" stroke="#f4d2d6" stroke-width="1" stroke-opacity="0.70"/>
<path d="M72,58.5h20" stroke="#f4d2d6" stroke-width="1" stroke-opacity="0.59"/>
<path d="M101,0.5h25" stroke="#f4d2d6" stroke-width="1" stroke-opacity="0.73"/>
<path d="M-0,27.5h12" stroke="#f4d2d6" stroke-width="1" stroke-opacity="0.57"/>
<path d="M122,35.5h23" stroke="#cd6e78" stroke-width="1" stroke-opacity="0.32"/>
<path d="M-12,73.5h8" stroke="#f4d2d6" stroke-width="1.5" stroke-opacity="0.54"/>
<path d="M24,24.5h31" stroke="#cd6e78" stroke-width="1" stroke-opacity="0.45"/>
<path d="M26,39.5h28" stroke="#f4d2d6" stroke-width="1" stroke-opacity="0.59"/>
<path d="M33,70.5h6" stroke="#f4d2d6" stroke-width="1" stroke-opacity="0.66"/>
<path d="M29,36.5h21" stroke="#f4d2d6" stroke-width="1" stroke-opacity="0.65"/>
<path d="M49,78.5h20" stroke="#cd6e78" stroke-width="1" stroke-opacity="0.45"/>
<path d="M93,31.5h28" stroke="#cd6e78" stroke-width="1" stroke-opacity="0.53"/>
<path d="M84,22.5h29" stroke="#cd6e78" stroke-width="1" stroke-opacity="0.31"/>
<path d="M73,65.5h7" stroke="#cd6e78" stroke-width="1.5" stroke-opacity="0.49"/>
<path d="M-12,21.5h27" stroke="#f4d2d6" stroke-width="1" stroke-opacity="0.44"/>
<path d="M88,3.5h26" stroke="#f4d2d6" stroke-width="1" stroke-opacity="0.43"/>
<path d="M104,64.5h26" stroke="#f4d2d6" stroke-width="1" stroke-opacity="0.37"/>
<path d="M12,40.5h16" stroke="#f4d2d6" stroke-width="1" stroke-opacity="0.38"/>
<path d="M4,49.5h12" stroke="#f4d2d6" stroke-width="1" stroke-opacity="0.47"/>
<path d="M39,67.5h30" stroke="#cd6e78" stroke-width="1" stroke-opacity="0.71"/>
<path d="M26,72.5h6" stroke="#cd6e78" stroke-width="1.5" stroke-opacity="0.44"/>
<path d="M77,2.5h6" stroke="#cd6e78" stroke-width="1" stroke-opacity="0.66"/>
<path d="M-10,40.5h25" stroke="#f4d2d6" stroke-width="1" stroke-opacity="0.36"/>
<path d="M97,43.5h30" stroke="#f4d2d6" stroke-width="1" stroke-opacity="0.59"/>
<path d="M35,43.5h24" stroke="#f4d2d6" stroke-width="1" stroke-opacity="0.44"/>
<path d="M108,45.5h18" stroke="#cd6e78" stroke-width="1" stroke-opacity="0.46"/>
<path d="M29,57.5h29" stroke="#cd6e78" stroke-width="1" stroke-opacity="0.44"/>
<path d="M98,24.5h15" stroke="#f4d2d6" stroke-width="1" stroke-opacity="0.72"/>
<path d="M145,70.5h8" stroke="#cd6e78" stroke-width="1" stroke-opacity="0.54"/>
<path d="M-1,31.5h7" stroke="#cd6e78" stroke-width="1" stroke-opacity="0.59"/>
<path d="M-11,30.5h3" stroke="#f4d2d6" stroke-width="1" stroke-opacity="0.65"/>
<path d="M76,48.5h25" stroke="#f4d2d6" stroke-width="1.5" stroke-opacity="0.54"/>
<path d="M126,61.5h3" stroke="#cd6e78" stroke-width="1" stroke-opacity="0.40"/>
<path d="M81,38.5h26" stroke="#cd6e78" stroke-width="1.5" stroke-opacity="0.32"/>
<path d="M103,16.5h16" stroke="#cd6e78" stroke-width="1" stroke-opacity="0.66"/>
<path d="M108,0.5h31" stroke="#cd6e78" stroke-width="1" stroke-opacity="0.55"/>
<path d="M41,1.5h24" stroke="#cd6e78" stroke-width="1" stroke-opacity="0.47"/>
<path d="M-12,63.5h7" stroke="#f4d2d6" stroke-width="1" stroke-opacity="0.56"/>
<path d="M27,29.5h16" stroke="#f4d2d6" stroke-width="1.5" stroke-opacity="0.71"/>
<path d="M36,74.5h20" stroke="#f4d2d6" stroke-width="1" stroke-opacity="0.74"/>
<path d="M-6,55.5h7" stroke="#f4d2d6" stroke-width="1.5" stroke-opacity="0.36"/>
<path d="M153,26.5h9" stroke="#f4d2d6" stroke-width="1" stroke-opacity="0.31"/>
<path d="M-7,26.5h9" stroke="#f4d2d6" stroke-width="1" stroke-opacity="0.31"/>
<path d="M-10,36.5h18" stroke="#f4d2d6" stroke-width="1.5" stroke-opacity="0.60"/>
<path d="M111,76.5h25" stroke="#cd6e78" stroke-width="1" stroke-opacity="0.58"/>
<path d="M62,60.5h28" stroke="#f4d2d6" stroke-width="1" stroke-opacity="0.34"/>
<path d="M95,23.5h18" stroke="#f4d2d6" stroke-width="1.5" stroke-opacity="0.63"/>
<path d="M22,22.5h14" stroke="#cd6e78" stroke-width="1" stroke-opacity="0.57"/>
<path d="M85,0.5h30" stroke="#f4d2d6" stroke-width="1" stroke-opacity="0.64"/>
<path d="M144,42.5h13" stroke="#f4d2d6" stroke-width="1" stroke-opacity="0.38"/>
<path d="M133,75.5h28" stroke="#f4d2d6" stroke-width="1" stroke-opacity="0.74"/>
<path d="M-27,75.5h28" stroke="#f4d2d6" stroke-width="1" stroke-opacity="0.74"/>
<path d="M149,28.5h6" stroke="#f4d2d6" stroke-width="1" stroke-opacity="0.75"/>
<path d="M26,42.5h4" stroke="#cd6e78" stroke-width="1" stroke-opacity="0.42"/>
<path d="M84,9.5h30" stroke="#cd6e78" stroke-width="1" stroke-opacity="0.69"/>
<path d="M42,2.5h4" stroke="#f4d2d6" stroke-width="1" stroke-opacity="0.31"/>
<path d="M-9,74.5h19" stroke="#f4d2d6" stroke-width="1" stroke-opacity="0.51"/>
<path d="M76,9.5h10" stroke="#f4d2d6" stroke-width="1.5" stroke-opacity="0.73"/>
<path d="M123,57.5h31" stroke="#cd6e78" stroke-width="1" stroke-opacity="0.54"/>
<path d="M41,66.5h27" stroke="#f4d2d6" stroke-width="1" stroke-opacity="0.65"/>
<path d="M91,52.5h20" stroke="#cd6e78" stroke-width="1" stroke-opacity="0.34"/>
<path d="M77,69.5h20" stroke="#f4d2d6" stroke-width="1.5" stroke-opacity="0.71"/>
<path d="M13,43.5h15" stroke="#cd6e78" stroke-width="1" stroke-opacity="0.49"/>
<path d="M128,11.5h19" stroke="#f4d2d6" stroke-width="1" stroke-opacity="0.50"/>
<path d="M157,0.5h4" stroke="#cd6e78" stroke-width="1" stroke-opacity="0.44"/>
<path d="M-3,0.5h4" stroke="#cd6e78" stroke-width="1" stroke-opacity="0.44"/>
<path d="M27,55.5h10" stroke="#f4d2d6" stroke-width="1" stroke-opacity="0.50"/>
<path d="M-1,29.5h9" stroke="#f4d2d6" stroke-width="1" stroke-opacity="0.74"/>
<path d="M37,55.5h17" stroke="#f4d2d6" stroke-width="1" stroke-opacity="0.48"/>
<path d="M48,41.5h16" stroke="#f4d2d6" stroke-width="1" stroke-opacity="0.61"/>
<path d="M81,57.5h17" stroke="#f4d2d6" stroke-width="1" stroke-opacity="0.41"/>
<path d="M-5,16.5h23" stroke="#f4d2d6" stroke-width="1.5" stroke-opacity="0.74"/>
<path d="M90,17.5h15" stroke="#f4d2d6" stroke-width="1" stroke-opacity="0.51"/>
<path d="M159,76.5h19" stroke="#f4d2d6" stroke-width="1" stroke-opacity="0.40"/>
<path d="M-1,76.5h19" stroke="#f4d2d6" stroke-width="1" stroke-opacity="0.40"/>
<path d="M60,31.5h27" stroke="#cd6e78" stroke-width="1.5" stroke-opacity="0.53"/>
<path d="M77,55.5h26" stroke="#f4d2d6" stroke-width="1" stroke-opacity="0.40"/>
<path d="M-7,8.5h6" stroke="#f4d2d6" stroke-width="1.5" stroke-opacity="0.51"/>
<path d="M53,0.5h20" stroke="#f4d2d6" stroke-width="1" stroke-opacity="0.38"/>
<path d="M116,25.5h13" stroke="#f4d2d6" stroke-width="1" stroke-opacity="0.39"/>
<path d="M148,69.5h9" stroke="#cd6e78" stroke-width="1" stroke-opacity="0.72"/>
<path d="M-10,64.5h22" stroke="#f4d2d6" stroke-width="1" stroke-opacity="0.62"/>
<path d="M120,3.5h14" stroke="#f4d2d6" stroke-width="1.5" stroke-opacity="0.49"/>
<path d="M158,45.5h30" stroke="#cd6e78" stroke-width="1.5" stroke-opacity="0.63"/>
<path d="M-2,45.5h30" stroke="#cd6e78" stroke-width="1.5" stroke-opacity="0.63"/>
<path d="M86,18.5h8" stroke="#cd6e78" stroke-width="1.5" stroke-opacity="0.62"/>
<path d="M83,40.5h25" stroke="#cd6e78" stroke-width="1" stroke-opacity="0.51"/>
<path d="M140,43.5h4" stroke="#cd6e78" stroke-width="1.5" stroke-opacity="0.33"/>
<path d="M74,0.5h28" stroke="#cd6e78" stroke-width="1" stroke-opacity="0.52"/>
<path d="M28,15.5h14" stroke="#cd6e78" stroke-width="1" stroke-opacity="0.54"/>
<path d="M134,50.5h6" stroke="#f4d2d6" stroke-width="1.5" stroke-opacity="0.30"/>
<path d="M85,72.5h32" stroke="#cd6e78" stroke-width="1" stroke-opacity="0.72"/>
<path d="M12,10.5h10" stroke="#f4d2d6" stroke-width="1.5" stroke-opacity="0.75"/>
<path d="M42,7.5h22" stroke="#f4d2d6" stroke-width="1" stroke-opacity="0.67"/>
<path d="M74,38.5h25" stroke="#f4d2d6" stroke-width="1.5" stroke-opacity="0.49"/>
<path d="M36,29.5h28" stroke="#cd6e78" stroke-width="1.5" stroke-opacity="0.56"/>
<path d="M49,72.5h6" stroke="#f4d2d6" stroke-width="1.5" stroke-opacity="0.54"/>
<path d="M136,6.5h6" stroke="#cd6e78" stroke-width="1" stroke-opacity="0.31"/>
<path d="M129,16.5h21" stroke="#f4d2d6" stroke-width="1.5" stroke-opacity="0.55"/>
<path d="M28,30.5h7" stroke="#cd6e78" stroke-width="1" stroke-opacity="0.58"/>
<path d="M28,57.5h18" stroke="#f4d2d6" stroke-width="1" stroke-opacity="0.44"/>
<path d="M34,61.5h29" stroke="#cd6e78" stroke-width="1" stroke-opacity="0.56"/>
<path d="M112,0.5h19" stroke="#cd6e78" stroke-width="1" stroke-opacity="0.33"/>
<path d="M132,16.5h8" stroke="#f4d2d6" stroke-width="1" stroke-opacity="0.54"/>
<path d="M127,48.5h17" stroke="#cd6e78" stroke-width="1" stroke-opacity="0.61"/>
<path d="M55,17.5h13" stroke="#f4d2d6" stroke-width="1" stroke-opacity="0.31"/>
<path d="M69,76.5h3" stroke="#f4d2d6" stroke-width="1.5" stroke-opacity="0.71"/>
<path d="M130,26.5h17" stroke="#f4d2d6" stroke-width="1.5" stroke-opacity="0.72"/>
<path d="M158,71.5h3" stroke="#f4d2d6" stroke-width="1" stroke-opacity="0.54"/>
<path d="M-2,71.5h3" stroke="#f4d2d6" stroke-width="1" stroke-opacity="0.54"/>
<path d="M92,77.5h14" stroke="#f4d2d6" stroke-width="1" stroke-opacity="0.31"/>
<path d="M140,9.5h6" stroke="#f4d2d6" stroke-width="1.5" stroke-opacity="0.35"/>
<path d="M148,35.5h11" stroke="#cd6e78" stroke-width="1" stroke-opacity="0.60"/>
<path d="M49,32.5h6" stroke="#cd6e78" stroke-width="1" stroke-opacity="0.38"/>
<path d="M7,35.5h22" stroke="#f4d2d6" stroke-width="1" stroke-opacity="0.65"/>
<path d="M76,63.5h8" stroke="#f4d2d6" stroke-width="1" stroke-opacity="0.37"/>
<path d="M43,60.5h29" stroke="#cd6e78" stroke-width="1" stroke-opacity="0.34"/>
<path d="M86,8.5h18" stroke="#f4d2d6" stroke-width="1" stroke-opacity="0.34"/>
<path d="M119,13.5h10" stroke="#cd6e78" stroke-width="1" stroke-opacity="0.54"/>
<path d="M150,47.5h14" stroke="#f4d2d6" stroke-width="1" stroke-opacity="0.54"/>
<path d="M-10,47.5h14" stroke="#f4d2d6" stroke-width="1" stroke-opacity="0.54"/>
<path d="M144,68.5h26" stroke="#cd6e78" stroke-width="1" stroke-opacity="0.32"/>
<path d="M-16,68.5h26" stroke="#cd6e78" stroke-width="1" stroke-opacity="0.32"/>
<path d="M19,26.5h19" stroke="#f4d2d6" stroke-width="1.5" stroke-opacity="0.40"/>
<path d="M112,28.5h5" stroke="#cd6e78" stroke-width="1" stroke-opacity="0.49"/>
<path d="M158,38.5h32" stroke="#cd6e78" stroke-width="1.5" stroke-opacity="0.42"/>
<path d="M-2,38.5h32" stroke="#cd6e78" stroke-width="1.5" stroke-opacity="0.42"/>
<path d="M60,5.5h13" stroke="#f4d2d6" stroke-width="1" stroke-opacity="0.51"/>
<path d="M-1,38.5h17" stroke="#f4d2d6" stroke-width="1.5" stroke-opacity="0.38"/>
<path d="M66,44.5h11" stroke="#f4d2d6" stroke-width="1.5" stroke-opacity="0.58"/>
<path d="M93,2.5h5" stroke="#f4d2d6" stroke-width="1" stroke-opacity="0.37"/>
<path d="M114,41.5h17" stroke="#cd6e78" stroke-width="1" stroke-opacity="0.30"/>
<path d="M143,26.5h10" stroke="#f4d2d6" stroke-width="1.5" stroke-opacity="0.36"/>
<path d="M84,74.5h31" stroke="#cd6e78" stroke-width="1" stroke-opacity="0.57"/>
<path d="M104,42.5h24" stroke="#f4d2d6" stroke-width="1" stroke-opacity="0.75"/>
<path d="M47,39.5h22" stroke="#f4d2d6" stroke-width="1" stroke-opacity="0.71"/>
<path d="M30,25.5h29" stroke="#f4d2d6" stroke-width="1.5" stroke-opacity="0.42"/>
<path d="M1,70.5h9" stroke="#cd6e78" stroke-width="1.5" stroke-opacity="0.33"/>
<path d="M121,64.5h24" stroke="#cd6e78" stroke-width="1" stroke-opacity="0.35"/>
<path d="M69,45.5h10" stroke="#f4d2d6" stroke-width="1" stroke-opacity="0.69"/>
<path d="M133,32.5h29" stroke="#f4d2d6" stroke-width="1" stroke-opacity="0.67"/>
<path d="M-27,32.5h29" stroke="#f4d2d6" stroke-width="1" stroke-opacity="0.67"/>
<path d="M70,73.5h20" stroke="#f4d2d6" stroke-width="1" stroke-opacity="0.42"/>
<path d="M52,13.5h24" stroke="#cd6e78" stroke-width="1" stroke-opacity="0.41"/>
<path d="M152,13.5h20" stroke="#f4d2d6" stroke-width="1" stroke-opacity="0.69"/>
<path d="M-8,13.5h20" stroke="#f4d2d6" stroke-width="1" stroke-opacity="0.69"/>
<path d="M96,30.5h21" stroke="#cd6e78" stroke-width="1" stroke-opacity="0.73"/>
<path d="M-18,60.5h9" stroke="#cd6e78" stroke-width="1" stroke-opacity="0.46"/>
<path d="M146,6.5h32" stroke="#f4d2d6" stroke-width="1.5" stroke-opacity="0.47"/>
<path d="M-14,6.5h32" stroke="#f4d2d6" stroke-width="1.5" stroke-opacity="0.47"/>
<path d="M26,19.5h25" stroke="#cd6e78" stroke-width="1" stroke-opacity="0.36"/>
<path d="M10,57.5h12" stroke="#f4d2d6" stroke-width="1" stroke-opacity="0.47"/>
<path d="M8,23.5h31" stroke="#f4d2d6" stroke-width="1.5" stroke-opacity="0.65"/>
<path d="M-8,12.5h5" stroke="#cd6e78" stroke-width="1" stroke-opacity="0.37"/>
<path d="M22,29.5h12" stroke="#cd6e78" stroke-width="1" stroke-opacity="0.65"/>
<path d="M109,12.5h4" stroke="#f4d2d6" stroke-width="1" stroke-opacity="0.54"/>
<path d="M84,60.5h16" stroke="#f4d2d6" stroke-width="1" stroke-opacity="0.67"/>
<path d="M52,15.5h13" stroke="#f4d2d6" stroke-width="1" stroke-opacity="0.57"/>
<path d="M136,42.5h7" stroke="#cd6e78" stroke-width="1.5" stroke-opacity="0.64"/>
<path d="M88,31.5h6" stroke="#f4d2d6" stroke-width="1" stroke-opacity="0.36"/>
<path d="M118,79.5h23" stroke="#cd6e78" stroke-width="1" stroke-opacity="0.33"/>
<path d="M83,33.5h9" stroke="#cd6e78" stroke-width="1" stroke-opacity="0.34"/>
<path d="M81,30.5h21" stroke="#f4d2d6" stroke-width="1.5" stroke-opacity="0.57"/>
<path d="M73,64.5h6" stroke="#f4d2d6" stroke-width="1" stroke-opacity="0.59"/>
<path d="M32,13.5h24" stroke="#f4d2d6" stroke-width="1.5" stroke-opacity="0.48"/>
<path d="M85,4.5h10" stroke="#cd6e78" stroke-width="1" stroke-opacity="0.68"/>
<path d="M63,55.5h14" stroke="#cd6e78" stroke-width="1" stroke-opacity="0.49"/>
<path d="M131,74.5h20" stroke="#f4d2d6" stroke-width="1" stroke-opacity="0.37"/>
<path d="M76,40.5h17" stroke="#cd6e78" stroke-width="1" stroke-opacity="0.71"/>
<path d="M1,36.5h7" stroke="#f4d2d6" stroke-width="1.5" stroke-opacity="0.69"/>
<path d="M23,63.5h13" stroke="#f4d2d6" stroke-width="1" stroke-opacity="0.44"/>
<path d="M36,31.5h20" stroke="#cd6e78" stroke-width="1" stroke-opacity="0.31"/>
<path d="M91,43.5h11" stroke="#f4d2d6" stroke-width="1" stroke-opacity="0.47"/>
<path d="M103,11.5h20" stroke="#f4d2d6" stroke-width="1" stroke-opacity="0.40"/>
<path d="M34,4.5h22" stroke="#f4d2d6" stroke-width="1.5" stroke-opacity="0.52"/>
<path d="M-17,60.5h13" stroke="#f4d2d6" stroke-width="1.5" stroke-opacity="0.32"/>
<path d="M-20,50.5h13" stroke="#f4d2d6" stroke-width="1.5" stroke-opacity="0.58"/>
<path d="M147,45.5h25" stroke="#f4d2d6" stroke-width="1.5" stroke-opacity="0.31"/>
<path d="M-13,45.5h25" stroke="#f4d2d6" stroke-width="1.5" stroke-opacity="0.31"/>
<path d="M-2,76.5h21" stroke="#f4d2d6" stroke-width="1" stroke-opacity="0.47"/>
<path d="M6,77.5h13" stroke="#cd6e78" stroke-width="1" stroke-opacity="0.34"/>
<path d="M107,24.5h30" stroke="#cd6e78" stroke-width="1" stroke-opacity="0.59"/>
<path d="M63,34.5h26" stroke="#f4d2d6" stroke-width="1" stroke-opacity="0.36"/>
<path d="M1,0.5h30" stroke="#cd6e78" stroke-width="1.5" stroke-opacity="0.65"/>
<path d="M89,13.5h13" stroke="#cd6e78" stroke-width="1.5" stroke-opacity="0.71"/>
<path d="M141,5.5h28" stroke="#f4d2d6" stroke-width="1" stroke-opacity="0.36"/>
<path d="M-19,5.5h28" stroke="#f4d2d6" stroke-width="1" stroke-opacity="0.36"/>
<path d="M122,9.5h20" stroke="#f4d2d6" stroke-width="1" stroke-opacity="0.46"/>
<path d="M107,41.5h8" stroke="#cd6e78" stroke-width="1" stroke-opacity="0.54"/>
<path d="M77,63.5h10" stroke="#f4d2d6" stroke-width="1" stroke-opacity="0.40"/>
<path d="M35,53.5h19" stroke="#f4d2d6" stroke-width="1" stroke-opacity="0.43"/>
<path d="M-8,48.5h11" stroke="#cd6e78" stroke-width="1" stroke-opacity="0.42"/>
<path d="M-5,13.5h17" stroke="#cd6e78" stroke-width="1" stroke-opacity="0.65"/>
<path d="M57,79.5h26" stroke="#f4d2d6" stroke-width="1" stroke-opacity="0.56"/>
<path d="M3,60.5h12" stroke="#cd6e78" stroke-width="1.5" stroke-opacity="0.56"/>
<path d="M3,63.5h30" stroke="#cd6e78" stroke-width="1.5" stroke-opacity="0.60"/>
<path d="M26,5.5h18" stroke="#f4d2d6" stroke-width="1.5" stroke-opacity="0.47"/>
<path d="M31,30.5h26" stroke="#cd6e78" stroke-width="1" stroke-opacity="0.57"/>
<path d="M130,37.5h19" stroke="#cd6e78" stroke-width="1" stroke-opacity="0.68"/>
<path d="M54,1.5h13" stroke="#f4d2d6" stroke-width="1" stroke-opacity="0.69"/>
<path d="M58,62.5h18" stroke="#f4d2d6" stroke-width="1" stroke-opacity="0.32"/>
<path d="M76,18.5h17" stroke="#f4d2d6" stroke-width="1" stroke-opacity="0.40"/>
<path d="M-16,43.5h21" stroke="#cd6e78" stroke-width="1" stroke-opacity="0.45"/>
<path d="M-2,13.5h11" stroke="#f4d2d6" stroke-width="1.5" stroke-opacity="0.35"/>
<path d="M45,31.5h11" stroke="#cd6e78" stroke-width="1" stroke-opacity="0.32"/>
<path d="M103,8.5h23" stroke="#f4d2d6" stroke-width="1" stroke-opacity="0.74"/>
<path d="M47,77.5h26" stroke="#f4d2d6" stroke-width="1" stroke-opacity="0.55"/>
<path d="M122,1.5h19" stroke="#cd6e78" stroke-width="1.5" stroke-opacity="0.56"/>
<path d="M14,9.5h24" stroke="#f4d2d6" stroke-width="1" stroke-opacity="0.75"/>
<path d="M84,24.5h9" stroke="#f4d2d6" stroke-width="1" stroke-opacity="0.53"/>
<path d="M117,16.5h31" stroke="#cd6e78" stroke-width="1" stroke-opacity="0.66"/>
<path d="M79,24.5h27" stroke="#cd6e78" stroke-width="1" stroke-opacity="0.58"/>
<path d="M-8,43.5h17" stroke="#cd6e78" stroke-width="1.5" stroke-opacity="0.39"/>
<path d="M-9,68.5h5" stroke="#f4d2d6" stroke-width="1" stroke-opacity="0.33"/>
<path d="M159,45.5h14" stroke="#f4d2d6" stroke-width="1.5" stroke-opacity="0.39"/>
<path d="M-1,45.5h14" stroke="#f4d2d6" stroke-width="1.5" stroke-opacity="0.39"/>
<path d="M63,70.5h31" stroke="#f4d2d6" stroke-width="1.5" stroke-opacity="0.54"/>
<path d="M17,18.5h18" stroke="#f4d2d6" stroke-width="1" stroke-opacity="0.48"/>
<path d="M53,7.5h29" stroke="#cd6e78" stroke-width="1" stroke-opacity="0.62"/>
<path d="M70,33.5h6" stroke="#f4d2d6" stroke-width="1" stroke-opacity="0.62"/>
<path d="M124,51.5h28" stroke="#f4d2d6" stroke-width="1" stroke-opacity="0.53"/>
<path d="M146,70.5h9" stroke="#f4d2d6" stroke-width="1" stroke-opacity="0.46"/>
<path d="M147,23.5h12" stroke="#f4d2d6" stroke-width="1" stroke-opacity="0.44"/>
<path d="M141,35.5h17" stroke="#cd6e78" stroke-width="1" stroke-opacity="0.45"/>
<path d="M85,58.5h13" stroke="#cd6e78" stroke-width="1.5" stroke-opacity="0.74"/>
<path d="M33,10.5h17" stroke="#f4d2d6" stroke-width="1" stroke-opacity="0.58"/>
<path d="M143,29.5h10" stroke="#f4d2d6" stroke-width="1" stroke-opacity="0.38"/>
<path d="M116,74.5h5" stroke="#f4d2d6" stroke-width="1.5" stroke-opacity="0.52"/>
<path d="M133,11.5h17" stroke="#cd6e78" stroke-width="1" stroke-opacity="0.35"/>
<path d="M52,11.5h5" stroke="#cd6e78" stroke-width="1" stroke-opacity="0.44"/>
<path d="M18,2.5h7" stroke="#cd6e78" stroke-width="1" stroke-opacity="0.53"/>
<path d="M150,58.5h27" stroke="#f4d2d6" stroke-width="1" stroke-opacity="0.36"/>
<path d="M-10,58.5h27" stroke="#f4d2d6" stroke-width="1" stroke-opacity="0.36"/>
<path d="M91,36.5h21" stroke="#f4d2d6" stroke-width="1" stroke-opacity="0.49"/>
<path d="M69,70.5h9" stroke="#f4d2d6" stroke-width="1" stroke-opacity="0.49"/>
<path d="M97,73.5h4" stroke="#f4d2d6" stroke-width="1" stroke-opacity="0.68"/>
<path d="M119,71.5h5" stroke="#f4d2d6" stroke-width="1" stroke-opacity="0.72"/>
<path d="M13,48.5h12" stroke="#cd6e78" stroke-width="1" stroke-opacity="0.40"/>
<path d="M72,4.5h31" stroke="#f4d2d6" stroke-width="1.5" stroke-opacity="0.46"/>
<path d="M149,40.5h14" stroke="#cd6e78" stroke-width="1" stroke-opacity="0.49"/>
<path d="M-11,40.5h14" stroke="#cd6e78" stroke-width="1" stroke-opacity="0.49"/>
<path d="M139,49.5h20" stroke="#f4d2d6" stroke-width="1" stroke-opacity="0.43"/>
<path d="M147,48.5h5" stroke="#cd6e78" stroke-width="1" stroke-opacity="0.54"/>
<path d="M158,20.5h18" stroke="#f4d2d6" stroke-width="1" stroke-opacity="0.67"/>
<path d="M-2,20.5h18" stroke="#f4d2d6" stroke-width="1" stroke-opacity="0.67"/>
<path d="M0,78.5h19" stroke="#f4d2d6" stroke-width="1.5" stroke-opacity="0.38"/>
<path d="M137,62.5h31" stroke="#f4d2d6" stroke-width="1" stroke-opacity="0.73"/>
<path d="M-23,62.5h31" stroke="#f4d2d6" stroke-width="1" stroke-opacity="0.73"/>
<path d="M2,27.5h26" stroke="#cd6e78" stroke-width="1" stroke-opacity="0.51"/>
<path d="M11,58.5h23" stroke="#cd6e78" stroke-width="1" stroke-opacity="0.62"/>
<path d="M103,59.5h15" stroke="#cd6e78" stroke-width="1" stroke-opacity="0.67"/>
<path d="M69,33.5h5" stroke="#f4d2d6" stroke-width="1" stroke-opacity="0.37"/>
<path d="M131,62.5h26" stroke="#f4d2d6" stroke-width="1.5" stroke-opacity="0.48"/>
<path d="M92,69.5h9" stroke="#cd6e78" stroke-width="1" stroke-opacity="0.41"/>
<path d="M132,67.5h6" stroke="#cd6e78" stroke-width="1" stroke-opacity="0.40"/>
<path d="M116,47.5h23" stroke="#f4d2d6" stroke-width="1" stroke-opacity="0.57"/>
<path d="M-0,64.5h15" stroke="#f4d2d6" stroke-width="1" stroke-opacity="0.38"/>
<path d="M147,56.5h25" stroke="#f4d2d6" stroke-width="1" stroke-opacity="0.46"/>
<path d="M-13,56.5h25" stroke="#f4d2d6" stroke-width="1" stroke-opacity="0.46"/>
<path d="M-3,78.5h19" stroke="#cd6e78" stroke-width="1" stroke-opacity="0.69"/>
<path d="M115,46.5h26" stroke="#f4d2d6" stroke-width="1" stroke-opacity="0.69"/>
<path d="M40,26.5h18" stroke="#cd6e78" stroke-width="1" stroke-opacity="0.50"/>
<path d="M51,63.5h15" stroke="#f4d2d6" stroke-width="1.5" stroke-opacity="0.52"/>
<path d="M134,46.5h25" stroke="#cd6e78" stroke-width="1" stroke-opacity="0.40"/>
<path d="M122,36.5h11" stroke="#f4d2d6" stroke-width="1" stroke-opacity="0.72"/>
<path d="M44,26.5h30" stroke="#f4d2d6" stroke-width="1" stroke-opacity="0.36"/>
<path d="M38,65.5h22" stroke="#f4d2d6" stroke-width="1" stroke-opacity="0.75"/>
<path d="M-0,76.5h22" stroke="#f4d2d6" stroke-width="1.5" stroke-opacity="0.57"/>
<path d="M79,39.5h29" stroke="#f4d2d6" stroke-width="1" stroke-opacity="0.65"/>
<path d="M13,52.5h23" stroke="#cd6e78" stroke-width="1.5" stroke-opacity="0.33"/>
<path d="M31,4.5h17" stroke="#cd6e78" stroke-width="1" stroke-opacity="0.55"/>
<path d="M30,67.5h21" stroke="#f4d2d6" stroke-width="1" stroke-opacity="0.51"/>
<path d="M66,21.5h26" stroke="#f4d2d6" stroke-width="1" stroke-opacity="0.63"/>
<path d="M-13,71.5h31" stroke="#f4d2d6" stroke-width="1" stroke-opacity="0.32"/>
<path d="M15,20.5h11" stroke="#cd6e78" stroke-width="1" stroke-opacity="0.40"/>
<path d="M71,10.5h7" stroke="#f4d2d6" stroke-width="1" stroke-opacity="0.35"/>
<path d="M69,21.5h5" stroke="#f4d2d6" stroke-width="1" stroke-opacity="0.60"/>
<path d="M19,21.5h7" stroke="#cd6e78" stroke-width="1" stroke-opacity="0.45"/>
<path d="M-8,41.5h14" stroke="#cd6e78" stroke-width="1" stroke-opacity="0.46"/>
<path d="M71,36.5h21" stroke="#f4d2d6" stroke-width="1.5" stroke-opacity="0.61"/>
<path d="M110,75.5h20" stroke="#f4d2d6" stroke-width="1" stroke-opacity="0.44"/>
<path d="M94,19.5h19" stroke="#cd6e78" stroke-width="1.5" stroke-opacity="0.45"/>
<path d="M66,65.5h25" stroke="#f4d2d6" stroke-width="1" stroke-opacity="0.53"/>
<path d="M106,75.5h17" stroke="#f4d2d6" stroke-width="1" stroke-opacity="0.51"/>
<path d="M112,0.5h11" stroke="#cd6e78" stroke-width="1" stroke-opacity="0.30"/>
<path d="M153,66.5h17" stroke="#cd6e78" stroke-width="1.5" stroke-opacity="0.53"/>
<path d="M-7,66.5h17" stroke="#cd6e78" stroke-width="1.5" stroke-opacity="0.53"/>
<path d="M11,9.5h17" stroke="#f4d2d6" stroke-width="1" stroke-opacity="0.42"/>
<path d="M139,51.5h5" stroke="#cd6e78" stroke-width="1" stroke-opacity="0.41"/>
<path d="M51,59.5h30" stroke="#cd6e78" stroke-width="1" stroke-opacity="0.73"/>
<path d="M10,73.5h18" stroke="#cd6e78" stroke-width="1" stroke-opacity="0.58"/>
<path d="M69,33.5h8" stroke="#f4d2d6" stroke-width="1" stroke-opacity="0.42"/>
<path d="M95,65.5h8" stroke="#f4d2d6" stroke-width="1" stroke-opacity="0.71"/>
<path d="M17,55.5h17" stroke="#f4d2d6" stroke-width="1" stroke-opacity="0.41"/>
<path d="M34,4.5h20" stroke="#f4d2d6" stroke-width="1.5" stroke-opacity="0.36"/>
<path d="M75,47.5h22" stroke="#cd6e78" stroke-width="1" stroke-opacity="0.46"/>
<path d="M-4,14.5h24" stroke="#f4d2d6" stroke-width="1" stroke-opacity="0.34"/>
<path d="M152,71.5h23" stroke="#f4d2d6" stroke-width="1" stroke-opacity="0.62"/>
<path d="M-8,71.5h23" stroke="#f4d2d6" stroke-width="1" stroke-opacity="0.62"/>
<path d="M142,67.5h24" stroke="#f4d2d6" stroke-width="1" stroke-opacity="0.34"/>
<path d="M-18,67.5h24" stroke="#f4d2d6" stroke-width="1" stroke-opacity="0.34"/>
<path d="M21,43.5h28" stroke="#cd6e78" stroke-width="1" stroke-opacity="0.50"/>
<path d="M-3,17.5h30" stroke="#f4d2d6" stroke-width="1" stroke-opacity="0.55"/>
<path d="M100,57.5h11" stroke="#cd6e78" stroke-width="1" stroke-opacity="0.45"/>
<path d="M84,69.5h5" stroke="#f4d2d6" stroke-width="1" stroke-opacity="0.53"/>
<path d="M152,37.5h12" stroke="#f4d2d6" stroke-width="1" stroke-opacity="0.44"/>
<path d="M-8,37.5h12" stroke="#f4d2d6" stroke-width="1" stroke-opacity="0.44"/>
<path d="M104,23.5h30" stroke="#cd6e78" stroke-width="1" stroke-opacity="0.73"/>
<path d="M88,36.5h26" stroke="#cd6e78" stroke-width="1" stroke-opacity="0.60"/>
<path d="M66,13.5h11" stroke="#cd6e78" stroke-width="1.5" stroke-opacity="0.48"/>
<path d="M77,16.5h20" stroke="#cd6e78" stroke-width="1" stroke-opacity="0.43"/>
<path d="M95,23.5h19" stroke="#f4d2d6" stroke-width="1" stroke-opacity="0.41"/>
<path d="M143,2.5h28" stroke="#cd6e78" stroke-width="1" stroke-opacity="0.75"/>
<path d="M-17,2.5h28" stroke="#cd6e78" stroke-width="1" stroke-opacity="0.75"/>
<path d="M-8,63.5h10" stroke="#f4d2d6" stroke-width="1" stroke-opacity="0.31"/>
<path d="M82,60.5h25" stroke="#cd6e78" stroke-width="1" stroke-opacity="0.53"/>
<path d="M2,17.5h6" stroke="#cd6e78" stroke-width="1" stroke-opacity="0.70"/>
<path d="M125,76.5h27" stroke="#cd6e78" stroke-width="1.5" stroke-opacity="0.43"/>
<path d="M65,10.5h7" stroke="#f4d2d6" stroke-width="1" stroke-opacity="0.36"/>
<path d="M-3,74.5h22" stroke="#f4d2d6" stroke-width="1.5" stroke-opacity="0.60"/>
<path d="M52,29.5h31" stroke="#f4d2d6" stroke-width="1" stroke-opacity="0.75"/>
<path d="M40,7.5h21" stroke="#cd6e78" stroke-width="1.5" stroke-opacity="0.39"/>
<path d="M76,70.5h11" stroke="#f4d2d6" stroke-width="1" stroke-opacity="0.40"/>
<path d="M74,50.5h28" stroke="#cd6e78" stroke-width="1" stroke-opacity="0.39"/>
<path d="M143,58.5h31" stroke="#f4d2d6" stroke-width="1" stroke-opacity="0.30"/>
<path d="M-17,58.5h31" stroke="#f4d2d6" stroke-width="1" stroke-opacity="0.30"/>
<path d="M102,5.5h6" stroke="#f4d2d6" stroke-width="1" stroke-opacity="0.44"/>
<path d="M68,27.5h12" stroke="#cd6e78" stroke-width="1" stroke-opacity="0.63"/>
<path d="M106,68.5h30" stroke="#f4d2d6" stroke-width="1.5" stroke-opacity="0.58"/>
<path d="M138,66.5h26" stroke="#f4d2d6" stroke-width="1.5" stroke-opacity="0.36"/>
<path d="M-22,66.5h26" stroke="#f4d2d6" stroke-width="1.5" stroke-opacity="0.36"/>
<path d="M43,56.5h16" stroke="#cd6e78" stroke-width="1" stroke-opacity="0.70"/>
<path d="M142,22.5h7" stroke="#f4d2d6" stroke-width="1" stroke-opacity="0.44"/>
<path d="M69,60.5h24" stroke="#cd6e78" stroke-width="1" stroke-opacity="0.40"/>
<path d="M39,0.5h4" stroke="#cd6e78" stroke-width="1" stroke-opacity="0.64"/>
<path d="M25,33.5h15" stroke="#f4d2d6" stroke-width="1" stroke-opacity="0.70"/>
<path d="M21,70.5h5" stroke="#cd6e78" stroke-width="1" stroke-opacity="0.59"/>
<path d="M87,79.5h5" stroke="#cd6e78" stroke-width="1" stroke-opacity="0.64"/>
<path d="M25,23.5h5" stroke="#cd6e78" stroke-width="1" stroke-opacity="0.63"/>
<path d="M133,24.5h4" stroke="#cd6e78" stroke-width="1" stroke-opacity="0.34"/>
<path d="M9,8.5h7" stroke="#f4d2d6" stroke-width="1" stroke-opacity="0.66"/>
<path d="M78,0.5h26" stroke="#f4d2d6" stroke-width="1" stroke-opacity="0.32"/>
<path d="M110,70.5h18" stroke="#cd6e78" stroke-width="1" stroke-opacity="0.39"/>
<path d="M124,27.5h23" stroke="#f4d2d6" stroke-width="1" stroke-opacity="0.36"/>
<path d="M64,75.5h10" stroke="#cd6e78" stroke-width="1" stroke-opacity="0.62"/>
<path d="M26,25.5h17" stroke="#f4d2d6" stroke-width="1" stroke-opacity="0.50"/>
<path d="M45,72.5h18" stroke="#cd6e78" stroke-width="1.5" stroke-opacity="0.72"/>
<path d="M153,62.5h8" stroke="#f4d2d6" stroke-width="1.5" stroke-opacity="0.39"/>
<path d="M-7,62.5h8" stroke="#f4d2d6" stroke-width="1.5" stroke-opacity="0.39"/>
<path d="M20,3.5h12" stroke="#cd6e78" stroke-width="1.5" stroke-opacity="0.70"/>
<path d="M132,28.5h7" stroke="#f4d2d6" stroke-width="1.5" stroke-opacity="0.64"/>
<path d="M10,57.5h31" stroke="#cd6e78" stroke-width="1" stroke-opacity="0.59"/>
<path d="M-15,14.5h8" stroke="#cd6e78" stroke-width="1" stroke-opacity="0.44"/>
<path d="M83,70.5h25" stroke="#f4d2d6" stroke-width="1" stroke-opacity="0.75"/>
<path d="M148,24.5h11" stroke="#cd6e78" stroke-width="1" stroke-opacity="0.65"/>
<path d="M160,62.5h12" stroke="#f4d2d6" stroke-width="1" stroke-opacity="0.73"/>
<path d="M-0,62.5h12" stroke="#f4d2d6" stroke-width="1" stroke-opacity="0.73"/>
<path d="M-18,7.5h21" stroke="#f4d2d6" stroke-width="1.5" stroke-opacity="0.33"/>
</pattern>
<clipPath id="cb1"><ellipse cx="231.7" cy="836" rx="81.5" ry="192.2"/></clipPath>
<clipPath id="cb2"><ellipse cx="567.6" cy="1090.2" rx="74.7" ry="195.5"/></clipPath></defs>
<text class="serif" x="8" y="678.7" font-size="26" font-weight="bold">(b)</text>
<text class="sans" x="132" y="657.5" font-size="15.4" font-weight="bold">(spin up)</text>
<ellipse cx="231.7" cy="836" rx="81.5" ry="192.2" fill="url(#bluetex)" stroke="#9ad2ea" stroke-width="1"/>
<ellipse cx="113" cy="860.2" rx="70" ry="139.8" fill="url(#redtex)"/>
<ellipse cx="113" cy="860.2" rx="70" ry="139.8" fill="url(#mix1tex)" clip-path="url(#cb1)"/>
<clipPath id="cr1"><ellipse cx="113" cy="860.2" rx="70" ry="139.8"/></clipPath>
<ellipse cx="231.7" cy="836" rx="81.5" ry="192.2" fill="none" stroke="#a88088" stroke-width="0.8" stroke-opacity="0.5" clip-path="url(#cr1)"/>
<ellipse cx="113" cy="860.2" rx="70" ry="139.8" fill="none" stroke="#cf2c3c" stroke-width="1.4"/>
<path d="M70,784 H150" stroke="#d44c50" stroke-width="2.2" stroke-dasharray="9,6.5"/>
<path d="M62.3,793.5 H150" stroke="#cc0a0a" stroke-width="4.2"/>
<path d="M150,793.5 H163" stroke="#d85058" stroke-width="4.2"/>
<path d="M196.8,770.8 H258" stroke="#d0707a" stroke-width="1.8" stroke-dasharray="8.2,4.8"/>
<path d="M182.2,787 H277.4" stroke="#2c48c4" stroke-width="2.3"/>
<path d="M62.3,937 H160.3" stroke="#cc0a0a" stroke-width="4.2"/>
<path d="M182.2,965 H277.4" stroke="#3450c4" stroke-width="2.3"/>
<path d="M84.6,929.6 L84.6,800.5" stroke="#fbe912" stroke-width="2.6" fill="none"/><path d="M90.2,809.5 L84.6,800.5 L79.0,809.5" stroke="#fbe912" stroke-width="2.4" fill="none" stroke-linejoin="miter"/>
<path d="M232,960.7 L234.3,791.5" stroke="#fbe912" stroke-width="2.6" fill="none"/><path d="M240.4,803.1 L234.3,791.5 L227.8,802.9" stroke="#fbe912" stroke-width="2.4" fill="none" stroke-linejoin="miter"/>
<text class="sans" x="90.3" y="898.6" font-size="19.5" font-weight="bold">MnO<tspan font-size="13" dx="2.5" dy="8.5">2</tspan></text>
<text class="sans" x="245" y="954.2" font-size="20" font-weight="bold">SiC</text>
<text class="sans" x="163.5" y="749" font-size="20.5" font-weight="bold" fill="#d42030">e</text>
<text class="sans" x="153.3" y="1006.2" font-size="20" font-weight="bold" fill="#3b48b0">h</text>
<path d="M196.8,760.3 C180,755 150,758 134.5,773.5" stroke="#111" stroke-width="2" fill="none" stroke-linecap="round"/><path d="M136.5,767.1 L133.3,775 L141.6,773.3" stroke="#111" stroke-width="2" fill="none" stroke-linecap="round" stroke-linejoin="round"/>
<path d="M195,987.6 C170,988 152,980 143.5,963" stroke="#111" stroke-width="2" fill="none" stroke-linecap="round"/><path d="M149.7,967.2 L142.9,962 L142.4,970.5" stroke="#111" stroke-width="2" fill="none" stroke-linecap="round" stroke-linejoin="round"/>
<path d="M166,797.8 L188.7,788 M184.6,793.6 L188.7,788 L181.8,787.2 M172.9,798.6 L166,797.8 L170.1,792.2" stroke="#a04fa6" stroke-width="1.4" fill="none"/>
<path d="M161,936.3 L185.4,962.4 M178.7,960.4 L185.4,962.4 L183.9,955.6 M162.5,943.1 L161,936.3 L167.7,938.3" stroke="#a04fa6" stroke-width="1.4" fill="none"/>
<g class="sans" font-size="13.8" font-weight="bold"><text x="177.29999999999998" y="808.1" textLength="31" lengthAdjust="spacingAndGlyphs" fill="#dcdc3c" fill-opacity="0.85" stroke="#e4e450" stroke-width="1.6" stroke-opacity="0.6">CBO</text><text x="178.2" y="807.2" textLength="31" lengthAdjust="spacingAndGlyphs" fill="#9a44a2">CBO</text><text x="178.6" y="953.5" textLength="30.5" lengthAdjust="spacingAndGlyphs" fill="#dcdc3c" fill-opacity="0.85" stroke="#e4e450" stroke-width="1.6" stroke-opacity="0.6">VBO</text><text x="179.5" y="952.6" textLength="30.5" lengthAdjust="spacingAndGlyphs" fill="#9a44a2">VBO</text></g>
<path d="M77.2,954.6 h9 M81.7,950.1 v9 M94.0,954.6 h9 M98.5,950.1 v9 M110.9,954.6 h9 M115.4,950.1 v9 M127.7,954.6 h9 M132.2,950.1 v9" stroke="#4a4ccc" stroke-width="1.5" fill="none"/>
<path d="M205.0,984.5 h9 M209.5,980.0 v9 M221.6,984.5 h9 M226.1,980.0 v9 M238.1,984.5 h9 M242.6,980.0 v9 M254.7,984.5 h9 M259.2,980.0 v9" stroke="#4a4ccc" stroke-width="1.5" fill="none"/>
<polygon points="4.7,812.7 26.9,801 38,818 35.6,820.9 47.9,834.9 45,837.2 61.3,861.8 30.9,843.6 33.9,840.7 18.7,829.6 22.2,826.1" fill="#27a84b"/>
<polygon points="287.2,895.6 312.7,856.2 317.8,860.3 332.1,837.8 338.2,842.9 352.6,820.4 368.9,850.1 345.4,865.4 342.3,861.3 323.9,877.7 319.9,873.6" fill="#27a84b"/>
<text class="sans" x="2.7" y="850" font-size="19.5" fill="#2a9e4c" textLength="20.8" lengthAdjust="spacingAndGlyphs">hʋ</text>
<text class="sans" x="364.5" y="828.6" font-size="18.3" fill="#2a9e4c" textLength="21.8" lengthAdjust="spacingAndGlyphs">hʋ</text>
<rect x="275.5" y="708" width="2.6" height="2.4" fill="#d050d8"/>
<rect x="275.5" y="996.5" width="2.6" height="2.4" fill="#d050d8"/>
<text class="sans" x="469.5" y="905.4" font-size="16.4" font-weight="bold">(spin dn)</text>
<ellipse cx="437.6" cy="1097.3" rx="78.6" ry="152.3" fill="url(#redtex)"/>
<ellipse cx="567.6" cy="1090.2" rx="74.7" ry="195.5" fill="url(#bluetex)"/>
<ellipse cx="437.6" cy="1097.3" rx="78.6" ry="152.3" fill="url(#mixtex)" clip-path="url(#cb2)"/>
<path d="M402,1044.3 H461" stroke="#4050c8" stroke-width="2.6" stroke-dasharray="6.5,6.5"/>
<path d="M384.4,1058.3 H486" stroke="#cc0a0a" stroke-width="4.6"/>
<path d="M384.4,1178.9 H486" stroke="#cc0a0a" stroke-width="4.6"/>
<path d="M532.3,982.5 H594" stroke="#4050c8" stroke-width="2.6" stroke-dasharray="7,6.5"/>
<path d="M515.8,990.7 H612.8" stroke="#3a58cc" stroke-width="3"/>
<path d="M515.8,1189.8 H612.8" stroke="#3a58cc" stroke-width="2.6"/>
<path d="M415.6,1168.7 L415.6,1067.2" stroke="#fbe912" stroke-width="2.6" fill="none"/><path d="M421.9,1081.2 L415.6,1067.2 L409.3,1081.2" stroke="#fbe912" stroke-width="2.4" fill="none" stroke-linejoin="miter"/>
<path d="M549.4,1182.2 L550.5,998.3" stroke="#fbe912" stroke-width="2.6" fill="none"/><path d="M556.6,1016.3 L550.5,998.3 L544.2,1016.3" stroke="#fbe912" stroke-width="2.4" fill="none" stroke-linejoin="miter"/>
<text class="sans" x="421.3" y="1149.7" font-size="21" font-weight="bold">MnO<tspan font-size="15.5" dx="0.5" dy="7.5">2</tspan></text>
<text class="sans" x="556.2" y="1174" font-size="22" font-weight="bold">SiC</text>
<text class="sans" x="466.3" y="1008.5" font-size="22" font-weight="bold" fill="#d42030">e</text>
<text class="sans" x="485.3" y="1221" font-size="22" font-weight="bold" fill="#3b48b0">h</text>
<path d="M520,984.7 C495,992 472,1010 465,1036.5" stroke="#111" stroke-width="2" fill="none" stroke-linecap="round"/><path d="M462.9,1030.2 L463.8,1038.6 L470.3,1033.1" stroke="#111" stroke-width="2" fill="none" stroke-linecap="round" stroke-linejoin="round"/>
<path d="M520,1205.2 C505,1206 492,1202 485.5,1192" stroke="#111" stroke-width="2" fill="none" stroke-linecap="round"/><path d="M491.6,1195.4 L484.4,1190.9 L484.7,1199.4" stroke="#111" stroke-width="2" fill="none" stroke-linecap="round" stroke-linejoin="round"/>
<path d="M520.8,995 L489.6,1057.4 M489.2,1050.5 L489.6,1057.4 L495.4,1053.6 M515.0,998.8 L520.8,995 L521.2,1001.9" stroke="#a04fa6" stroke-width="1.4" fill="none"/>
<path d="M489.6,1174 L517.5,1188.8 M510.6,1189.1 L517.5,1188.8 L513.8,1182.9 M493.3,1179.9 L489.6,1174 L496.5,1173.7" stroke="#a04fa6" stroke-width="1.4" fill="none"/>
<g class="sans" font-size="16.2" font-weight="bold"><text x="507.40000000000003" y="1040.0" textLength="32.2" lengthAdjust="spacingAndGlyphs" fill="#dcdc3c" fill-opacity="0.85" stroke="#e4e450" stroke-width="1.6" stroke-opacity="0.6">CBO</text><text x="508.3" y="1039.1" textLength="32.2" lengthAdjust="spacingAndGlyphs" fill="#9a44a2">CBO</text><text x="508.3" y="1180.5" textLength="33" lengthAdjust="spacingAndGlyphs" fill="#dcdc3c" fill-opacity="0.85" stroke="#e4e450" stroke-width="1.6" stroke-opacity="0.6">VBO</text><text x="509.2" y="1179.6" textLength="33" lengthAdjust="spacingAndGlyphs" fill="#9a44a2">VBO</text></g>
<path d="M403.5,1197.3 h10 M408.5,1192.3 v10 M422.4,1197.3 h10 M427.4,1192.3 v10 M441.3,1197.3 h10 M446.3,1192.3 v10 M460.2,1197.3 h10 M465.2,1192.3 v10" stroke="#4050d0" stroke-width="2.6" fill="none"/>
<path d="M527.3,1205.9 h11 M532.8,1200.4 v11 M545.5,1205.9 h11 M551.0,1200.4 v11 M563.8,1205.9 h11 M569.3,1200.4 v11 M582.0,1205.9 h11 M587.5,1200.4 v11" stroke="#4050d0" stroke-width="2.6" fill="none"/>
<polygon points="330.5,1071.2 347.4,1061.9 356.8,1076.5 355,1079.4 365,1090.5 362.6,1094 375.5,1115 352.7,1099.3 355.6,1095.8 341.6,1086.4 345.1,1082.3" fill="#27a84b"/>
<polygon points="618.4,1090 637.8,1062.7 642.2,1065.8 654,1049 658.3,1054.6 670.7,1036 683.1,1056.5 665.1,1067.6 662.7,1064.5 647.8,1076.9 644,1073.2" fill="#27a84b"/>
<text class="sans" x="330" y="1055.5" font-size="20.5" font-weight="bold" fill="#2a9e4c" textLength="24.5" lengthAdjust="spacingAndGlyphs">hʋ</text>
<text class="sans" x="659.8" y="1029.2" font-size="21" font-weight="bold" fill="#2a9e4c" textLength="25" lengthAdjust="spacingAndGlyphs">hʋ</text>
<rect x="611" y="903.5" width="2" height="2.4" fill="#b050c0"/>
<rect x="611.8" y="1224" width="2" height="2.4" fill="#b050c0"/>
</svg>
</body></html>
